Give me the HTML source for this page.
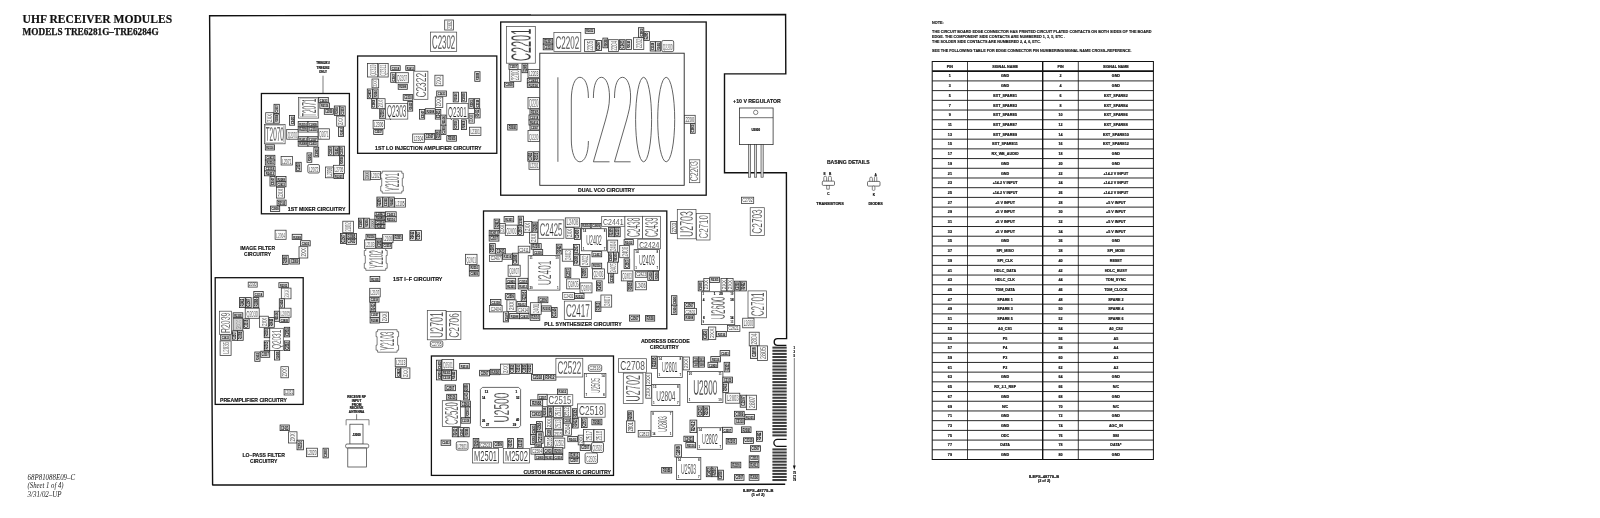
<!DOCTYPE html>
<html><head><meta charset="utf-8"><title>UHF Receiver Modules</title>
<style>
html,body{margin:0;padding:0;background:#fff;}
body{width:1600px;height:518px;overflow:hidden;font-family:"Liberation Sans",sans-serif;}
svg{display:block;filter:grayscale(1);font-family:"Liberation Sans",sans-serif;}
</style></head><body>
<svg width="1600" height="518" viewBox="0 0 1600 518">
<rect width="1600" height="518" fill="#fff"/>
<g opacity="0.999">
<text stroke="#111" stroke-width="0.2" x="22.6" y="23.2" font-size="12.4" text-anchor="start" font-weight="bold" font-family='"Liberation Serif", serif' font-style="normal" fill="#111" textLength="149.5" lengthAdjust="spacingAndGlyphs">UHF RECEIVER MODULES</text>
<text stroke="#111" stroke-width="0.25" x="22.6" y="35.4" font-size="9.6" text-anchor="start" font-weight="bold" font-family='"Liberation Serif", serif' font-style="normal" fill="#111" textLength="136.0" lengthAdjust="spacingAndGlyphs">MODELS TRE6281G&#8211;TRE6284G</text>
<text x="27.6" y="479.8" font-size="7.6" text-anchor="start" font-weight="normal" font-family='"Liberation Serif", serif' font-style="italic" fill="#222" textLength="47.5" lengthAdjust="spacingAndGlyphs">68P81088E09&#8211;C</text>
<text x="27.6" y="488.4" font-size="7.6" text-anchor="start" font-weight="normal" font-family='"Liberation Serif", serif' font-style="italic" fill="#222" textLength="36.0" lengthAdjust="spacingAndGlyphs">(Sheet 1 of 4)</text>
<text x="27.6" y="497.0" font-size="7.6" text-anchor="start" font-weight="normal" font-family='"Liberation Serif", serif' font-style="italic" fill="#222" textLength="34.0" lengthAdjust="spacingAndGlyphs">3/31/02&#8211;UP</text>
<path d="M212.6,485.0 L209.6,15.8 L785.6,14.5 L785.8,73.9 L724.5,73.9 L724.5,172.7 L786.4,172.7 L786.6,338.6 H777.6 a3.4,3.4 0 0 0 0,6.8 H786.4" fill="none" stroke="#111" stroke-width="1.4" stroke-linejoin="miter"/>
<path d="M212.2,485.1 L785.2,484.3" fill="none" stroke="#111" stroke-width="1.5"/>
<path d="M786.6,439.4 H777.4 a3.5,3.5 0 0 0 0,7 H786.6" fill="none" stroke="#111" stroke-width="1.3"/>
<rect x="772.4" y="346.60" width="14.3" height="2.05" fill="#3c3c3c"/>
<rect x="772.4" y="349.74" width="14.3" height="2.05" fill="#3c3c3c"/>
<rect x="772.4" y="352.87" width="14.3" height="2.05" fill="#3c3c3c"/>
<rect x="772.4" y="356.00" width="14.3" height="2.05" fill="#3c3c3c"/>
<rect x="772.4" y="359.14" width="14.3" height="2.05" fill="#3c3c3c"/>
<rect x="772.4" y="362.28" width="14.3" height="2.05" fill="#3c3c3c"/>
<rect x="772.4" y="365.41" width="14.3" height="2.05" fill="#3c3c3c"/>
<rect x="772.4" y="368.55" width="14.3" height="2.05" fill="#3c3c3c"/>
<rect x="772.4" y="371.68" width="14.3" height="2.05" fill="#3c3c3c"/>
<rect x="772.4" y="374.81" width="14.3" height="2.05" fill="#3c3c3c"/>
<rect x="772.4" y="377.95" width="14.3" height="2.05" fill="#3c3c3c"/>
<rect x="772.4" y="381.09" width="14.3" height="2.05" fill="#3c3c3c"/>
<rect x="772.4" y="384.22" width="14.3" height="2.05" fill="#3c3c3c"/>
<rect x="772.4" y="387.36" width="14.3" height="2.05" fill="#3c3c3c"/>
<rect x="772.4" y="390.49" width="14.3" height="2.05" fill="#3c3c3c"/>
<rect x="772.4" y="393.62" width="14.3" height="2.05" fill="#3c3c3c"/>
<rect x="772.4" y="396.76" width="14.3" height="2.05" fill="#3c3c3c"/>
<rect x="772.4" y="399.90" width="14.3" height="2.05" fill="#3c3c3c"/>
<rect x="772.4" y="403.03" width="14.3" height="2.05" fill="#3c3c3c"/>
<rect x="772.4" y="406.17" width="14.3" height="2.05" fill="#3c3c3c"/>
<rect x="772.4" y="409.30" width="14.3" height="2.05" fill="#3c3c3c"/>
<rect x="772.4" y="412.44" width="14.3" height="2.05" fill="#3c3c3c"/>
<rect x="772.4" y="415.57" width="14.3" height="2.05" fill="#3c3c3c"/>
<rect x="772.4" y="418.71" width="14.3" height="2.05" fill="#3c3c3c"/>
<rect x="772.4" y="421.84" width="14.3" height="2.05" fill="#3c3c3c"/>
<rect x="772.4" y="424.98" width="14.3" height="2.05" fill="#3c3c3c"/>
<rect x="772.4" y="428.11" width="14.3" height="2.05" fill="#3c3c3c"/>
<rect x="772.4" y="431.25" width="14.3" height="2.05" fill="#3c3c3c"/>
<rect x="772.4" y="434.38" width="14.3" height="2.05" fill="#3c3c3c"/>
<rect x="772.4" y="448.40" width="14.3" height="2.05" fill="#3c3c3c"/>
<rect x="772.4" y="451.46" width="14.3" height="2.05" fill="#3c3c3c"/>
<rect x="772.4" y="454.52" width="14.3" height="2.05" fill="#3c3c3c"/>
<rect x="772.4" y="457.58" width="14.3" height="2.05" fill="#3c3c3c"/>
<rect x="772.4" y="460.64" width="14.3" height="2.05" fill="#3c3c3c"/>
<rect x="772.4" y="463.70" width="14.3" height="2.05" fill="#3c3c3c"/>
<rect x="772.4" y="466.76" width="14.3" height="2.05" fill="#3c3c3c"/>
<rect x="772.4" y="469.82" width="14.3" height="2.05" fill="#3c3c3c"/>
<rect x="772.4" y="472.88" width="14.3" height="2.05" fill="#3c3c3c"/>
<rect x="772.4" y="475.94" width="14.3" height="2.05" fill="#3c3c3c"/>
<rect x="772.4" y="479.00" width="14.3" height="2.05" fill="#3c3c3c"/>
<line x1="794.3" y1="358" x2="794.3" y2="468" stroke="#222" stroke-width="0.6"/>
<path d="M792.9,465.5 L795.7,465.5 L794.3,470 Z" fill="#111"/>
<text x="794.3" y="349.2" font-size="2.8" text-anchor="middle" font-weight="bold" font-family='"Liberation Sans", sans-serif' font-style="normal" fill="#111" stroke="#111" stroke-width="0.18">1</text>
<text x="794.3" y="353.2" font-size="2.8" text-anchor="middle" font-weight="bold" font-family='"Liberation Sans", sans-serif' font-style="normal" fill="#111" stroke="#111" stroke-width="0.18">3</text>
<text x="794.3" y="357.0" font-size="2.8" text-anchor="middle" font-weight="bold" font-family='"Liberation Sans", sans-serif' font-style="normal" fill="#111" stroke="#111" stroke-width="0.18">5</text>
<text x="794.6" y="473.7" font-size="2.8" text-anchor="middle" font-weight="bold" font-family='"Liberation Sans", sans-serif' font-style="normal" fill="#111" stroke="#111" stroke-width="0.18">75</text>
<text x="794.6" y="477.5" font-size="2.8" text-anchor="middle" font-weight="bold" font-family='"Liberation Sans", sans-serif' font-style="normal" fill="#111" stroke="#111" stroke-width="0.18">77</text>
<text x="794.6" y="481.3" font-size="2.8" text-anchor="middle" font-weight="bold" font-family='"Liberation Sans", sans-serif' font-style="normal" fill="#111" stroke="#111" stroke-width="0.18">79</text>
<text x="758.2" y="491.9" font-size="3.6" text-anchor="middle" font-weight="bold" font-family='"Liberation Sans", sans-serif' font-style="normal" fill="#111" textLength="30.5" lengthAdjust="spacingAndGlyphs" stroke="#111" stroke-width="0.18">ILEPS&#8211;48779&#8211;B</text>
<text x="758.0" y="496.1" font-size="3.4" text-anchor="middle" font-weight="bold" font-family='"Liberation Sans", sans-serif' font-style="normal" fill="#111" textLength="13.0" lengthAdjust="spacingAndGlyphs" stroke="#111" stroke-width="0.18">(1 of 2)</text>
<rect x="261.4" y="93.5" width="88.0" height="120.3" fill="none" stroke="#111" stroke-width="1.3"/>
<rect x="357.6" y="56.0" width="139.2" height="97.3" fill="none" stroke="#111" stroke-width="1.3"/>
<rect x="500.7" y="22.0" width="205.5" height="173.2" fill="none" stroke="#111" stroke-width="1.3"/>
<rect x="215.2" y="277.7" width="88.0" height="126.7" fill="none" stroke="#111" stroke-width="1.3"/>
<rect x="483.5" y="211.0" width="183.3" height="117.8" fill="none" stroke="#111" stroke-width="1.3"/>
<rect x="431.4" y="356.0" width="182.1" height="119.4" fill="none" stroke="#111" stroke-width="1.3"/>
<text x="316.6" y="211.3" font-size="5.0" text-anchor="middle" font-weight="bold" font-family='"Liberation Sans", sans-serif' font-style="normal" fill="#111" textLength="57.6" lengthAdjust="spacingAndGlyphs" stroke="#111" stroke-width="0.14">1ST MIXER CIRCUITRY</text>
<text x="428.3" y="150.4" font-size="5.0" text-anchor="middle" font-weight="bold" font-family='"Liberation Sans", sans-serif' font-style="normal" fill="#111" textLength="106.4" lengthAdjust="spacingAndGlyphs" stroke="#111" stroke-width="0.14">1ST LO INJECTION AMPLIFIER CIRCUITRY</text>
<text x="606.3" y="192.3" font-size="5.0" text-anchor="middle" font-weight="bold" font-family='"Liberation Sans", sans-serif' font-style="normal" fill="#111" textLength="56.6" lengthAdjust="spacingAndGlyphs" stroke="#111" stroke-width="0.14">DUAL VCO CIRCUITRY</text>
<text x="253.5" y="401.7" font-size="5.0" text-anchor="middle" font-weight="bold" font-family='"Liberation Sans", sans-serif' font-style="normal" fill="#111" textLength="67.0" lengthAdjust="spacingAndGlyphs" stroke="#111" stroke-width="0.14">PREAMPLIFIER CIRCUITRY</text>
<text x="583.0" y="325.6" font-size="5.0" text-anchor="middle" font-weight="bold" font-family='"Liberation Sans", sans-serif' font-style="normal" fill="#111" textLength="77.3" lengthAdjust="spacingAndGlyphs" stroke="#111" stroke-width="0.14">PLL SYNTHESIZER CIRCUITRY</text>
<text x="567.2" y="473.6" font-size="5.0" text-anchor="middle" font-weight="bold" font-family='"Liberation Sans", sans-serif' font-style="normal" fill="#111" textLength="87.6" lengthAdjust="spacingAndGlyphs" stroke="#111" stroke-width="0.14">CUSTOM RECEIVER IC CIRCUITRY</text>
<text x="257.6" y="249.8" font-size="4.9" text-anchor="middle" font-weight="bold" font-family='"Liberation Sans", sans-serif' font-style="normal" fill="#111" textLength="34.8" lengthAdjust="spacingAndGlyphs" stroke="#111" stroke-width="0.14">IMAGE FILTER</text>
<text x="257.6" y="255.6" font-size="4.9" text-anchor="middle" font-weight="bold" font-family='"Liberation Sans", sans-serif' font-style="normal" fill="#111" textLength="27.0" lengthAdjust="spacingAndGlyphs" stroke="#111" stroke-width="0.14">CIRCUITRY</text>
<text x="417.7" y="281.0" font-size="5.0" text-anchor="middle" font-weight="bold" font-family='"Liberation Sans", sans-serif' font-style="normal" fill="#111" textLength="49.4" lengthAdjust="spacingAndGlyphs" stroke="#111" stroke-width="0.14">1ST I&#8211;F CIRCUITRY</text>
<text x="665.3" y="342.6" font-size="5.0" text-anchor="middle" font-weight="bold" font-family='"Liberation Sans", sans-serif' font-style="normal" fill="#111" textLength="48.8" lengthAdjust="spacingAndGlyphs" stroke="#111" stroke-width="0.14">ADDRESS DECODE</text>
<text x="664.3" y="348.8" font-size="5.0" text-anchor="middle" font-weight="bold" font-family='"Liberation Sans", sans-serif' font-style="normal" fill="#111" textLength="28.9" lengthAdjust="spacingAndGlyphs" stroke="#111" stroke-width="0.14">CIRCUITRY</text>
<text x="263.7" y="456.9" font-size="4.9" text-anchor="middle" font-weight="bold" font-family='"Liberation Sans", sans-serif' font-style="normal" fill="#111" textLength="42.5" lengthAdjust="spacingAndGlyphs" stroke="#111" stroke-width="0.14">LO&#8211;PASS FILTER</text>
<text x="263.7" y="462.7" font-size="4.9" text-anchor="middle" font-weight="bold" font-family='"Liberation Sans", sans-serif' font-style="normal" fill="#111" textLength="27.3" lengthAdjust="spacingAndGlyphs" stroke="#111" stroke-width="0.14">CIRCUITRY</text>
<text x="757.0" y="102.7" font-size="5.0" text-anchor="middle" font-weight="bold" font-family='"Liberation Sans", sans-serif' font-style="normal" fill="#111" textLength="47.8" lengthAdjust="spacingAndGlyphs" stroke="#111" stroke-width="0.14">+10 V REGULATOR</text>
<text x="323.0" y="64.4" font-size="3.3" text-anchor="middle" font-weight="bold" font-family='"Liberation Sans", sans-serif' font-style="normal" fill="#111" textLength="13.5" lengthAdjust="spacingAndGlyphs" stroke="#111" stroke-width="0.18">TRE6281/</text>
<text x="323.0" y="68.9" font-size="3.3" text-anchor="middle" font-weight="bold" font-family='"Liberation Sans", sans-serif' font-style="normal" fill="#111" textLength="13.0" lengthAdjust="spacingAndGlyphs" stroke="#111" stroke-width="0.18">TRE6282</text>
<text x="323.0" y="73.4" font-size="3.3" text-anchor="middle" font-weight="bold" font-family='"Liberation Sans", sans-serif' font-style="normal" fill="#111" textLength="8.0" lengthAdjust="spacingAndGlyphs" stroke="#111" stroke-width="0.18">ONLY</text>
<line x1="323" y1="75.7" x2="323" y2="93.5" stroke="#222" stroke-width="0.6"/>
<text x="356.6" y="398.3" font-size="3.2" text-anchor="middle" font-weight="bold" font-family='"Liberation Sans", sans-serif' font-style="normal" fill="#111" textLength="18.6" lengthAdjust="spacingAndGlyphs" stroke="#111" stroke-width="0.18">RECEIVE RF</text>
<text x="356.6" y="402.0" font-size="3.2" text-anchor="middle" font-weight="bold" font-family='"Liberation Sans", sans-serif' font-style="normal" fill="#111" textLength="9.5" lengthAdjust="spacingAndGlyphs" stroke="#111" stroke-width="0.18">INPUT</text>
<text x="356.6" y="405.7" font-size="3.2" text-anchor="middle" font-weight="bold" font-family='"Liberation Sans", sans-serif' font-style="normal" fill="#111" textLength="9.5" lengthAdjust="spacingAndGlyphs" stroke="#111" stroke-width="0.18">FROM</text>
<text x="356.6" y="409.3" font-size="3.2" text-anchor="middle" font-weight="bold" font-family='"Liberation Sans", sans-serif' font-style="normal" fill="#111" textLength="13.5" lengthAdjust="spacingAndGlyphs" stroke="#111" stroke-width="0.18">RECEIVE</text>
<text x="356.6" y="413.0" font-size="3.2" text-anchor="middle" font-weight="bold" font-family='"Liberation Sans", sans-serif' font-style="normal" fill="#111" textLength="15.5" lengthAdjust="spacingAndGlyphs" stroke="#111" stroke-width="0.18">ANTENNA</text>
<line x1="356.6" y1="414.2" x2="356.6" y2="419.7" stroke="#222" stroke-width="0.6"/>
<path d="M346.1,425.3 V419.7 H369 V425.3" fill="none" stroke="#333" stroke-width="0.6"/>
<rect x="349.9" y="424.2" width="13.1" height="20.0" fill="#fff" stroke="#333" stroke-width="0.7"/>
<text x="356.6" y="436.0" font-size="2.9" text-anchor="middle" font-weight="bold" font-family='"Liberation Sans", sans-serif' font-style="normal" fill="#111" stroke="#111" stroke-width="0.18">J2000</text>
<rect x="345.6" y="444.0" width="23.1" height="4.0" fill="#fff" stroke="#333" stroke-width="0.7" rx="1.5"/>
<rect x="347.8" y="448.0" width="18.8" height="19.0" fill="#fff" stroke="#333" stroke-width="0.7"/>
<line x1="348" y1="448.6" x2="366.4" y2="448.6" stroke="#888" stroke-width="0.5"/>
<rect x="739.4" y="108.0" width="33.7" height="36.6" fill="#fff" stroke="#333" stroke-width="0.8"/>
<line x1="739.4" y1="117.7" x2="773.1" y2="117.7" stroke="#333" stroke-width="0.7"/>
<circle cx="755.7" cy="112.4" r="2.2" fill="#fff" stroke="#333" stroke-width="0.6"/>
<text x="755.8" y="131.4" font-size="2.9" text-anchor="middle" font-weight="bold" font-family='"Liberation Sans", sans-serif' font-style="normal" fill="#111" stroke="#111" stroke-width="0.18">U2800</text>
<rect x="748.5" y="144.6" width="2.2" height="32.6" fill="#ddd" stroke="#333" stroke-width="0.6"/>
<rect x="754.5" y="144.6" width="2.2" height="32.6" fill="#ddd" stroke="#333" stroke-width="0.6"/>
<rect x="761.0" y="144.6" width="2.2" height="32.6" fill="#ddd" stroke="#333" stroke-width="0.6"/>
<text x="848.3" y="164.2" font-size="5.0" text-anchor="middle" font-weight="bold" font-family='"Liberation Sans", sans-serif' font-style="normal" fill="#111" textLength="42.8" lengthAdjust="spacingAndGlyphs" stroke="#111" stroke-width="0.14">BASING DETAILS</text>
<rect x="822.3" y="181.1" width="12.2" height="4.3" fill="#fff" stroke="#333" stroke-width="0.7" rx="1"/>
<path d="M823.8,181.1 V177.6 a1.4,1.4 0 0 1 2.8,0 V181.1 M828.4,181.1 V177.6 a1.5,1.5 0 0 1 3,0 V181.1" fill="none" stroke="#333" stroke-width="0.6"/>
<rect x="826.8" y="185.4" width="2.4" height="3.7" fill="#fff" stroke="#333" stroke-width="0.6"/>
<text x="824.5" y="174.6" font-size="3.2" text-anchor="middle" font-weight="bold" font-family='"Liberation Sans", sans-serif' font-style="normal" fill="#111" stroke="#111" stroke-width="0.18">E</text>
<text x="830.1" y="174.6" font-size="3.2" text-anchor="middle" font-weight="bold" font-family='"Liberation Sans", sans-serif' font-style="normal" fill="#111" stroke="#111" stroke-width="0.18">B</text>
<text x="828.4" y="194.6" font-size="3.2" text-anchor="middle" font-weight="bold" font-family='"Liberation Sans", sans-serif' font-style="normal" fill="#111" stroke="#111" stroke-width="0.18">C</text>
<text x="830.0" y="204.7" font-size="3.6" text-anchor="middle" font-weight="bold" font-family='"Liberation Sans", sans-serif' font-style="normal" fill="#111" textLength="27.4" lengthAdjust="spacingAndGlyphs" stroke="#111" stroke-width="0.18">TRANSISTORS</text>
<rect x="867.5" y="181.4" width="12.5" height="4.7" fill="#fff" stroke="#333" stroke-width="0.7" rx="1"/>
<path d="M869.8,181.4 V178.4 a1.3,1.3 0 0 1 2.6,0 V181.4 M874.4,181.4 V177.6 a1.2,1.2 0 0 1 2.4,0 V181.4" fill="none" stroke="#333" stroke-width="0.6"/>
<rect x="872.3" y="186.1" width="2.6" height="4.3" fill="#fff" stroke="#333" stroke-width="0.6" rx="1"/>
<text x="875.7" y="175.8" font-size="3.2" text-anchor="middle" font-weight="bold" font-family='"Liberation Sans", sans-serif' font-style="normal" fill="#111" stroke="#111" stroke-width="0.18">A</text>
<text x="874.0" y="195.6" font-size="3.2" text-anchor="middle" font-weight="bold" font-family='"Liberation Sans", sans-serif' font-style="normal" fill="#111" stroke="#111" stroke-width="0.18">K</text>
<text x="875.6" y="204.7" font-size="3.6" text-anchor="middle" font-weight="bold" font-family='"Liberation Sans", sans-serif' font-style="normal" fill="#111" textLength="14.4" lengthAdjust="spacingAndGlyphs" stroke="#111" stroke-width="0.18">DIODES</text>
<text x="932.1" y="24.1" font-size="4.15" text-anchor="start" font-weight="bold" font-family='"Liberation Sans", sans-serif' font-style="normal" fill="#111" textLength="11.7" lengthAdjust="spacingAndGlyphs" stroke="#111" stroke-width="0.14">NOTE:</text>
<text x="932.1" y="33.4" font-size="4.15" text-anchor="start" font-weight="bold" font-family='"Liberation Sans", sans-serif' font-style="normal" fill="#111" textLength="219.5" lengthAdjust="spacingAndGlyphs" stroke="#111" stroke-width="0.14">THE CIRCUIT BOARD EDGE CONNECTOR HAS PRINTED CIRCUIT PLATED CONTACTS ON BOTH SIDES OF THE BOARD</text>
<text x="932.1" y="38.1" font-size="4.15" text-anchor="start" font-weight="bold" font-family='"Liberation Sans", sans-serif' font-style="normal" fill="#111" textLength="133.0" lengthAdjust="spacingAndGlyphs" stroke="#111" stroke-width="0.14">EDGE. THE COMPONENT SIDE CONTACTS ARE NUMBERED 1, 3, 5, ETC .</text>
<text x="932.1" y="43.1" font-size="4.15" text-anchor="start" font-weight="bold" font-family='"Liberation Sans", sans-serif' font-style="normal" fill="#111" textLength="108.8" lengthAdjust="spacingAndGlyphs" stroke="#111" stroke-width="0.14">THE SOLDER SIDE CONTACTS ARE NUMBERED 2, 4, 6, ETC.</text>
<text x="932.1" y="52.4" font-size="4.15" text-anchor="start" font-weight="bold" font-family='"Liberation Sans", sans-serif' font-style="normal" fill="#111" textLength="199.5" lengthAdjust="spacingAndGlyphs" stroke="#111" stroke-width="0.14">SEE THE FOLLOWING TABLE FOR EDGE CONNECTOR PIN NUMBERING/SIGNAL NAME CROSS&#8211;REFERENCE.</text>
<rect x="932.2" y="61.5" width="221.2" height="398.0" fill="#fff" stroke="#111" stroke-width="1.0"/>
<line x1="932.2" y1="71.21" x2="1153.4" y2="71.21" stroke="#111" stroke-width="1.7"/>
<line x1="932.2" y1="80.91" x2="1153.4" y2="80.91" stroke="#111" stroke-width="0.9"/>
<line x1="932.2" y1="90.62" x2="1153.4" y2="90.62" stroke="#111" stroke-width="0.9"/>
<line x1="932.2" y1="100.33" x2="1153.4" y2="100.33" stroke="#111" stroke-width="0.9"/>
<line x1="932.2" y1="110.04" x2="1153.4" y2="110.04" stroke="#111" stroke-width="0.9"/>
<line x1="932.2" y1="119.74" x2="1153.4" y2="119.74" stroke="#111" stroke-width="0.9"/>
<line x1="932.2" y1="129.45" x2="1153.4" y2="129.45" stroke="#111" stroke-width="0.9"/>
<line x1="932.2" y1="139.16" x2="1153.4" y2="139.16" stroke="#111" stroke-width="0.9"/>
<line x1="932.2" y1="148.87" x2="1153.4" y2="148.87" stroke="#111" stroke-width="0.9"/>
<line x1="932.2" y1="158.57" x2="1153.4" y2="158.57" stroke="#111" stroke-width="0.9"/>
<line x1="932.2" y1="168.28" x2="1153.4" y2="168.28" stroke="#111" stroke-width="0.9"/>
<line x1="932.2" y1="177.99" x2="1153.4" y2="177.99" stroke="#111" stroke-width="0.9"/>
<line x1="932.2" y1="187.70" x2="1153.4" y2="187.70" stroke="#111" stroke-width="0.9"/>
<line x1="932.2" y1="197.40" x2="1153.4" y2="197.40" stroke="#111" stroke-width="0.9"/>
<line x1="932.2" y1="207.11" x2="1153.4" y2="207.11" stroke="#111" stroke-width="0.9"/>
<line x1="932.2" y1="216.82" x2="1153.4" y2="216.82" stroke="#111" stroke-width="0.9"/>
<line x1="932.2" y1="226.52" x2="1153.4" y2="226.52" stroke="#111" stroke-width="0.9"/>
<line x1="932.2" y1="236.23" x2="1153.4" y2="236.23" stroke="#111" stroke-width="0.9"/>
<line x1="932.2" y1="245.94" x2="1153.4" y2="245.94" stroke="#111" stroke-width="0.9"/>
<line x1="932.2" y1="255.65" x2="1153.4" y2="255.65" stroke="#111" stroke-width="0.9"/>
<line x1="932.2" y1="265.35" x2="1153.4" y2="265.35" stroke="#111" stroke-width="0.9"/>
<line x1="932.2" y1="275.06" x2="1153.4" y2="275.06" stroke="#111" stroke-width="0.9"/>
<line x1="932.2" y1="284.77" x2="1153.4" y2="284.77" stroke="#111" stroke-width="0.9"/>
<line x1="932.2" y1="294.48" x2="1153.4" y2="294.48" stroke="#111" stroke-width="0.9"/>
<line x1="932.2" y1="304.18" x2="1153.4" y2="304.18" stroke="#111" stroke-width="0.9"/>
<line x1="932.2" y1="313.89" x2="1153.4" y2="313.89" stroke="#111" stroke-width="0.9"/>
<line x1="932.2" y1="323.60" x2="1153.4" y2="323.60" stroke="#111" stroke-width="0.9"/>
<line x1="932.2" y1="333.30" x2="1153.4" y2="333.30" stroke="#111" stroke-width="0.9"/>
<line x1="932.2" y1="343.01" x2="1153.4" y2="343.01" stroke="#111" stroke-width="0.9"/>
<line x1="932.2" y1="352.72" x2="1153.4" y2="352.72" stroke="#111" stroke-width="0.9"/>
<line x1="932.2" y1="362.43" x2="1153.4" y2="362.43" stroke="#111" stroke-width="0.9"/>
<line x1="932.2" y1="372.13" x2="1153.4" y2="372.13" stroke="#111" stroke-width="0.9"/>
<line x1="932.2" y1="381.84" x2="1153.4" y2="381.84" stroke="#111" stroke-width="0.9"/>
<line x1="932.2" y1="391.55" x2="1153.4" y2="391.55" stroke="#111" stroke-width="0.9"/>
<line x1="932.2" y1="401.26" x2="1153.4" y2="401.26" stroke="#111" stroke-width="0.9"/>
<line x1="932.2" y1="410.96" x2="1153.4" y2="410.96" stroke="#111" stroke-width="0.9"/>
<line x1="932.2" y1="420.67" x2="1153.4" y2="420.67" stroke="#111" stroke-width="0.9"/>
<line x1="932.2" y1="430.38" x2="1153.4" y2="430.38" stroke="#111" stroke-width="0.9"/>
<line x1="932.2" y1="440.09" x2="1153.4" y2="440.09" stroke="#111" stroke-width="0.9"/>
<line x1="932.2" y1="449.79" x2="1153.4" y2="449.79" stroke="#111" stroke-width="0.9"/>
<line x1="967.5" y1="61.5" x2="967.5" y2="459.5" stroke="#111" stroke-width="0.8"/>
<line x1="1042.7" y1="61.5" x2="1042.7" y2="459.5" stroke="#111" stroke-width="1.4"/>
<line x1="1078.3" y1="61.5" x2="1078.3" y2="459.5" stroke="#111" stroke-width="0.8"/>
<text x="949.9" y="67.7" font-size="3.7" text-anchor="middle" font-weight="bold" font-family='"Liberation Sans", sans-serif' font-style="normal" fill="#111" stroke="#111" stroke-width="0.18">PIN</text>
<text x="1005.1" y="67.7" font-size="3.7" text-anchor="middle" font-weight="bold" font-family='"Liberation Sans", sans-serif' font-style="normal" fill="#111" stroke="#111" stroke-width="0.18">SIGNAL NAME</text>
<text x="1060.5" y="67.7" font-size="3.7" text-anchor="middle" font-weight="bold" font-family='"Liberation Sans", sans-serif' font-style="normal" fill="#111" stroke="#111" stroke-width="0.18">PIN</text>
<text x="1115.9" y="67.7" font-size="3.7" text-anchor="middle" font-weight="bold" font-family='"Liberation Sans", sans-serif' font-style="normal" fill="#111" stroke="#111" stroke-width="0.18">SIGNAL NAME</text>
<text x="949.9" y="77.4" font-size="3.7" text-anchor="middle" font-weight="bold" font-family='"Liberation Sans", sans-serif' font-style="normal" fill="#111" stroke="#111" stroke-width="0.18">1</text>
<text x="1005.1" y="77.4" font-size="3.7" text-anchor="middle" font-weight="bold" font-family='"Liberation Sans", sans-serif' font-style="normal" fill="#111" stroke="#111" stroke-width="0.18">GND</text>
<text x="1060.5" y="77.4" font-size="3.7" text-anchor="middle" font-weight="bold" font-family='"Liberation Sans", sans-serif' font-style="normal" fill="#111" stroke="#111" stroke-width="0.18">2</text>
<text x="1115.9" y="77.4" font-size="3.7" text-anchor="middle" font-weight="bold" font-family='"Liberation Sans", sans-serif' font-style="normal" fill="#111" stroke="#111" stroke-width="0.18">GND</text>
<text x="949.9" y="87.1" font-size="3.7" text-anchor="middle" font-weight="bold" font-family='"Liberation Sans", sans-serif' font-style="normal" fill="#111" stroke="#111" stroke-width="0.18">3</text>
<text x="1005.1" y="87.1" font-size="3.7" text-anchor="middle" font-weight="bold" font-family='"Liberation Sans", sans-serif' font-style="normal" fill="#111" stroke="#111" stroke-width="0.18">GND</text>
<text x="1060.5" y="87.1" font-size="3.7" text-anchor="middle" font-weight="bold" font-family='"Liberation Sans", sans-serif' font-style="normal" fill="#111" stroke="#111" stroke-width="0.18">4</text>
<text x="1115.9" y="87.1" font-size="3.7" text-anchor="middle" font-weight="bold" font-family='"Liberation Sans", sans-serif' font-style="normal" fill="#111" stroke="#111" stroke-width="0.18">GND</text>
<text x="949.9" y="96.8" font-size="3.7" text-anchor="middle" font-weight="bold" font-family='"Liberation Sans", sans-serif' font-style="normal" fill="#111" stroke="#111" stroke-width="0.18">5</text>
<text x="1005.1" y="96.8" font-size="3.7" text-anchor="middle" font-weight="bold" font-family='"Liberation Sans", sans-serif' font-style="normal" fill="#111" stroke="#111" stroke-width="0.18">EXT_SPARE1</text>
<text x="1060.5" y="96.8" font-size="3.7" text-anchor="middle" font-weight="bold" font-family='"Liberation Sans", sans-serif' font-style="normal" fill="#111" stroke="#111" stroke-width="0.18">6</text>
<text x="1115.9" y="96.8" font-size="3.7" text-anchor="middle" font-weight="bold" font-family='"Liberation Sans", sans-serif' font-style="normal" fill="#111" stroke="#111" stroke-width="0.18">EXT_SPARE2</text>
<text x="949.9" y="106.5" font-size="3.7" text-anchor="middle" font-weight="bold" font-family='"Liberation Sans", sans-serif' font-style="normal" fill="#111" stroke="#111" stroke-width="0.18">7</text>
<text x="1005.1" y="106.5" font-size="3.7" text-anchor="middle" font-weight="bold" font-family='"Liberation Sans", sans-serif' font-style="normal" fill="#111" stroke="#111" stroke-width="0.18">EXT_SPARE3</text>
<text x="1060.5" y="106.5" font-size="3.7" text-anchor="middle" font-weight="bold" font-family='"Liberation Sans", sans-serif' font-style="normal" fill="#111" stroke="#111" stroke-width="0.18">8</text>
<text x="1115.9" y="106.5" font-size="3.7" text-anchor="middle" font-weight="bold" font-family='"Liberation Sans", sans-serif' font-style="normal" fill="#111" stroke="#111" stroke-width="0.18">EXT_SPARE4</text>
<text x="949.9" y="116.2" font-size="3.7" text-anchor="middle" font-weight="bold" font-family='"Liberation Sans", sans-serif' font-style="normal" fill="#111" stroke="#111" stroke-width="0.18">9</text>
<text x="1005.1" y="116.2" font-size="3.7" text-anchor="middle" font-weight="bold" font-family='"Liberation Sans", sans-serif' font-style="normal" fill="#111" stroke="#111" stroke-width="0.18">EXT_SPARE5</text>
<text x="1060.5" y="116.2" font-size="3.7" text-anchor="middle" font-weight="bold" font-family='"Liberation Sans", sans-serif' font-style="normal" fill="#111" stroke="#111" stroke-width="0.18">10</text>
<text x="1115.9" y="116.2" font-size="3.7" text-anchor="middle" font-weight="bold" font-family='"Liberation Sans", sans-serif' font-style="normal" fill="#111" stroke="#111" stroke-width="0.18">EXT_SPARE6</text>
<text x="949.9" y="125.9" font-size="3.7" text-anchor="middle" font-weight="bold" font-family='"Liberation Sans", sans-serif' font-style="normal" fill="#111" stroke="#111" stroke-width="0.18">11</text>
<text x="1005.1" y="125.9" font-size="3.7" text-anchor="middle" font-weight="bold" font-family='"Liberation Sans", sans-serif' font-style="normal" fill="#111" stroke="#111" stroke-width="0.18">EXT_SPARE7</text>
<text x="1060.5" y="125.9" font-size="3.7" text-anchor="middle" font-weight="bold" font-family='"Liberation Sans", sans-serif' font-style="normal" fill="#111" stroke="#111" stroke-width="0.18">12</text>
<text x="1115.9" y="125.9" font-size="3.7" text-anchor="middle" font-weight="bold" font-family='"Liberation Sans", sans-serif' font-style="normal" fill="#111" stroke="#111" stroke-width="0.18">EXT_SPARE8</text>
<text x="949.9" y="135.7" font-size="3.7" text-anchor="middle" font-weight="bold" font-family='"Liberation Sans", sans-serif' font-style="normal" fill="#111" stroke="#111" stroke-width="0.18">13</text>
<text x="1005.1" y="135.7" font-size="3.7" text-anchor="middle" font-weight="bold" font-family='"Liberation Sans", sans-serif' font-style="normal" fill="#111" stroke="#111" stroke-width="0.18">EXT_SPARE9</text>
<text x="1060.5" y="135.7" font-size="3.7" text-anchor="middle" font-weight="bold" font-family='"Liberation Sans", sans-serif' font-style="normal" fill="#111" stroke="#111" stroke-width="0.18">14</text>
<text x="1115.9" y="135.7" font-size="3.7" text-anchor="middle" font-weight="bold" font-family='"Liberation Sans", sans-serif' font-style="normal" fill="#111" stroke="#111" stroke-width="0.18">EXT_SPARE10</text>
<text x="949.9" y="145.4" font-size="3.7" text-anchor="middle" font-weight="bold" font-family='"Liberation Sans", sans-serif' font-style="normal" fill="#111" stroke="#111" stroke-width="0.18">15</text>
<text x="1005.1" y="145.4" font-size="3.7" text-anchor="middle" font-weight="bold" font-family='"Liberation Sans", sans-serif' font-style="normal" fill="#111" stroke="#111" stroke-width="0.18">EXT_SPARE11</text>
<text x="1060.5" y="145.4" font-size="3.7" text-anchor="middle" font-weight="bold" font-family='"Liberation Sans", sans-serif' font-style="normal" fill="#111" stroke="#111" stroke-width="0.18">16</text>
<text x="1115.9" y="145.4" font-size="3.7" text-anchor="middle" font-weight="bold" font-family='"Liberation Sans", sans-serif' font-style="normal" fill="#111" stroke="#111" stroke-width="0.18">EXT_SPARE12</text>
<text x="949.9" y="155.1" font-size="3.7" text-anchor="middle" font-weight="bold" font-family='"Liberation Sans", sans-serif' font-style="normal" fill="#111" stroke="#111" stroke-width="0.18">17</text>
<text x="1005.1" y="155.1" font-size="3.7" text-anchor="middle" font-weight="bold" font-family='"Liberation Sans", sans-serif' font-style="normal" fill="#111" stroke="#111" stroke-width="0.18">RX_WB_AUDIO</text>
<text x="1060.5" y="155.1" font-size="3.7" text-anchor="middle" font-weight="bold" font-family='"Liberation Sans", sans-serif' font-style="normal" fill="#111" stroke="#111" stroke-width="0.18">18</text>
<text x="1115.9" y="155.1" font-size="3.7" text-anchor="middle" font-weight="bold" font-family='"Liberation Sans", sans-serif' font-style="normal" fill="#111" stroke="#111" stroke-width="0.18">GND</text>
<text x="949.9" y="164.8" font-size="3.7" text-anchor="middle" font-weight="bold" font-family='"Liberation Sans", sans-serif' font-style="normal" fill="#111" stroke="#111" stroke-width="0.18">19</text>
<text x="1005.1" y="164.8" font-size="3.7" text-anchor="middle" font-weight="bold" font-family='"Liberation Sans", sans-serif' font-style="normal" fill="#111" stroke="#111" stroke-width="0.18">GND</text>
<text x="1060.5" y="164.8" font-size="3.7" text-anchor="middle" font-weight="bold" font-family='"Liberation Sans", sans-serif' font-style="normal" fill="#111" stroke="#111" stroke-width="0.18">20</text>
<text x="1115.9" y="164.8" font-size="3.7" text-anchor="middle" font-weight="bold" font-family='"Liberation Sans", sans-serif' font-style="normal" fill="#111" stroke="#111" stroke-width="0.18">GND</text>
<text x="949.9" y="174.5" font-size="3.7" text-anchor="middle" font-weight="bold" font-family='"Liberation Sans", sans-serif' font-style="normal" fill="#111" stroke="#111" stroke-width="0.18">21</text>
<text x="1005.1" y="174.5" font-size="3.7" text-anchor="middle" font-weight="bold" font-family='"Liberation Sans", sans-serif' font-style="normal" fill="#111" stroke="#111" stroke-width="0.18">GND</text>
<text x="1060.5" y="174.5" font-size="3.7" text-anchor="middle" font-weight="bold" font-family='"Liberation Sans", sans-serif' font-style="normal" fill="#111" stroke="#111" stroke-width="0.18">22</text>
<text x="1115.9" y="174.5" font-size="3.7" text-anchor="middle" font-weight="bold" font-family='"Liberation Sans", sans-serif' font-style="normal" fill="#111" stroke="#111" stroke-width="0.18">+14.2 V INPUT</text>
<text x="949.9" y="184.2" font-size="3.7" text-anchor="middle" font-weight="bold" font-family='"Liberation Sans", sans-serif' font-style="normal" fill="#111" stroke="#111" stroke-width="0.18">23</text>
<text x="1005.1" y="184.2" font-size="3.7" text-anchor="middle" font-weight="bold" font-family='"Liberation Sans", sans-serif' font-style="normal" fill="#111" stroke="#111" stroke-width="0.18">+14.2 V INPUT</text>
<text x="1060.5" y="184.2" font-size="3.7" text-anchor="middle" font-weight="bold" font-family='"Liberation Sans", sans-serif' font-style="normal" fill="#111" stroke="#111" stroke-width="0.18">24</text>
<text x="1115.9" y="184.2" font-size="3.7" text-anchor="middle" font-weight="bold" font-family='"Liberation Sans", sans-serif' font-style="normal" fill="#111" stroke="#111" stroke-width="0.18">+14.2 V INPUT</text>
<text x="949.9" y="193.9" font-size="3.7" text-anchor="middle" font-weight="bold" font-family='"Liberation Sans", sans-serif' font-style="normal" fill="#111" stroke="#111" stroke-width="0.18">25</text>
<text x="1005.1" y="193.9" font-size="3.7" text-anchor="middle" font-weight="bold" font-family='"Liberation Sans", sans-serif' font-style="normal" fill="#111" stroke="#111" stroke-width="0.18">+14.2 V INPUT</text>
<text x="1060.5" y="193.9" font-size="3.7" text-anchor="middle" font-weight="bold" font-family='"Liberation Sans", sans-serif' font-style="normal" fill="#111" stroke="#111" stroke-width="0.18">26</text>
<text x="1115.9" y="193.9" font-size="3.7" text-anchor="middle" font-weight="bold" font-family='"Liberation Sans", sans-serif' font-style="normal" fill="#111" stroke="#111" stroke-width="0.18">+14.2 V INPUT</text>
<text x="949.9" y="203.6" font-size="3.7" text-anchor="middle" font-weight="bold" font-family='"Liberation Sans", sans-serif' font-style="normal" fill="#111" stroke="#111" stroke-width="0.18">27</text>
<text x="1005.1" y="203.6" font-size="3.7" text-anchor="middle" font-weight="bold" font-family='"Liberation Sans", sans-serif' font-style="normal" fill="#111" stroke="#111" stroke-width="0.18">+5 V INPUT</text>
<text x="1060.5" y="203.6" font-size="3.7" text-anchor="middle" font-weight="bold" font-family='"Liberation Sans", sans-serif' font-style="normal" fill="#111" stroke="#111" stroke-width="0.18">28</text>
<text x="1115.9" y="203.6" font-size="3.7" text-anchor="middle" font-weight="bold" font-family='"Liberation Sans", sans-serif' font-style="normal" fill="#111" stroke="#111" stroke-width="0.18">+5 V INPUT</text>
<text x="949.9" y="213.3" font-size="3.7" text-anchor="middle" font-weight="bold" font-family='"Liberation Sans", sans-serif' font-style="normal" fill="#111" stroke="#111" stroke-width="0.18">29</text>
<text x="1005.1" y="213.3" font-size="3.7" text-anchor="middle" font-weight="bold" font-family='"Liberation Sans", sans-serif' font-style="normal" fill="#111" stroke="#111" stroke-width="0.18">+5 V INPUT</text>
<text x="1060.5" y="213.3" font-size="3.7" text-anchor="middle" font-weight="bold" font-family='"Liberation Sans", sans-serif' font-style="normal" fill="#111" stroke="#111" stroke-width="0.18">30</text>
<text x="1115.9" y="213.3" font-size="3.7" text-anchor="middle" font-weight="bold" font-family='"Liberation Sans", sans-serif' font-style="normal" fill="#111" stroke="#111" stroke-width="0.18">+5 V INPUT</text>
<text x="949.9" y="223.0" font-size="3.7" text-anchor="middle" font-weight="bold" font-family='"Liberation Sans", sans-serif' font-style="normal" fill="#111" stroke="#111" stroke-width="0.18">31</text>
<text x="1005.1" y="223.0" font-size="3.7" text-anchor="middle" font-weight="bold" font-family='"Liberation Sans", sans-serif' font-style="normal" fill="#111" stroke="#111" stroke-width="0.18">+5 V INPUT</text>
<text x="1060.5" y="223.0" font-size="3.7" text-anchor="middle" font-weight="bold" font-family='"Liberation Sans", sans-serif' font-style="normal" fill="#111" stroke="#111" stroke-width="0.18">32</text>
<text x="1115.9" y="223.0" font-size="3.7" text-anchor="middle" font-weight="bold" font-family='"Liberation Sans", sans-serif' font-style="normal" fill="#111" stroke="#111" stroke-width="0.18">+5 V INPUT</text>
<text x="949.9" y="232.7" font-size="3.7" text-anchor="middle" font-weight="bold" font-family='"Liberation Sans", sans-serif' font-style="normal" fill="#111" stroke="#111" stroke-width="0.18">33</text>
<text x="1005.1" y="232.7" font-size="3.7" text-anchor="middle" font-weight="bold" font-family='"Liberation Sans", sans-serif' font-style="normal" fill="#111" stroke="#111" stroke-width="0.18">+5 V INPUT</text>
<text x="1060.5" y="232.7" font-size="3.7" text-anchor="middle" font-weight="bold" font-family='"Liberation Sans", sans-serif' font-style="normal" fill="#111" stroke="#111" stroke-width="0.18">34</text>
<text x="1115.9" y="232.7" font-size="3.7" text-anchor="middle" font-weight="bold" font-family='"Liberation Sans", sans-serif' font-style="normal" fill="#111" stroke="#111" stroke-width="0.18">+5 V INPUT</text>
<text x="949.9" y="242.4" font-size="3.7" text-anchor="middle" font-weight="bold" font-family='"Liberation Sans", sans-serif' font-style="normal" fill="#111" stroke="#111" stroke-width="0.18">35</text>
<text x="1005.1" y="242.4" font-size="3.7" text-anchor="middle" font-weight="bold" font-family='"Liberation Sans", sans-serif' font-style="normal" fill="#111" stroke="#111" stroke-width="0.18">GND</text>
<text x="1060.5" y="242.4" font-size="3.7" text-anchor="middle" font-weight="bold" font-family='"Liberation Sans", sans-serif' font-style="normal" fill="#111" stroke="#111" stroke-width="0.18">36</text>
<text x="1115.9" y="242.4" font-size="3.7" text-anchor="middle" font-weight="bold" font-family='"Liberation Sans", sans-serif' font-style="normal" fill="#111" stroke="#111" stroke-width="0.18">GND</text>
<text x="949.9" y="252.1" font-size="3.7" text-anchor="middle" font-weight="bold" font-family='"Liberation Sans", sans-serif' font-style="normal" fill="#111" stroke="#111" stroke-width="0.18">37</text>
<text x="1005.1" y="252.1" font-size="3.7" text-anchor="middle" font-weight="bold" font-family='"Liberation Sans", sans-serif' font-style="normal" fill="#111" stroke="#111" stroke-width="0.18">SPI_MISO</text>
<text x="1060.5" y="252.1" font-size="3.7" text-anchor="middle" font-weight="bold" font-family='"Liberation Sans", sans-serif' font-style="normal" fill="#111" stroke="#111" stroke-width="0.18">38</text>
<text x="1115.9" y="252.1" font-size="3.7" text-anchor="middle" font-weight="bold" font-family='"Liberation Sans", sans-serif' font-style="normal" fill="#111" stroke="#111" stroke-width="0.18">SPI_MOSI</text>
<text x="949.9" y="261.9" font-size="3.7" text-anchor="middle" font-weight="bold" font-family='"Liberation Sans", sans-serif' font-style="normal" fill="#111" stroke="#111" stroke-width="0.18">39</text>
<text x="1005.1" y="261.9" font-size="3.7" text-anchor="middle" font-weight="bold" font-family='"Liberation Sans", sans-serif' font-style="normal" fill="#111" stroke="#111" stroke-width="0.18">SPI_CLK</text>
<text x="1060.5" y="261.9" font-size="3.7" text-anchor="middle" font-weight="bold" font-family='"Liberation Sans", sans-serif' font-style="normal" fill="#111" stroke="#111" stroke-width="0.18">40</text>
<text x="1115.9" y="261.9" font-size="3.7" text-anchor="middle" font-weight="bold" font-family='"Liberation Sans", sans-serif' font-style="normal" fill="#111" stroke="#111" stroke-width="0.18">RESET</text>
<text x="949.9" y="271.6" font-size="3.7" text-anchor="middle" font-weight="bold" font-family='"Liberation Sans", sans-serif' font-style="normal" fill="#111" stroke="#111" stroke-width="0.18">41</text>
<text x="1005.1" y="271.6" font-size="3.7" text-anchor="middle" font-weight="bold" font-family='"Liberation Sans", sans-serif' font-style="normal" fill="#111" stroke="#111" stroke-width="0.18">HDLC_DATA</text>
<text x="1060.5" y="271.6" font-size="3.7" text-anchor="middle" font-weight="bold" font-family='"Liberation Sans", sans-serif' font-style="normal" fill="#111" stroke="#111" stroke-width="0.18">42</text>
<text x="1115.9" y="271.6" font-size="3.7" text-anchor="middle" font-weight="bold" font-family='"Liberation Sans", sans-serif' font-style="normal" fill="#111" stroke="#111" stroke-width="0.18">HDLC_BUSY</text>
<text x="949.9" y="281.3" font-size="3.7" text-anchor="middle" font-weight="bold" font-family='"Liberation Sans", sans-serif' font-style="normal" fill="#111" stroke="#111" stroke-width="0.18">43</text>
<text x="1005.1" y="281.3" font-size="3.7" text-anchor="middle" font-weight="bold" font-family='"Liberation Sans", sans-serif' font-style="normal" fill="#111" stroke="#111" stroke-width="0.18">HDLC_CLK</text>
<text x="1060.5" y="281.3" font-size="3.7" text-anchor="middle" font-weight="bold" font-family='"Liberation Sans", sans-serif' font-style="normal" fill="#111" stroke="#111" stroke-width="0.18">44</text>
<text x="1115.9" y="281.3" font-size="3.7" text-anchor="middle" font-weight="bold" font-family='"Liberation Sans", sans-serif' font-style="normal" fill="#111" stroke="#111" stroke-width="0.18">TDM_SYNC</text>
<text x="949.9" y="291.0" font-size="3.7" text-anchor="middle" font-weight="bold" font-family='"Liberation Sans", sans-serif' font-style="normal" fill="#111" stroke="#111" stroke-width="0.18">45</text>
<text x="1005.1" y="291.0" font-size="3.7" text-anchor="middle" font-weight="bold" font-family='"Liberation Sans", sans-serif' font-style="normal" fill="#111" stroke="#111" stroke-width="0.18">TDM_DATA</text>
<text x="1060.5" y="291.0" font-size="3.7" text-anchor="middle" font-weight="bold" font-family='"Liberation Sans", sans-serif' font-style="normal" fill="#111" stroke="#111" stroke-width="0.18">46</text>
<text x="1115.9" y="291.0" font-size="3.7" text-anchor="middle" font-weight="bold" font-family='"Liberation Sans", sans-serif' font-style="normal" fill="#111" stroke="#111" stroke-width="0.18">TDM_CLOCK</text>
<text x="949.9" y="300.7" font-size="3.7" text-anchor="middle" font-weight="bold" font-family='"Liberation Sans", sans-serif' font-style="normal" fill="#111" stroke="#111" stroke-width="0.18">47</text>
<text x="1005.1" y="300.7" font-size="3.7" text-anchor="middle" font-weight="bold" font-family='"Liberation Sans", sans-serif' font-style="normal" fill="#111" stroke="#111" stroke-width="0.18">SPARE 1</text>
<text x="1060.5" y="300.7" font-size="3.7" text-anchor="middle" font-weight="bold" font-family='"Liberation Sans", sans-serif' font-style="normal" fill="#111" stroke="#111" stroke-width="0.18">48</text>
<text x="1115.9" y="300.7" font-size="3.7" text-anchor="middle" font-weight="bold" font-family='"Liberation Sans", sans-serif' font-style="normal" fill="#111" stroke="#111" stroke-width="0.18">SPARE 2</text>
<text x="949.9" y="310.4" font-size="3.7" text-anchor="middle" font-weight="bold" font-family='"Liberation Sans", sans-serif' font-style="normal" fill="#111" stroke="#111" stroke-width="0.18">49</text>
<text x="1005.1" y="310.4" font-size="3.7" text-anchor="middle" font-weight="bold" font-family='"Liberation Sans", sans-serif' font-style="normal" fill="#111" stroke="#111" stroke-width="0.18">SPARE 3</text>
<text x="1060.5" y="310.4" font-size="3.7" text-anchor="middle" font-weight="bold" font-family='"Liberation Sans", sans-serif' font-style="normal" fill="#111" stroke="#111" stroke-width="0.18">50</text>
<text x="1115.9" y="310.4" font-size="3.7" text-anchor="middle" font-weight="bold" font-family='"Liberation Sans", sans-serif' font-style="normal" fill="#111" stroke="#111" stroke-width="0.18">SPARE 4</text>
<text x="949.9" y="320.1" font-size="3.7" text-anchor="middle" font-weight="bold" font-family='"Liberation Sans", sans-serif' font-style="normal" fill="#111" stroke="#111" stroke-width="0.18">51</text>
<text x="1005.1" y="320.1" font-size="3.7" text-anchor="middle" font-weight="bold" font-family='"Liberation Sans", sans-serif' font-style="normal" fill="#111" stroke="#111" stroke-width="0.18">SPARE 5</text>
<text x="1060.5" y="320.1" font-size="3.7" text-anchor="middle" font-weight="bold" font-family='"Liberation Sans", sans-serif' font-style="normal" fill="#111" stroke="#111" stroke-width="0.18">52</text>
<text x="1115.9" y="320.1" font-size="3.7" text-anchor="middle" font-weight="bold" font-family='"Liberation Sans", sans-serif' font-style="normal" fill="#111" stroke="#111" stroke-width="0.18">SPARE 6</text>
<text x="949.9" y="329.8" font-size="3.7" text-anchor="middle" font-weight="bold" font-family='"Liberation Sans", sans-serif' font-style="normal" fill="#111" stroke="#111" stroke-width="0.18">53</text>
<text x="1005.1" y="329.8" font-size="3.7" text-anchor="middle" font-weight="bold" font-family='"Liberation Sans", sans-serif' font-style="normal" fill="#111" stroke="#111" stroke-width="0.18">A0_CS1</text>
<text x="1060.5" y="329.8" font-size="3.7" text-anchor="middle" font-weight="bold" font-family='"Liberation Sans", sans-serif' font-style="normal" fill="#111" stroke="#111" stroke-width="0.18">54</text>
<text x="1115.9" y="329.8" font-size="3.7" text-anchor="middle" font-weight="bold" font-family='"Liberation Sans", sans-serif' font-style="normal" fill="#111" stroke="#111" stroke-width="0.18">A0_CS2</text>
<text x="949.9" y="339.5" font-size="3.7" text-anchor="middle" font-weight="bold" font-family='"Liberation Sans", sans-serif' font-style="normal" fill="#111" stroke="#111" stroke-width="0.18">55</text>
<text x="1005.1" y="339.5" font-size="3.7" text-anchor="middle" font-weight="bold" font-family='"Liberation Sans", sans-serif' font-style="normal" fill="#111" stroke="#111" stroke-width="0.18">P5</text>
<text x="1060.5" y="339.5" font-size="3.7" text-anchor="middle" font-weight="bold" font-family='"Liberation Sans", sans-serif' font-style="normal" fill="#111" stroke="#111" stroke-width="0.18">56</text>
<text x="1115.9" y="339.5" font-size="3.7" text-anchor="middle" font-weight="bold" font-family='"Liberation Sans", sans-serif' font-style="normal" fill="#111" stroke="#111" stroke-width="0.18">A5</text>
<text x="949.9" y="349.2" font-size="3.7" text-anchor="middle" font-weight="bold" font-family='"Liberation Sans", sans-serif' font-style="normal" fill="#111" stroke="#111" stroke-width="0.18">57</text>
<text x="1005.1" y="349.2" font-size="3.7" text-anchor="middle" font-weight="bold" font-family='"Liberation Sans", sans-serif' font-style="normal" fill="#111" stroke="#111" stroke-width="0.18">P4</text>
<text x="1060.5" y="349.2" font-size="3.7" text-anchor="middle" font-weight="bold" font-family='"Liberation Sans", sans-serif' font-style="normal" fill="#111" stroke="#111" stroke-width="0.18">58</text>
<text x="1115.9" y="349.2" font-size="3.7" text-anchor="middle" font-weight="bold" font-family='"Liberation Sans", sans-serif' font-style="normal" fill="#111" stroke="#111" stroke-width="0.18">A4</text>
<text x="949.9" y="358.9" font-size="3.7" text-anchor="middle" font-weight="bold" font-family='"Liberation Sans", sans-serif' font-style="normal" fill="#111" stroke="#111" stroke-width="0.18">59</text>
<text x="1005.1" y="358.9" font-size="3.7" text-anchor="middle" font-weight="bold" font-family='"Liberation Sans", sans-serif' font-style="normal" fill="#111" stroke="#111" stroke-width="0.18">P3</text>
<text x="1060.5" y="358.9" font-size="3.7" text-anchor="middle" font-weight="bold" font-family='"Liberation Sans", sans-serif' font-style="normal" fill="#111" stroke="#111" stroke-width="0.18">60</text>
<text x="1115.9" y="358.9" font-size="3.7" text-anchor="middle" font-weight="bold" font-family='"Liberation Sans", sans-serif' font-style="normal" fill="#111" stroke="#111" stroke-width="0.18">A3</text>
<text x="949.9" y="368.6" font-size="3.7" text-anchor="middle" font-weight="bold" font-family='"Liberation Sans", sans-serif' font-style="normal" fill="#111" stroke="#111" stroke-width="0.18">61</text>
<text x="1005.1" y="368.6" font-size="3.7" text-anchor="middle" font-weight="bold" font-family='"Liberation Sans", sans-serif' font-style="normal" fill="#111" stroke="#111" stroke-width="0.18">P2</text>
<text x="1060.5" y="368.6" font-size="3.7" text-anchor="middle" font-weight="bold" font-family='"Liberation Sans", sans-serif' font-style="normal" fill="#111" stroke="#111" stroke-width="0.18">62</text>
<text x="1115.9" y="368.6" font-size="3.7" text-anchor="middle" font-weight="bold" font-family='"Liberation Sans", sans-serif' font-style="normal" fill="#111" stroke="#111" stroke-width="0.18">A2</text>
<text x="949.9" y="378.3" font-size="3.7" text-anchor="middle" font-weight="bold" font-family='"Liberation Sans", sans-serif' font-style="normal" fill="#111" stroke="#111" stroke-width="0.18">63</text>
<text x="1005.1" y="378.3" font-size="3.7" text-anchor="middle" font-weight="bold" font-family='"Liberation Sans", sans-serif' font-style="normal" fill="#111" stroke="#111" stroke-width="0.18">GND</text>
<text x="1060.5" y="378.3" font-size="3.7" text-anchor="middle" font-weight="bold" font-family='"Liberation Sans", sans-serif' font-style="normal" fill="#111" stroke="#111" stroke-width="0.18">64</text>
<text x="1115.9" y="378.3" font-size="3.7" text-anchor="middle" font-weight="bold" font-family='"Liberation Sans", sans-serif' font-style="normal" fill="#111" stroke="#111" stroke-width="0.18">GND</text>
<text x="949.9" y="388.0" font-size="3.7" text-anchor="middle" font-weight="bold" font-family='"Liberation Sans", sans-serif' font-style="normal" fill="#111" stroke="#111" stroke-width="0.18">65</text>
<text x="1005.1" y="388.0" font-size="3.7" text-anchor="middle" font-weight="bold" font-family='"Liberation Sans", sans-serif' font-style="normal" fill="#111" stroke="#111" stroke-width="0.18">RX_2.1_REF</text>
<text x="1060.5" y="388.0" font-size="3.7" text-anchor="middle" font-weight="bold" font-family='"Liberation Sans", sans-serif' font-style="normal" fill="#111" stroke="#111" stroke-width="0.18">66</text>
<text x="1115.9" y="388.0" font-size="3.7" text-anchor="middle" font-weight="bold" font-family='"Liberation Sans", sans-serif' font-style="normal" fill="#111" stroke="#111" stroke-width="0.18">N/C</text>
<text x="949.9" y="397.8" font-size="3.7" text-anchor="middle" font-weight="bold" font-family='"Liberation Sans", sans-serif' font-style="normal" fill="#111" stroke="#111" stroke-width="0.18">67</text>
<text x="1005.1" y="397.8" font-size="3.7" text-anchor="middle" font-weight="bold" font-family='"Liberation Sans", sans-serif' font-style="normal" fill="#111" stroke="#111" stroke-width="0.18">GND</text>
<text x="1060.5" y="397.8" font-size="3.7" text-anchor="middle" font-weight="bold" font-family='"Liberation Sans", sans-serif' font-style="normal" fill="#111" stroke="#111" stroke-width="0.18">68</text>
<text x="1115.9" y="397.8" font-size="3.7" text-anchor="middle" font-weight="bold" font-family='"Liberation Sans", sans-serif' font-style="normal" fill="#111" stroke="#111" stroke-width="0.18">GND</text>
<text x="949.9" y="407.5" font-size="3.7" text-anchor="middle" font-weight="bold" font-family='"Liberation Sans", sans-serif' font-style="normal" fill="#111" stroke="#111" stroke-width="0.18">69</text>
<text x="1005.1" y="407.5" font-size="3.7" text-anchor="middle" font-weight="bold" font-family='"Liberation Sans", sans-serif' font-style="normal" fill="#111" stroke="#111" stroke-width="0.18">N/C</text>
<text x="1060.5" y="407.5" font-size="3.7" text-anchor="middle" font-weight="bold" font-family='"Liberation Sans", sans-serif' font-style="normal" fill="#111" stroke="#111" stroke-width="0.18">70</text>
<text x="1115.9" y="407.5" font-size="3.7" text-anchor="middle" font-weight="bold" font-family='"Liberation Sans", sans-serif' font-style="normal" fill="#111" stroke="#111" stroke-width="0.18">N/C</text>
<text x="949.9" y="417.2" font-size="3.7" text-anchor="middle" font-weight="bold" font-family='"Liberation Sans", sans-serif' font-style="normal" fill="#111" stroke="#111" stroke-width="0.18">71</text>
<text x="1005.1" y="417.2" font-size="3.7" text-anchor="middle" font-weight="bold" font-family='"Liberation Sans", sans-serif' font-style="normal" fill="#111" stroke="#111" stroke-width="0.18">GND</text>
<text x="1060.5" y="417.2" font-size="3.7" text-anchor="middle" font-weight="bold" font-family='"Liberation Sans", sans-serif' font-style="normal" fill="#111" stroke="#111" stroke-width="0.18">72</text>
<text x="1115.9" y="417.2" font-size="3.7" text-anchor="middle" font-weight="bold" font-family='"Liberation Sans", sans-serif' font-style="normal" fill="#111" stroke="#111" stroke-width="0.18">GND</text>
<text x="949.9" y="426.9" font-size="3.7" text-anchor="middle" font-weight="bold" font-family='"Liberation Sans", sans-serif' font-style="normal" fill="#111" stroke="#111" stroke-width="0.18">73</text>
<text x="1005.1" y="426.9" font-size="3.7" text-anchor="middle" font-weight="bold" font-family='"Liberation Sans", sans-serif' font-style="normal" fill="#111" stroke="#111" stroke-width="0.18">GND</text>
<text x="1060.5" y="426.9" font-size="3.7" text-anchor="middle" font-weight="bold" font-family='"Liberation Sans", sans-serif' font-style="normal" fill="#111" stroke="#111" stroke-width="0.18">74</text>
<text x="1115.9" y="426.9" font-size="3.7" text-anchor="middle" font-weight="bold" font-family='"Liberation Sans", sans-serif' font-style="normal" fill="#111" stroke="#111" stroke-width="0.18">AGC_IN</text>
<text x="949.9" y="436.6" font-size="3.7" text-anchor="middle" font-weight="bold" font-family='"Liberation Sans", sans-serif' font-style="normal" fill="#111" stroke="#111" stroke-width="0.18">75</text>
<text x="1005.1" y="436.6" font-size="3.7" text-anchor="middle" font-weight="bold" font-family='"Liberation Sans", sans-serif' font-style="normal" fill="#111" stroke="#111" stroke-width="0.18">ODC</text>
<text x="1060.5" y="436.6" font-size="3.7" text-anchor="middle" font-weight="bold" font-family='"Liberation Sans", sans-serif' font-style="normal" fill="#111" stroke="#111" stroke-width="0.18">76</text>
<text x="1115.9" y="436.6" font-size="3.7" text-anchor="middle" font-weight="bold" font-family='"Liberation Sans", sans-serif' font-style="normal" fill="#111" stroke="#111" stroke-width="0.18">SBI</text>
<text x="949.9" y="446.3" font-size="3.7" text-anchor="middle" font-weight="bold" font-family='"Liberation Sans", sans-serif' font-style="normal" fill="#111" stroke="#111" stroke-width="0.18">77</text>
<text x="1005.1" y="446.3" font-size="3.7" text-anchor="middle" font-weight="bold" font-family='"Liberation Sans", sans-serif' font-style="normal" fill="#111" stroke="#111" stroke-width="0.18">DATA</text>
<text x="1060.5" y="446.3" font-size="3.7" text-anchor="middle" font-weight="bold" font-family='"Liberation Sans", sans-serif' font-style="normal" fill="#111" stroke="#111" stroke-width="0.18">78</text>
<text x="1115.9" y="446.3" font-size="3.7" text-anchor="middle" font-weight="bold" font-family='"Liberation Sans", sans-serif' font-style="normal" fill="#111" stroke="#111" stroke-width="0.18">DATA*</text>
<text x="949.9" y="456.0" font-size="3.7" text-anchor="middle" font-weight="bold" font-family='"Liberation Sans", sans-serif' font-style="normal" fill="#111" stroke="#111" stroke-width="0.18">79</text>
<text x="1005.1" y="456.0" font-size="3.7" text-anchor="middle" font-weight="bold" font-family='"Liberation Sans", sans-serif' font-style="normal" fill="#111" stroke="#111" stroke-width="0.18">GND</text>
<text x="1060.5" y="456.0" font-size="3.7" text-anchor="middle" font-weight="bold" font-family='"Liberation Sans", sans-serif' font-style="normal" fill="#111" stroke="#111" stroke-width="0.18">80</text>
<text x="1115.9" y="456.0" font-size="3.7" text-anchor="middle" font-weight="bold" font-family='"Liberation Sans", sans-serif' font-style="normal" fill="#111" stroke="#111" stroke-width="0.18">GND</text>
<text x="1044.1" y="477.8" font-size="3.6" text-anchor="middle" font-weight="bold" font-family='"Liberation Sans", sans-serif' font-style="normal" fill="#111" textLength="30.4" lengthAdjust="spacingAndGlyphs" stroke="#111" stroke-width="0.18">ILEPS&#8211;48779&#8211;B</text>
<text x="1044.1" y="482.1" font-size="3.4" text-anchor="middle" font-weight="bold" font-family='"Liberation Sans", sans-serif' font-style="normal" fill="#111" textLength="12.4" lengthAdjust="spacingAndGlyphs" stroke="#111" stroke-width="0.18">(2 of 2)</text>
<rect x="430.4" y="32.1" width="26.3" height="19.3" fill="#fff" stroke="#444" stroke-width="0.7"/>
<text x="432.0" y="48.7" font-size="19.4" textLength="23.1" lengthAdjust="spacingAndGlyphs" fill="#222" font-weight="normal" stroke="#fff" stroke-width="0.30">C2302</text>
<rect x="444.7" y="20.0" width="8.8" height="10.0" fill="#fafafa" stroke="#333" stroke-width="0.75"/>
<text x="445.0" y="27.8" font-size="7.9" textLength="8.2" lengthAdjust="spacingAndGlyphs" fill="#444" font-weight="normal" transform="rotate(-90 449.1 25.0)">2302</text>
<rect x="367.6" y="63.5" width="10.1" height="13.5" fill="#fafafa" stroke="#333" stroke-width="0.75"/>
<text x="367.1" y="73.5" font-size="9.0" textLength="11.1" lengthAdjust="spacingAndGlyphs" fill="#444" font-weight="normal" stroke="#fff" stroke-width="0.14" transform="rotate(-90 372.6 70.2)">Q2310</text>
<rect x="378.7" y="63.5" width="9.5" height="13.5" fill="#fafafa" stroke="#333" stroke-width="0.75"/>
<text x="377.9" y="73.3" font-size="8.5" textLength="11.1" lengthAdjust="spacingAndGlyphs" fill="#444" font-weight="normal" stroke="#fff" stroke-width="0.14" transform="rotate(-90 383.4 70.2)">Q2311</text>
<rect x="390.7" y="65.7" width="9.5" height="4.7" fill="#ececec" stroke="#2a2a2a" stroke-width="0.8"/>
<text x="391.7" y="69.5" font-size="3.9" textLength="7.4" lengthAdjust="spacingAndGlyphs" fill="#1a1a1a" font-weight="bold" stroke="#1a1a1a" stroke-width="0.1">C2318</text>
<rect x="405.8" y="65.7" width="9.0" height="4.7" fill="#ececec" stroke="#2a2a2a" stroke-width="0.8"/>
<text x="406.8" y="69.5" font-size="3.9" textLength="7.0" lengthAdjust="spacingAndGlyphs" fill="#1a1a1a" font-weight="bold" stroke="#1a1a1a" stroke-width="0.1">R2412</text>
<rect x="390.7" y="72.7" width="5.0" height="9.6" fill="#ececec" stroke="#2a2a2a" stroke-width="0.8"/>
<text x="389.5" y="79.0" font-size="4.2" textLength="7.5" lengthAdjust="spacingAndGlyphs" fill="#1a1a1a" font-weight="bold" stroke="#1a1a1a" stroke-width="0.1" transform="rotate(-90 393.2 77.5)">C2507</text>
<rect x="396.0" y="72.7" width="12.3" height="10.1" fill="#fafafa" stroke="#333" stroke-width="0.75"/>
<text x="397.1" y="81.0" font-size="9.0" textLength="10.1" lengthAdjust="spacingAndGlyphs" fill="#444" font-weight="normal" stroke="#fff" stroke-width="0.14">Q2307</text>
<rect x="398.2" y="84.3" width="9.1" height="5.0" fill="#ececec" stroke="#2a2a2a" stroke-width="0.8"/>
<text x="399.2" y="88.3" font-size="4.2" textLength="7.1" lengthAdjust="spacingAndGlyphs" fill="#1a1a1a" font-weight="bold" stroke="#1a1a1a" stroke-width="0.1">R2088</text>
<rect x="413.8" y="71.2" width="14.1" height="28.1" fill="#fff" stroke="#444" stroke-width="0.7"/>
<text x="408.5" y="90.3" font-size="14.2" textLength="24.7" lengthAdjust="spacingAndGlyphs" fill="#3a3a3a" font-weight="normal" stroke="#fff" stroke-width="0.23" transform="rotate(-90 420.9 85.2)">C2322</text>
<rect x="372.0" y="79.0" width="6.7" height="8.8" fill="#fafafa" stroke="#333" stroke-width="0.75"/>
<text x="372.1" y="85.4" font-size="5.6" textLength="6.6" lengthAdjust="spacingAndGlyphs" fill="#555" font-weight="normal" transform="rotate(-90 375.4 83.4)">2XX</text>
<rect x="367.3" y="89.0" width="5.2" height="9.7" fill="#ececec" stroke="#2a2a2a" stroke-width="0.8"/>
<text x="366.1" y="95.4" font-size="4.4" textLength="7.6" lengthAdjust="spacingAndGlyphs" fill="#1a1a1a" font-weight="bold" stroke="#1a1a1a" stroke-width="0.1" transform="rotate(-90 369.9 93.8)">C2433</text>
<rect x="372.9" y="89.0" width="5.2" height="9.7" fill="#ececec" stroke="#2a2a2a" stroke-width="0.8"/>
<text x="371.7" y="95.4" font-size="4.4" textLength="7.6" lengthAdjust="spacingAndGlyphs" fill="#1a1a1a" font-weight="bold" stroke="#1a1a1a" stroke-width="0.1" transform="rotate(-90 375.5 93.8)">R2516</text>
<rect x="371.7" y="98.7" width="4.8" height="9.6" fill="#ececec" stroke="#2a2a2a" stroke-width="0.8"/>
<text x="370.4" y="104.9" font-size="4.0" textLength="7.5" lengthAdjust="spacingAndGlyphs" fill="#1a1a1a" font-weight="bold" stroke="#1a1a1a" stroke-width="0.1" transform="rotate(-90 374.1 103.5)">C2809</text>
<rect x="377.1" y="98.7" width="8.0" height="10.0" fill="#fafafa" stroke="#333" stroke-width="0.75"/>
<text x="377.4" y="106.1" font-size="6.7" textLength="7.5" lengthAdjust="spacingAndGlyphs" fill="#555" font-weight="normal" transform="rotate(-90 381.1 103.7)">2XX</text>
<rect x="379.7" y="109.1" width="5.6" height="9.6" fill="#ececec" stroke="#2a2a2a" stroke-width="0.8"/>
<text x="378.8" y="115.6" font-size="4.7" textLength="7.5" lengthAdjust="spacingAndGlyphs" fill="#1a1a1a" font-weight="bold" stroke="#1a1a1a" stroke-width="0.1" transform="rotate(-90 382.5 113.9)">R2305</text>
<rect x="385.7" y="103.5" width="22.1" height="15.6" fill="#fff" stroke="#444" stroke-width="0.7"/>
<text x="387.0" y="116.9" font-size="15.7" textLength="19.4" lengthAdjust="spacingAndGlyphs" fill="#222" font-weight="normal" stroke="#fff" stroke-width="0.25">Q2303</text>
<rect x="403.2" y="94.6" width="9.5" height="5.7" fill="#ececec" stroke="#2a2a2a" stroke-width="0.8"/>
<text x="404.2" y="99.2" font-size="4.8" textLength="7.4" lengthAdjust="spacingAndGlyphs" fill="#1a1a1a" font-weight="bold" stroke="#1a1a1a" stroke-width="0.1">C2318</text>
<rect x="407.8" y="101.5" width="4.9" height="9.6" fill="#ececec" stroke="#2a2a2a" stroke-width="0.8"/>
<text x="406.5" y="107.8" font-size="4.1" textLength="7.5" lengthAdjust="spacingAndGlyphs" fill="#1a1a1a" font-weight="bold" stroke="#1a1a1a" stroke-width="0.1" transform="rotate(-90 410.2 106.3)">R2412</text>
<rect x="373.1" y="120.3" width="11.4" height="8.5" fill="#fafafa" stroke="#333" stroke-width="0.75"/>
<text x="374.1" y="127.3" font-size="7.6" textLength="9.3" lengthAdjust="spacingAndGlyphs" fill="#444" font-weight="normal">L2306</text>
<rect x="373.7" y="129.6" width="9.2" height="4.8" fill="#ececec" stroke="#2a2a2a" stroke-width="0.8"/>
<text x="374.7" y="133.4" font-size="4.0" textLength="7.2" lengthAdjust="spacingAndGlyphs" fill="#1a1a1a" font-weight="bold" stroke="#1a1a1a" stroke-width="0.1">C2507</text>
<rect x="434.9" y="75.2" width="8.1" height="10.6" fill="#fafafa" stroke="#333" stroke-width="0.75"/>
<text x="435.0" y="82.9" font-size="6.8" textLength="7.9" lengthAdjust="spacingAndGlyphs" fill="#555" font-weight="normal" transform="rotate(-90 438.9 80.5)">2XX</text>
<rect x="474.8" y="71.7" width="5.2" height="9.6" fill="#ececec" stroke="#2a2a2a" stroke-width="0.8"/>
<text x="473.7" y="78.1" font-size="4.4" textLength="7.5" lengthAdjust="spacingAndGlyphs" fill="#1a1a1a" font-weight="bold" stroke="#1a1a1a" stroke-width="0.1" transform="rotate(-90 477.4 76.5)">R2088</text>
<rect x="436.7" y="91.0" width="9.7" height="5.2" fill="#ececec" stroke="#2a2a2a" stroke-width="0.8"/>
<text x="437.8" y="95.2" font-size="4.4" textLength="7.6" lengthAdjust="spacingAndGlyphs" fill="#1a1a1a" font-weight="bold" stroke="#1a1a1a" stroke-width="0.1">C2433</text>
<rect x="435.3" y="97.0" width="7.5" height="10.5" fill="#fafafa" stroke="#333" stroke-width="0.75"/>
<text x="435.1" y="104.5" font-size="6.3" textLength="7.9" lengthAdjust="spacingAndGlyphs" fill="#555" font-weight="normal" transform="rotate(-90 439.1 102.2)">2XX</text>
<rect x="453.2" y="92.2" width="5.2" height="9.7" fill="#ececec" stroke="#2a2a2a" stroke-width="0.8"/>
<text x="452.0" y="98.6" font-size="4.4" textLength="7.6" lengthAdjust="spacingAndGlyphs" fill="#1a1a1a" font-weight="bold" stroke="#1a1a1a" stroke-width="0.1" transform="rotate(-90 455.8 97.1)">R2516</text>
<rect x="461.4" y="92.2" width="5.1" height="9.7" fill="#ececec" stroke="#2a2a2a" stroke-width="0.8"/>
<text x="460.2" y="98.6" font-size="4.3" textLength="7.6" lengthAdjust="spacingAndGlyphs" fill="#1a1a1a" font-weight="bold" stroke="#1a1a1a" stroke-width="0.1" transform="rotate(-90 463.9 97.1)">C2809</text>
<rect x="446.8" y="103.5" width="21.3" height="15.2" fill="#fff" stroke="#444" stroke-width="0.7"/>
<text x="448.1" y="116.6" font-size="15.3" textLength="18.7" lengthAdjust="spacingAndGlyphs" fill="#222" font-weight="normal" stroke="#fff" stroke-width="0.24">Q2301</text>
<rect x="468.9" y="98.7" width="4.8" height="9.6" fill="#ececec" stroke="#2a2a2a" stroke-width="0.8"/>
<text x="467.6" y="104.9" font-size="4.0" textLength="7.5" lengthAdjust="spacingAndGlyphs" fill="#1a1a1a" font-weight="bold" stroke="#1a1a1a" stroke-width="0.1" transform="rotate(-90 471.3 103.5)">R2305</text>
<rect x="474.5" y="98.7" width="5.2" height="9.6" fill="#ececec" stroke="#2a2a2a" stroke-width="0.8"/>
<text x="473.4" y="105.1" font-size="4.4" textLength="7.5" lengthAdjust="spacingAndGlyphs" fill="#1a1a1a" font-weight="bold" stroke="#1a1a1a" stroke-width="0.1" transform="rotate(-90 477.1 103.5)">C2318</text>
<rect x="474.5" y="108.7" width="5.6" height="9.2" fill="#ececec" stroke="#2a2a2a" stroke-width="0.8"/>
<text x="473.7" y="115.0" font-size="4.7" textLength="7.2" lengthAdjust="spacingAndGlyphs" fill="#1a1a1a" font-weight="bold" stroke="#1a1a1a" stroke-width="0.1" transform="rotate(-90 477.3 113.3)">R2412</text>
<rect x="468.9" y="113.5" width="5.6" height="9.7" fill="#cfcfcf" stroke="#3a3a3a" stroke-width="0.7"/>
<text x="468.1" y="120.0" font-size="4.7" textLength="7.3" lengthAdjust="spacingAndGlyphs" fill="#444" font-weight="normal" transform="rotate(-90 471.7 118.3)">2XX</text>
<rect x="419.5" y="109.5" width="5.2" height="9.6" fill="#ececec" stroke="#2a2a2a" stroke-width="0.8"/>
<text x="418.4" y="115.9" font-size="4.4" textLength="7.5" lengthAdjust="spacingAndGlyphs" fill="#1a1a1a" font-weight="bold" stroke="#1a1a1a" stroke-width="0.1" transform="rotate(-90 422.1 114.3)">C2507</text>
<rect x="425.3" y="108.7" width="10.0" height="5.2" fill="#ececec" stroke="#2a2a2a" stroke-width="0.8"/>
<text x="426.4" y="112.9" font-size="4.4" textLength="7.8" lengthAdjust="spacingAndGlyphs" fill="#1a1a1a" font-weight="bold" stroke="#1a1a1a" stroke-width="0.1">R2088</text>
<rect x="435.3" y="109.5" width="5.5" height="9.6" fill="#ececec" stroke="#2a2a2a" stroke-width="0.8"/>
<text x="434.3" y="116.0" font-size="4.6" textLength="7.5" lengthAdjust="spacingAndGlyphs" fill="#1a1a1a" font-weight="bold" stroke="#1a1a1a" stroke-width="0.1" transform="rotate(-90 438.1 114.3)">C2433</text>
<rect x="440.8" y="115.1" width="5.2" height="10.1" fill="#ececec" stroke="#2a2a2a" stroke-width="0.8"/>
<text x="439.5" y="121.7" font-size="4.4" textLength="7.9" lengthAdjust="spacingAndGlyphs" fill="#1a1a1a" font-weight="bold" stroke="#1a1a1a" stroke-width="0.1" transform="rotate(-90 443.4 120.2)">R2516</text>
<rect x="440.8" y="125.2" width="5.2" height="9.2" fill="#ececec" stroke="#2a2a2a" stroke-width="0.8"/>
<text x="439.8" y="131.4" font-size="4.4" textLength="7.2" lengthAdjust="spacingAndGlyphs" fill="#1a1a1a" font-weight="bold" stroke="#1a1a1a" stroke-width="0.1" transform="rotate(-90 443.4 129.8)">C2809</text>
<rect x="435.3" y="130.2" width="5.5" height="9.4" fill="#ececec" stroke="#2a2a2a" stroke-width="0.8"/>
<text x="434.4" y="136.5" font-size="4.6" textLength="7.3" lengthAdjust="spacingAndGlyphs" fill="#1a1a1a" font-weight="bold" stroke="#1a1a1a" stroke-width="0.1" transform="rotate(-90 438.1 134.9)">R2305</text>
<rect x="453.2" y="119.9" width="5.2" height="9.7" fill="#ececec" stroke="#2a2a2a" stroke-width="0.8"/>
<text x="452.0" y="126.3" font-size="4.4" textLength="7.6" lengthAdjust="spacingAndGlyphs" fill="#1a1a1a" font-weight="bold" stroke="#1a1a1a" stroke-width="0.1" transform="rotate(-90 455.8 124.8)">C2318</text>
<rect x="461.4" y="119.9" width="5.1" height="9.7" fill="#ececec" stroke="#2a2a2a" stroke-width="0.8"/>
<text x="460.2" y="126.3" font-size="4.3" textLength="7.6" lengthAdjust="spacingAndGlyphs" fill="#1a1a1a" font-weight="bold" stroke="#1a1a1a" stroke-width="0.1" transform="rotate(-90 463.9 124.8)">R2412</text>
<rect x="469.5" y="127.2" width="11.4" height="8.4" fill="#fafafa" stroke="#333" stroke-width="0.75"/>
<text x="470.5" y="134.1" font-size="7.5" textLength="9.3" lengthAdjust="spacingAndGlyphs" fill="#444" font-weight="normal">L2301</text>
<rect x="412.7" y="134.0" width="11.6" height="8.4" fill="#fafafa" stroke="#333" stroke-width="0.75"/>
<text x="413.7" y="140.9" font-size="7.5" textLength="9.5" lengthAdjust="spacingAndGlyphs" fill="#444" font-weight="normal">L2304</text>
<rect x="424.7" y="133.6" width="10.0" height="5.6" fill="#ececec" stroke="#2a2a2a" stroke-width="0.8"/>
<text x="425.8" y="138.1" font-size="4.7" textLength="7.8" lengthAdjust="spacingAndGlyphs" fill="#1a1a1a" font-weight="bold" stroke="#1a1a1a" stroke-width="0.1">C2507</text>
<rect x="446.8" y="135.6" width="9.6" height="5.6" fill="#ececec" stroke="#2a2a2a" stroke-width="0.8"/>
<text x="447.9" y="140.1" font-size="4.7" textLength="7.5" lengthAdjust="spacingAndGlyphs" fill="#1a1a1a" font-weight="bold" stroke="#1a1a1a" stroke-width="0.1">R2088</text>
<rect x="298.6" y="97.4" width="20.1" height="20.7" fill="#fff" stroke="#444" stroke-width="0.7"/>
<rect x="299.9" y="98.7" width="17.5" height="18.1" fill="none" stroke="#777" stroke-width="0.4"/>
<text x="299.5" y="115.0" font-size="20.2" textLength="18.2" lengthAdjust="spacingAndGlyphs" fill="#3a3a3a" font-weight="normal" stroke="#fff" stroke-width="0.30" transform="rotate(-90 308.6 107.8)">T2071</text>
<rect x="318.7" y="97.4" width="9.6" height="5.3" fill="#ececec" stroke="#2a2a2a" stroke-width="0.8"/>
<text x="319.8" y="101.6" font-size="4.4" textLength="7.5" lengthAdjust="spacingAndGlyphs" fill="#1a1a1a" font-weight="bold" stroke="#1a1a1a" stroke-width="0.1">C2433</text>
<rect x="319.9" y="103.0" width="9.6" height="5.3" fill="#ececec" stroke="#2a2a2a" stroke-width="0.8"/>
<text x="321.0" y="107.2" font-size="4.4" textLength="7.5" lengthAdjust="spacingAndGlyphs" fill="#1a1a1a" font-weight="bold" stroke="#1a1a1a" stroke-width="0.1">R2516</text>
<rect x="324.3" y="108.7" width="9.0" height="5.6" fill="#ececec" stroke="#2a2a2a" stroke-width="0.8"/>
<text x="325.3" y="113.2" font-size="4.7" textLength="7.0" lengthAdjust="spacingAndGlyphs" fill="#1a1a1a" font-weight="bold" stroke="#1a1a1a" stroke-width="0.1">C2809</text>
<rect x="334.3" y="106.0" width="5.1" height="9.5" fill="#ececec" stroke="#2a2a2a" stroke-width="0.8"/>
<text x="333.1" y="112.3" font-size="4.3" textLength="7.4" lengthAdjust="spacingAndGlyphs" fill="#1a1a1a" font-weight="bold" stroke="#1a1a1a" stroke-width="0.1" transform="rotate(-90 336.9 110.8)">R2305</text>
<rect x="340.0" y="106.0" width="5.2" height="9.5" fill="#ececec" stroke="#2a2a2a" stroke-width="0.8"/>
<text x="338.9" y="112.3" font-size="4.4" textLength="7.4" lengthAdjust="spacingAndGlyphs" fill="#1a1a1a" font-weight="bold" stroke="#1a1a1a" stroke-width="0.1" transform="rotate(-90 342.6 110.8)">C2318</text>
<rect x="336.7" y="116.1" width="8.5" height="10.1" fill="#fafafa" stroke="#333" stroke-width="0.75"/>
<text x="337.2" y="123.7" font-size="7.1" textLength="7.6" lengthAdjust="spacingAndGlyphs" fill="#555" font-weight="normal" transform="rotate(-90 340.9 121.2)">2XX</text>
<rect x="338.4" y="127.2" width="5.2" height="9.2" fill="#ececec" stroke="#2a2a2a" stroke-width="0.8"/>
<text x="337.4" y="133.4" font-size="4.4" textLength="7.2" lengthAdjust="spacingAndGlyphs" fill="#1a1a1a" font-weight="bold" stroke="#1a1a1a" stroke-width="0.1" transform="rotate(-90 341.0 131.8)">R2412</text>
<rect x="274.0" y="104.3" width="5.3" height="9.2" fill="#ececec" stroke="#2a2a2a" stroke-width="0.8"/>
<text x="273.1" y="110.5" font-size="4.4" textLength="7.2" lengthAdjust="spacingAndGlyphs" fill="#1a1a1a" font-weight="bold" stroke="#1a1a1a" stroke-width="0.1" transform="rotate(-90 276.6 108.9)">C2507</text>
<rect x="265.7" y="112.7" width="8.0" height="10.5" fill="#fafafa" stroke="#333" stroke-width="0.75"/>
<text x="265.8" y="120.4" font-size="6.7" textLength="7.9" lengthAdjust="spacingAndGlyphs" fill="#555" font-weight="normal" transform="rotate(-90 269.7 118.0)">2XX</text>
<rect x="274.0" y="114.0" width="5.3" height="9.2" fill="#ececec" stroke="#2a2a2a" stroke-width="0.8"/>
<text x="273.1" y="120.2" font-size="4.4" textLength="7.2" lengthAdjust="spacingAndGlyphs" fill="#1a1a1a" font-weight="bold" stroke="#1a1a1a" stroke-width="0.1" transform="rotate(-90 276.6 118.6)">R2088</text>
<rect x="289.4" y="115.5" width="5.2" height="9.7" fill="#ececec" stroke="#2a2a2a" stroke-width="0.8"/>
<text x="288.2" y="121.9" font-size="4.4" textLength="7.6" lengthAdjust="spacingAndGlyphs" fill="#1a1a1a" font-weight="bold" stroke="#1a1a1a" stroke-width="0.1" transform="rotate(-90 292.0 120.3)">C2433</text>
<rect x="264.5" y="124.4" width="20.6" height="19.4" fill="#fff" stroke="#444" stroke-width="0.7"/>
<rect x="265.8" y="125.7" width="18.0" height="16.8" fill="none" stroke="#777" stroke-width="0.4"/>
<text x="265.7" y="141.1" font-size="19.5" textLength="18.1" lengthAdjust="spacingAndGlyphs" fill="#222" font-weight="normal" stroke="#fff" stroke-width="0.30">T2070</text>
<rect x="286.7" y="129.6" width="11.5" height="9.6" fill="#fafafa" stroke="#333" stroke-width="0.75"/>
<text x="287.7" y="137.5" font-size="8.6" textLength="9.4" lengthAdjust="spacingAndGlyphs" fill="#444" font-weight="normal" stroke="#fff" stroke-width="0.14">Q2070</text>
<rect x="298.2" y="121.5" width="9.8" height="5.3" fill="#ececec" stroke="#2a2a2a" stroke-width="0.8"/>
<text x="299.3" y="125.7" font-size="4.4" textLength="7.6" lengthAdjust="spacingAndGlyphs" fill="#1a1a1a" font-weight="bold" stroke="#1a1a1a" stroke-width="0.1">R2516</text>
<rect x="308.0" y="121.5" width="9.9" height="5.3" fill="#ececec" stroke="#2a2a2a" stroke-width="0.8"/>
<text x="309.1" y="125.7" font-size="4.4" textLength="7.7" lengthAdjust="spacingAndGlyphs" fill="#1a1a1a" font-weight="bold" stroke="#1a1a1a" stroke-width="0.1">C2809</text>
<rect x="298.2" y="126.8" width="9.8" height="5.4" fill="#ececec" stroke="#2a2a2a" stroke-width="0.8"/>
<text x="299.3" y="131.1" font-size="4.5" textLength="7.6" lengthAdjust="spacingAndGlyphs" fill="#1a1a1a" font-weight="bold" stroke="#1a1a1a" stroke-width="0.1">R2305</text>
<rect x="308.0" y="126.8" width="9.9" height="5.4" fill="#ececec" stroke="#2a2a2a" stroke-width="0.8"/>
<text x="309.1" y="131.1" font-size="4.5" textLength="7.7" lengthAdjust="spacingAndGlyphs" fill="#1a1a1a" font-weight="bold" stroke="#1a1a1a" stroke-width="0.1">C2318</text>
<rect x="298.2" y="132.2" width="19.7" height="4.6" fill="#fff" stroke="#555" stroke-width="0.5"/>
<rect x="298.2" y="136.8" width="9.8" height="4.7" fill="#ececec" stroke="#2a2a2a" stroke-width="0.8"/>
<text x="299.3" y="140.6" font-size="3.9" textLength="7.6" lengthAdjust="spacingAndGlyphs" fill="#1a1a1a" font-weight="bold" stroke="#1a1a1a" stroke-width="0.1">R2412</text>
<rect x="308.0" y="136.8" width="9.9" height="4.7" fill="#ececec" stroke="#2a2a2a" stroke-width="0.8"/>
<text x="309.1" y="140.6" font-size="3.9" textLength="7.7" lengthAdjust="spacingAndGlyphs" fill="#1a1a1a" font-weight="bold" stroke="#1a1a1a" stroke-width="0.1">C2507</text>
<rect x="298.2" y="141.5" width="9.8" height="4.7" fill="#ececec" stroke="#2a2a2a" stroke-width="0.8"/>
<text x="299.3" y="145.3" font-size="3.9" textLength="7.6" lengthAdjust="spacingAndGlyphs" fill="#1a1a1a" font-weight="bold" stroke="#1a1a1a" stroke-width="0.1">R2088</text>
<rect x="308.0" y="141.5" width="9.9" height="4.7" fill="#ececec" stroke="#2a2a2a" stroke-width="0.8"/>
<text x="309.1" y="145.3" font-size="3.9" textLength="7.7" lengthAdjust="spacingAndGlyphs" fill="#1a1a1a" font-weight="bold" stroke="#1a1a1a" stroke-width="0.1">C2433</text>
<rect x="318.3" y="128.8" width="11.2" height="10.4" fill="#fafafa" stroke="#333" stroke-width="0.75"/>
<text x="319.3" y="137.3" font-size="9.3" textLength="9.2" lengthAdjust="spacingAndGlyphs" fill="#444" font-weight="normal" stroke="#fff" stroke-width="0.15">Q2071</text>
<rect x="265.3" y="144.8" width="9.2" height="5.2" fill="#ececec" stroke="#2a2a2a" stroke-width="0.8"/>
<text x="266.3" y="149.0" font-size="4.4" textLength="7.2" lengthAdjust="spacingAndGlyphs" fill="#1a1a1a" font-weight="bold" stroke="#1a1a1a" stroke-width="0.1">R2516</text>
<rect x="313.9" y="147.2" width="4.8" height="9.7" fill="#ececec" stroke="#2a2a2a" stroke-width="0.8"/>
<text x="312.5" y="153.5" font-size="4.0" textLength="7.6" lengthAdjust="spacingAndGlyphs" fill="#1a1a1a" font-weight="bold" stroke="#1a1a1a" stroke-width="0.1" transform="rotate(-90 316.3 152.1)">C2809</text>
<rect x="307.0" y="152.9" width="4.8" height="9.4" fill="#ececec" stroke="#2a2a2a" stroke-width="0.8"/>
<text x="305.7" y="159.0" font-size="4.0" textLength="7.3" lengthAdjust="spacingAndGlyphs" fill="#1a1a1a" font-weight="bold" stroke="#1a1a1a" stroke-width="0.1" transform="rotate(-90 309.4 157.6)">R2305</text>
<rect x="328.3" y="146.2" width="5.0" height="9.5" fill="#ececec" stroke="#2a2a2a" stroke-width="0.8"/>
<text x="327.1" y="152.4" font-size="4.2" textLength="7.4" lengthAdjust="spacingAndGlyphs" fill="#1a1a1a" font-weight="bold" stroke="#1a1a1a" stroke-width="0.1" transform="rotate(-90 330.8 150.9)">C2318</text>
<rect x="333.9" y="146.2" width="4.9" height="9.5" fill="#ececec" stroke="#2a2a2a" stroke-width="0.8"/>
<text x="332.6" y="152.4" font-size="4.1" textLength="7.4" lengthAdjust="spacingAndGlyphs" fill="#1a1a1a" font-weight="bold" stroke="#1a1a1a" stroke-width="0.1" transform="rotate(-90 336.4 150.9)">R2412</text>
<rect x="339.6" y="146.2" width="4.8" height="9.5" fill="#ececec" stroke="#2a2a2a" stroke-width="0.8"/>
<text x="338.3" y="152.4" font-size="4.0" textLength="7.4" lengthAdjust="spacingAndGlyphs" fill="#1a1a1a" font-weight="bold" stroke="#1a1a1a" stroke-width="0.1" transform="rotate(-90 342.0 150.9)">C2507</text>
<rect x="339.6" y="156.0" width="4.8" height="9.3" fill="#ececec" stroke="#2a2a2a" stroke-width="0.8"/>
<text x="338.4" y="162.1" font-size="4.0" textLength="7.3" lengthAdjust="spacingAndGlyphs" fill="#1a1a1a" font-weight="bold" stroke="#1a1a1a" stroke-width="0.1" transform="rotate(-90 342.0 160.7)">R2088</text>
<rect x="265.3" y="155.3" width="9.6" height="4.8" fill="#ececec" stroke="#2a2a2a" stroke-width="0.8"/>
<text x="266.4" y="159.1" font-size="4.0" textLength="7.5" lengthAdjust="spacingAndGlyphs" fill="#1a1a1a" font-weight="bold" stroke="#1a1a1a" stroke-width="0.1">C2433</text>
<rect x="265.3" y="160.1" width="9.6" height="4.9" fill="#ececec" stroke="#2a2a2a" stroke-width="0.8"/>
<text x="266.4" y="164.0" font-size="4.1" textLength="7.5" lengthAdjust="spacingAndGlyphs" fill="#1a1a1a" font-weight="bold" stroke="#1a1a1a" stroke-width="0.1">R2516</text>
<rect x="281.1" y="156.5" width="11.5" height="8.5" fill="#fafafa" stroke="#333" stroke-width="0.75"/>
<text x="282.1" y="163.5" font-size="7.6" textLength="9.4" lengthAdjust="spacingAndGlyphs" fill="#444" font-weight="normal">L2071</text>
<rect x="295.8" y="162.3" width="5.4" height="9.4" fill="#ececec" stroke="#2a2a2a" stroke-width="0.8"/>
<text x="294.8" y="168.6" font-size="4.5" textLength="7.3" lengthAdjust="spacingAndGlyphs" fill="#1a1a1a" font-weight="bold" stroke="#1a1a1a" stroke-width="0.1" transform="rotate(-90 298.5 167.0)">C2809</text>
<rect x="307.8" y="164.5" width="11.7" height="8.5" fill="#fafafa" stroke="#333" stroke-width="0.75" rx="1.5"/>
<text x="308.9" y="171.5" font-size="7.6" textLength="9.6" lengthAdjust="spacingAndGlyphs" fill="#444" font-weight="normal">L2072</text>
<rect x="325.5" y="167.0" width="7.8" height="10.8" fill="#fafafa" stroke="#333" stroke-width="0.75"/>
<text x="325.0" y="174.9" font-size="7.0" textLength="8.9" lengthAdjust="spacingAndGlyphs" fill="#444" font-weight="normal" transform="rotate(-90 329.4 172.4)">L2700</text>
<rect x="333.5" y="165.3" width="10.9" height="8.1" fill="#fafafa" stroke="#333" stroke-width="0.75"/>
<text x="334.5" y="171.9" font-size="7.2" textLength="8.9" lengthAdjust="spacingAndGlyphs" fill="#444" font-weight="normal">L2705</text>
<rect x="334.0" y="173.8" width="9.6" height="4.8" fill="#ececec" stroke="#2a2a2a" stroke-width="0.8"/>
<text x="335.1" y="177.6" font-size="4.0" textLength="7.5" lengthAdjust="spacingAndGlyphs" fill="#1a1a1a" font-weight="bold" stroke="#1a1a1a" stroke-width="0.1">R2305</text>
<rect x="264.5" y="166.3" width="10.6" height="4.7" fill="#ececec" stroke="#2a2a2a" stroke-width="0.8"/>
<text x="265.7" y="170.1" font-size="3.9" textLength="8.3" lengthAdjust="spacingAndGlyphs" fill="#1a1a1a" font-weight="bold" stroke="#1a1a1a" stroke-width="0.1">C2318</text>
<rect x="264.5" y="171.0" width="10.6" height="4.8" fill="#ececec" stroke="#2a2a2a" stroke-width="0.8"/>
<text x="265.7" y="174.8" font-size="4.0" textLength="8.3" lengthAdjust="spacingAndGlyphs" fill="#1a1a1a" font-weight="bold" stroke="#1a1a1a" stroke-width="0.1">R2412</text>
<rect x="270.0" y="176.4" width="5.1" height="9.6" fill="#ececec" stroke="#2a2a2a" stroke-width="0.8"/>
<text x="268.8" y="182.7" font-size="4.3" textLength="7.5" lengthAdjust="spacingAndGlyphs" fill="#1a1a1a" font-weight="bold" stroke="#1a1a1a" stroke-width="0.1" transform="rotate(-90 272.6 181.2)">C2507</text>
<rect x="276.3" y="176.4" width="9.7" height="5.1" fill="#ececec" stroke="#2a2a2a" stroke-width="0.8"/>
<text x="277.4" y="180.5" font-size="4.3" textLength="7.6" lengthAdjust="spacingAndGlyphs" fill="#1a1a1a" font-weight="bold" stroke="#1a1a1a" stroke-width="0.1">R2088</text>
<rect x="276.3" y="181.9" width="9.7" height="4.9" fill="#ececec" stroke="#2a2a2a" stroke-width="0.8"/>
<text x="277.4" y="185.8" font-size="4.1" textLength="7.6" lengthAdjust="spacingAndGlyphs" fill="#1a1a1a" font-weight="bold" stroke="#1a1a1a" stroke-width="0.1">C2433</text>
<rect x="276.5" y="187.3" width="8.0" height="10.8" fill="#fafafa" stroke="#333" stroke-width="0.75"/>
<text x="276.4" y="195.1" font-size="6.7" textLength="8.1" lengthAdjust="spacingAndGlyphs" fill="#555" font-weight="normal" transform="rotate(-90 280.5 192.7)">2XX</text>
<rect x="277.1" y="200.1" width="9.0" height="5.6" fill="#ececec" stroke="#2a2a2a" stroke-width="0.8"/>
<text x="278.1" y="204.6" font-size="4.7" textLength="7.0" lengthAdjust="spacingAndGlyphs" fill="#1a1a1a" font-weight="bold" stroke="#1a1a1a" stroke-width="0.1">R2516</text>
<rect x="270.5" y="206.1" width="9.2" height="5.3" fill="#ececec" stroke="#2a2a2a" stroke-width="0.8"/>
<text x="271.5" y="210.3" font-size="4.4" textLength="7.2" lengthAdjust="spacingAndGlyphs" fill="#1a1a1a" font-weight="bold" stroke="#1a1a1a" stroke-width="0.1">C2809</text>
<rect x="506.5" y="26.5" width="28.8" height="36.7" fill="#fff" stroke="#444" stroke-width="0.7"/>
<text x="504.8" y="55.2" font-size="29.0" textLength="32.3" lengthAdjust="spacingAndGlyphs" fill="#3a3a3a" font-weight="normal" stroke="#fff" stroke-width="0.30" transform="rotate(-90 520.9 44.9)">C2201</text>
<rect x="553.9" y="32.5" width="26.9" height="19.0" fill="#fff" stroke="#444" stroke-width="0.7"/>
<text x="555.5" y="48.8" font-size="19.1" textLength="23.7" lengthAdjust="spacingAndGlyphs" fill="#222" font-weight="normal" stroke="#fff" stroke-width="0.30">C2202</text>
<rect x="543.2" y="38.5" width="9.5" height="5.5" fill="#ececec" stroke="#2a2a2a" stroke-width="0.8"/>
<text x="544.2" y="42.9" font-size="4.6" textLength="7.4" lengthAdjust="spacingAndGlyphs" fill="#1a1a1a" font-weight="bold" stroke="#1a1a1a" stroke-width="0.1">R2305</text>
<rect x="543.2" y="44.2" width="9.5" height="5.6" fill="#ececec" stroke="#2a2a2a" stroke-width="0.8"/>
<text x="544.2" y="48.7" font-size="4.7" textLength="7.4" lengthAdjust="spacingAndGlyphs" fill="#1a1a1a" font-weight="bold" stroke="#1a1a1a" stroke-width="0.1">C2318</text>
<rect x="585.2" y="28.5" width="9.2" height="4.8" fill="#ececec" stroke="#2a2a2a" stroke-width="0.8"/>
<text x="586.2" y="32.3" font-size="4.0" textLength="7.2" lengthAdjust="spacingAndGlyphs" fill="#1a1a1a" font-weight="bold" stroke="#1a1a1a" stroke-width="0.1">R2412</text>
<rect x="584.4" y="39.7" width="10.8" height="11.9" fill="#fafafa" stroke="#333" stroke-width="0.75"/>
<text x="584.9" y="49.1" font-size="9.7" textLength="9.8" lengthAdjust="spacingAndGlyphs" fill="#444" font-weight="normal" stroke="#fff" stroke-width="0.15" transform="rotate(-90 589.8 45.7)">2205</text>
<rect x="596.0" y="40.5" width="5.6" height="10.1" fill="#ececec" stroke="#2a2a2a" stroke-width="0.8"/>
<text x="594.9" y="47.2" font-size="4.7" textLength="7.9" lengthAdjust="spacingAndGlyphs" fill="#1a1a1a" font-weight="bold" stroke="#1a1a1a" stroke-width="0.1" transform="rotate(-90 598.8 45.5)">C2507</text>
<rect x="602.9" y="38.1" width="4.8" height="9.7" fill="#ececec" stroke="#2a2a2a" stroke-width="0.8"/>
<text x="601.5" y="44.4" font-size="4.0" textLength="7.6" lengthAdjust="spacingAndGlyphs" fill="#1a1a1a" font-weight="bold" stroke="#1a1a1a" stroke-width="0.1" transform="rotate(-90 605.3 43.0)">R2088</text>
<rect x="608.5" y="39.7" width="10.0" height="11.9" fill="#fafafa" stroke="#333" stroke-width="0.75"/>
<text x="608.6" y="48.9" font-size="8.9" textLength="9.8" lengthAdjust="spacingAndGlyphs" fill="#444" font-weight="normal" stroke="#fff" stroke-width="0.14" transform="rotate(-90 613.5 45.7)">2204</text>
<rect x="619.5" y="39.7" width="5.5" height="9.7" fill="#ececec" stroke="#2a2a2a" stroke-width="0.8"/>
<text x="618.5" y="46.2" font-size="4.6" textLength="7.6" lengthAdjust="spacingAndGlyphs" fill="#1a1a1a" font-weight="bold" stroke="#1a1a1a" stroke-width="0.1" transform="rotate(-90 622.2 44.5)">C2433</text>
<rect x="626.1" y="39.7" width="5.3" height="9.7" fill="#ececec" stroke="#2a2a2a" stroke-width="0.8"/>
<text x="625.0" y="46.1" font-size="4.4" textLength="7.6" lengthAdjust="spacingAndGlyphs" fill="#1a1a1a" font-weight="bold" stroke="#1a1a1a" stroke-width="0.1" transform="rotate(-90 628.8 44.5)">R2516</text>
<rect x="633.4" y="37.7" width="10.4" height="11.7" fill="#fafafa" stroke="#333" stroke-width="0.75"/>
<text x="633.8" y="46.9" font-size="9.3" textLength="9.6" lengthAdjust="spacingAndGlyphs" fill="#444" font-weight="normal" stroke="#fff" stroke-width="0.15" transform="rotate(-90 638.6 43.5)">2202</text>
<rect x="638.6" y="27.7" width="5.2" height="9.6" fill="#ececec" stroke="#2a2a2a" stroke-width="0.8"/>
<text x="637.5" y="34.1" font-size="4.4" textLength="7.5" lengthAdjust="spacingAndGlyphs" fill="#1a1a1a" font-weight="bold" stroke="#1a1a1a" stroke-width="0.1" transform="rotate(-90 641.2 32.5)">C2809</text>
<rect x="643.8" y="31.7" width="5.6" height="8.8" fill="#ececec" stroke="#2a2a2a" stroke-width="0.8"/>
<text x="643.2" y="37.8" font-size="4.7" textLength="6.9" lengthAdjust="spacingAndGlyphs" fill="#1a1a1a" font-weight="bold" stroke="#1a1a1a" stroke-width="0.1" transform="rotate(-90 646.6 36.1)">R2305</text>
<rect x="650.2" y="41.7" width="5.1" height="9.3" fill="#ececec" stroke="#2a2a2a" stroke-width="0.8"/>
<text x="649.1" y="47.9" font-size="4.3" textLength="7.3" lengthAdjust="spacingAndGlyphs" fill="#1a1a1a" font-weight="bold" stroke="#1a1a1a" stroke-width="0.1" transform="rotate(-90 652.8 46.4)">C2318</text>
<rect x="655.5" y="41.7" width="5.2" height="9.3" fill="#ececec" stroke="#2a2a2a" stroke-width="0.8"/>
<text x="654.5" y="47.9" font-size="4.4" textLength="7.3" lengthAdjust="spacingAndGlyphs" fill="#1a1a1a" font-weight="bold" stroke="#1a1a1a" stroke-width="0.1" transform="rotate(-90 658.1 46.4)">R2412</text>
<rect x="661.7" y="40.5" width="12.0" height="11.1" fill="#fafafa" stroke="#333" stroke-width="0.75" rx="1.5"/>
<text x="662.8" y="49.6" font-size="9.9" textLength="9.8" lengthAdjust="spacingAndGlyphs" fill="#444" font-weight="normal" stroke="#fff" stroke-width="0.16">Q2200</text>
<rect x="509.0" y="64.2" width="9.0" height="5.2" fill="#ececec" stroke="#2a2a2a" stroke-width="0.8"/>
<text x="510.0" y="68.4" font-size="4.4" textLength="7.0" lengthAdjust="spacingAndGlyphs" fill="#1a1a1a" font-weight="bold" stroke="#1a1a1a" stroke-width="0.1">C2507</text>
<rect x="509.7" y="69.4" width="11.3" height="11.9" fill="#fafafa" stroke="#333" stroke-width="0.75"/>
<text x="510.5" y="79.0" font-size="10.1" textLength="9.8" lengthAdjust="spacingAndGlyphs" fill="#444" font-weight="normal" stroke="#fff" stroke-width="0.16" transform="rotate(-90 515.4 75.3)">2200</text>
<rect x="522.0" y="63.8" width="5.8" height="8.9" fill="#ececec" stroke="#2a2a2a" stroke-width="0.8"/>
<text x="521.4" y="70.0" font-size="4.9" textLength="6.9" lengthAdjust="spacingAndGlyphs" fill="#1a1a1a" font-weight="bold" stroke="#1a1a1a" stroke-width="0.1" transform="rotate(-90 524.9 68.2)">R2088</text>
<rect x="528.0" y="69.6" width="11.4" height="7.7" fill="#fafafa" stroke="#333" stroke-width="0.75"/>
<text x="529.0" y="75.9" font-size="6.9" textLength="9.3" lengthAdjust="spacingAndGlyphs" fill="#444" font-weight="normal">L2203</text>
<rect x="527.3" y="78.3" width="12.1" height="4.6" fill="#ececec" stroke="#2a2a2a" stroke-width="0.8"/>
<text x="528.6" y="82.0" font-size="3.9" textLength="9.4" lengthAdjust="spacingAndGlyphs" fill="#1a1a1a" font-weight="bold" stroke="#1a1a1a" stroke-width="0.1">C2433</text>
<rect x="527.3" y="82.9" width="12.1" height="4.6" fill="#ececec" stroke="#2a2a2a" stroke-width="0.8"/>
<text x="528.6" y="86.6" font-size="3.9" textLength="9.4" lengthAdjust="spacingAndGlyphs" fill="#1a1a1a" font-weight="bold" stroke="#1a1a1a" stroke-width="0.1">R2516</text>
<rect x="504.5" y="82.3" width="9.2" height="4.8" fill="#ececec" stroke="#2a2a2a" stroke-width="0.8"/>
<text x="505.5" y="86.1" font-size="4.0" textLength="7.2" lengthAdjust="spacingAndGlyphs" fill="#1a1a1a" font-weight="bold" stroke="#1a1a1a" stroke-width="0.1">C2809</text>
<rect x="528.0" y="97.5" width="11.4" height="11.3" fill="#fafafa" stroke="#333" stroke-width="0.75"/>
<text x="529.0" y="106.8" font-size="10.1" textLength="9.3" lengthAdjust="spacingAndGlyphs" fill="#444" font-weight="normal" stroke="#fff" stroke-width="0.16">Q220</text>
<rect x="530.0" y="109.0" width="9.4" height="6.0" fill="#ececec" stroke="#2a2a2a" stroke-width="0.8"/>
<text x="531.0" y="113.8" font-size="5.0" textLength="7.3" lengthAdjust="spacingAndGlyphs" fill="#1a1a1a" font-weight="bold" stroke="#1a1a1a" stroke-width="0.1">R2305</text>
<rect x="529.0" y="115.0" width="10.4" height="5.0" fill="#ececec" stroke="#2a2a2a" stroke-width="0.8"/>
<text x="530.1" y="119.0" font-size="4.2" textLength="8.1" lengthAdjust="spacingAndGlyphs" fill="#1a1a1a" font-weight="bold" stroke="#1a1a1a" stroke-width="0.1">C2318</text>
<rect x="529.0" y="120.0" width="10.4" height="5.0" fill="#ececec" stroke="#2a2a2a" stroke-width="0.8"/>
<text x="530.1" y="124.0" font-size="4.2" textLength="8.1" lengthAdjust="spacingAndGlyphs" fill="#1a1a1a" font-weight="bold" stroke="#1a1a1a" stroke-width="0.1">R2412</text>
<rect x="530.0" y="125.0" width="9.4" height="5.0" fill="#ececec" stroke="#2a2a2a" stroke-width="0.8"/>
<text x="531.0" y="129.0" font-size="4.2" textLength="7.3" lengthAdjust="spacingAndGlyphs" fill="#1a1a1a" font-weight="bold" stroke="#1a1a1a" stroke-width="0.1">C2507</text>
<rect x="528.0" y="130.5" width="11.4" height="11.1" fill="#fafafa" stroke="#333" stroke-width="0.75"/>
<text x="529.0" y="139.6" font-size="9.9" textLength="9.3" lengthAdjust="spacingAndGlyphs" fill="#444" font-weight="normal" stroke="#fff" stroke-width="0.16">Q220</text>
<rect x="507.7" y="124.5" width="9.3" height="5.5" fill="#ececec" stroke="#2a2a2a" stroke-width="0.8"/>
<text x="508.7" y="128.9" font-size="4.6" textLength="7.3" lengthAdjust="spacingAndGlyphs" fill="#1a1a1a" font-weight="bold" stroke="#1a1a1a" stroke-width="0.1">R2088</text>
<rect x="527.8" y="151.8" width="5.4" height="9.4" fill="#ececec" stroke="#2a2a2a" stroke-width="0.8"/>
<text x="526.8" y="158.1" font-size="4.5" textLength="7.3" lengthAdjust="spacingAndGlyphs" fill="#1a1a1a" font-weight="bold" stroke="#1a1a1a" stroke-width="0.1" transform="rotate(-90 530.5 156.5)">C2433</text>
<rect x="533.8" y="151.8" width="5.4" height="9.4" fill="#ececec" stroke="#2a2a2a" stroke-width="0.8"/>
<text x="532.8" y="158.1" font-size="4.5" textLength="7.3" lengthAdjust="spacingAndGlyphs" fill="#1a1a1a" font-weight="bold" stroke="#1a1a1a" stroke-width="0.1" transform="rotate(-90 536.5 156.5)">R2516</text>
<rect x="529.0" y="161.8" width="10.4" height="7.5" fill="#fafafa" stroke="#333" stroke-width="0.75"/>
<text x="529.9" y="168.0" font-size="6.7" textLength="8.5" lengthAdjust="spacingAndGlyphs" fill="#444" font-weight="normal">L2201</text>
<rect x="539.8" y="53.2" width="144.4" height="132.1" fill="#fff" stroke="#222" stroke-width="0.9"/>
<path d="M557.9,77.3 V161.8" stroke="#484848" stroke-width="0.85" fill="none"/>
<path d="M588.4,98 C588.4,84 584.5,77.3 579.9,77.3 C575,77.3 571.3,86 571.3,100 V139 C571.3,153 575,161.8 579.9,161.8 C584.5,161.8 588.4,154 588.4,141" stroke="#484848" stroke-width="0.85" fill="none"/>
<path d="M593.4,98 C593.4,84 596.9,77.3 601.45,77.3 C606.0,77.3 609.5,85 609.5,97 C609.5,106 607.5,112 605.5,120 L593.4,161.8 H609.5" stroke="#484848" stroke-width="0.85" fill="none"/>
<path d="M614.5,98 C614.5,84 618.0,77.3 622.55,77.3 C627.1,77.3 630.6,85 630.6,97 C630.6,106 628.6,112 626.6,120 L614.5,161.8 H630.6" stroke="#484848" stroke-width="0.85" fill="none"/>
<ellipse cx="643.6" cy="119.55000000000001" rx="8" ry="42.25000000000001" stroke="#484848" stroke-width="0.85" fill="none"/>
<ellipse cx="666.2" cy="119.55000000000001" rx="8.5" ry="42.25000000000001" stroke="#484848" stroke-width="0.85" fill="none"/>
<rect x="684.4" y="115.3" width="10.8" height="8.0" fill="#fafafa" stroke="#333" stroke-width="0.75"/>
<text x="685.4" y="121.9" font-size="7.2" textLength="8.9" lengthAdjust="spacingAndGlyphs" fill="#444" font-weight="normal">2200</text>
<rect x="690.4" y="123.7" width="4.8" height="9.6" fill="#ececec" stroke="#2a2a2a" stroke-width="0.8"/>
<text x="689.1" y="129.9" font-size="4.0" textLength="7.5" lengthAdjust="spacingAndGlyphs" fill="#1a1a1a" font-weight="bold" stroke="#1a1a1a" stroke-width="0.1" transform="rotate(-90 692.8 128.5)">C2809</text>
<rect x="689.4" y="159.8" width="10.4" height="22.9" fill="#fff" stroke="#444" stroke-width="0.7"/>
<text x="684.5" y="175.0" font-size="10.5" textLength="20.2" lengthAdjust="spacingAndGlyphs" fill="#3a3a3a" font-weight="normal" stroke="#fff" stroke-width="0.17" transform="rotate(-90 694.6 171.2)">C2203</text>
<rect x="741.4" y="197.2" width="12.3" height="6.3" fill="#fafafa" stroke="#333" stroke-width="0.75"/>
<text x="742.5" y="202.4" font-size="5.6" textLength="10.1" lengthAdjust="spacingAndGlyphs" fill="#444" font-weight="normal">C2702</text>
<rect x="750.2" y="207.7" width="14.1" height="27.7" fill="#fff" stroke="#444" stroke-width="0.7"/>
<text x="745.1" y="226.6" font-size="14.2" textLength="24.4" lengthAdjust="spacingAndGlyphs" fill="#3a3a3a" font-weight="normal" stroke="#fff" stroke-width="0.23" transform="rotate(-90 757.2 221.6)">C2703</text>
<rect x="670.7" y="221.5" width="6.0" height="12.1" fill="#fafafa" stroke="#333" stroke-width="0.75"/>
<text x="668.7" y="229.5" font-size="5.4" textLength="9.9" lengthAdjust="spacingAndGlyphs" fill="#444" font-weight="normal" transform="rotate(-90 673.7 227.6)">2703</text>
<rect x="677.3" y="209.5" width="18.7" height="29.3" fill="#fff" stroke="#444" stroke-width="0.7"/>
<text x="673.8" y="230.9" font-size="18.8" textLength="25.8" lengthAdjust="spacingAndGlyphs" fill="#3a3a3a" font-weight="normal" stroke="#fff" stroke-width="0.30" transform="rotate(-90 686.6 224.2)">U2703</text>
<rect x="696.4" y="213.5" width="13.6" height="26.5" fill="#fff" stroke="#444" stroke-width="0.7"/>
<text x="691.5" y="231.6" font-size="13.7" textLength="23.3" lengthAdjust="spacingAndGlyphs" fill="#3a3a3a" font-weight="normal" stroke="#fff" stroke-width="0.22" transform="rotate(-90 703.2 226.8)">C2710</text>
<path d="M382.2,171.2 H401.8 V173.2 H403.3 V178.2 H402.3 V186.1 H403.3 V191.1 H401.8 V193.1 H382.2 V191.1 H380.7 V186.1 H381.7 V178.2 H380.7 V173.2 H382.2 Z" fill="#fff" stroke="#444" stroke-width="0.7" stroke-linejoin="round"/>
<text x="382.8" y="189.2" font-size="19.6" textLength="18.4" lengthAdjust="spacingAndGlyphs" fill="#3c3c3c" font-weight="normal" stroke="#fff" stroke-width="0.30" transform="rotate(-90 392.0 182.1)">Y2101</text>
<rect x="363.5" y="171.0" width="7.0" height="9.0" fill="#cfcfcf" stroke="#3a3a3a" stroke-width="0.7"/>
<text x="363.6" y="177.6" font-size="5.9" textLength="6.8" lengthAdjust="spacingAndGlyphs" fill="#444" font-weight="normal" transform="rotate(-90 367.0 175.5)">2XX</text>
<rect x="370.5" y="171.6" width="10.0" height="8.0" fill="#fafafa" stroke="#333" stroke-width="0.75"/>
<text x="371.4" y="178.2" font-size="7.2" textLength="8.2" lengthAdjust="spacingAndGlyphs" fill="#444" font-weight="normal">L2102</text>
<rect x="376.9" y="197.1" width="5.6" height="10.0" fill="#ececec" stroke="#2a2a2a" stroke-width="0.8"/>
<text x="375.8" y="203.8" font-size="4.7" textLength="7.8" lengthAdjust="spacingAndGlyphs" fill="#1a1a1a" font-weight="bold" stroke="#1a1a1a" stroke-width="0.1" transform="rotate(-90 379.7 202.1)">R2305</text>
<rect x="382.9" y="197.1" width="5.3" height="10.0" fill="#ececec" stroke="#2a2a2a" stroke-width="0.8"/>
<text x="381.6" y="203.7" font-size="4.4" textLength="7.8" lengthAdjust="spacingAndGlyphs" fill="#1a1a1a" font-weight="bold" stroke="#1a1a1a" stroke-width="0.1" transform="rotate(-90 385.5 202.1)">C2318</text>
<rect x="389.0" y="197.1" width="5.2" height="10.0" fill="#ececec" stroke="#2a2a2a" stroke-width="0.8"/>
<text x="387.7" y="203.7" font-size="4.4" textLength="7.8" lengthAdjust="spacingAndGlyphs" fill="#1a1a1a" font-weight="bold" stroke="#1a1a1a" stroke-width="0.1" transform="rotate(-90 391.6 202.1)">R2412</text>
<rect x="394.6" y="198.5" width="11.0" height="8.6" fill="#fafafa" stroke="#333" stroke-width="0.75"/>
<text x="395.6" y="205.6" font-size="7.7" textLength="9.0" lengthAdjust="spacingAndGlyphs" fill="#444" font-weight="normal">L2105</text>
<rect x="374.9" y="212.2" width="10.0" height="3.8" fill="#ececec" stroke="#2a2a2a" stroke-width="0.8"/>
<text x="376.0" y="215.2" font-size="3.2" textLength="7.8" lengthAdjust="spacingAndGlyphs" fill="#1a1a1a" font-weight="bold" stroke="#1a1a1a" stroke-width="0.1">C2507</text>
<rect x="374.9" y="216.0" width="10.0" height="3.8" fill="#ececec" stroke="#2a2a2a" stroke-width="0.8"/>
<text x="376.0" y="219.0" font-size="3.2" textLength="7.8" lengthAdjust="spacingAndGlyphs" fill="#1a1a1a" font-weight="bold" stroke="#1a1a1a" stroke-width="0.1">R2088</text>
<rect x="385.5" y="211.8" width="10.7" height="5.0" fill="#ececec" stroke="#2a2a2a" stroke-width="0.8"/>
<text x="386.7" y="215.8" font-size="4.2" textLength="8.3" lengthAdjust="spacingAndGlyphs" fill="#1a1a1a" font-weight="bold" stroke="#1a1a1a" stroke-width="0.1">C2433</text>
<rect x="385.5" y="216.8" width="10.7" height="5.0" fill="#ececec" stroke="#2a2a2a" stroke-width="0.8"/>
<text x="386.7" y="220.8" font-size="4.2" textLength="8.3" lengthAdjust="spacingAndGlyphs" fill="#1a1a1a" font-weight="bold" stroke="#1a1a1a" stroke-width="0.1">R2516</text>
<rect x="358.4" y="218.2" width="5.1" height="10.0" fill="#ececec" stroke="#2a2a2a" stroke-width="0.8"/>
<text x="357.1" y="224.7" font-size="4.3" textLength="7.8" lengthAdjust="spacingAndGlyphs" fill="#1a1a1a" font-weight="bold" stroke="#1a1a1a" stroke-width="0.1" transform="rotate(-90 360.9 223.2)">C2809</text>
<rect x="364.0" y="218.2" width="5.3" height="10.0" fill="#ececec" stroke="#2a2a2a" stroke-width="0.8"/>
<text x="362.8" y="224.8" font-size="4.4" textLength="7.8" lengthAdjust="spacingAndGlyphs" fill="#1a1a1a" font-weight="bold" stroke="#1a1a1a" stroke-width="0.1" transform="rotate(-90 366.6 223.2)">R2305</text>
<rect x="369.7" y="219.2" width="5.2" height="9.0" fill="#cfcfcf" stroke="#3a3a3a" stroke-width="0.7"/>
<text x="368.9" y="225.3" font-size="4.4" textLength="6.8" lengthAdjust="spacingAndGlyphs" fill="#444" font-weight="normal" transform="rotate(-90 372.3 223.7)">2XX</text>
<rect x="375.3" y="220.6" width="9.6" height="4.0" fill="#ececec" stroke="#2a2a2a" stroke-width="0.8"/>
<text x="376.4" y="223.8" font-size="3.4" textLength="7.5" lengthAdjust="spacingAndGlyphs" fill="#1a1a1a" font-weight="bold" stroke="#1a1a1a" stroke-width="0.1">C2318</text>
<rect x="375.3" y="224.6" width="9.6" height="4.0" fill="#ececec" stroke="#2a2a2a" stroke-width="0.8"/>
<text x="376.4" y="227.8" font-size="3.4" textLength="7.5" lengthAdjust="spacingAndGlyphs" fill="#1a1a1a" font-weight="bold" stroke="#1a1a1a" stroke-width="0.1">R2412</text>
<rect x="342.8" y="221.2" width="10.6" height="11.5" fill="#fafafa" stroke="#333" stroke-width="0.75"/>
<text x="343.4" y="230.3" font-size="9.5" textLength="9.4" lengthAdjust="spacingAndGlyphs" fill="#444" font-weight="normal" stroke="#fff" stroke-width="0.15" transform="rotate(-90 348.1 226.9)">2102</text>
<rect x="340.4" y="233.5" width="5.6" height="10.0" fill="#ececec" stroke="#2a2a2a" stroke-width="0.8"/>
<text x="339.3" y="240.2" font-size="4.7" textLength="7.8" lengthAdjust="spacingAndGlyphs" fill="#1a1a1a" font-weight="bold" stroke="#1a1a1a" stroke-width="0.1" transform="rotate(-90 343.2 238.5)">C2507</text>
<rect x="346.4" y="233.5" width="10.0" height="5.4" fill="#ececec" stroke="#2a2a2a" stroke-width="0.8"/>
<text x="347.5" y="237.8" font-size="4.5" textLength="7.8" lengthAdjust="spacingAndGlyphs" fill="#1a1a1a" font-weight="bold" stroke="#1a1a1a" stroke-width="0.1">R2088</text>
<rect x="346.4" y="238.9" width="10.0" height="5.4" fill="#ececec" stroke="#2a2a2a" stroke-width="0.8"/>
<text x="347.5" y="243.2" font-size="4.5" textLength="7.8" lengthAdjust="spacingAndGlyphs" fill="#1a1a1a" font-weight="bold" stroke="#1a1a1a" stroke-width="0.1">C2433</text>
<rect x="366.0" y="234.3" width="9.7" height="5.0" fill="#ececec" stroke="#2a2a2a" stroke-width="0.8"/>
<text x="367.1" y="238.3" font-size="4.2" textLength="7.6" lengthAdjust="spacingAndGlyphs" fill="#1a1a1a" font-weight="bold" stroke="#1a1a1a" stroke-width="0.1">R2516</text>
<rect x="364.5" y="239.9" width="11.0" height="8.4" fill="#fafafa" stroke="#333" stroke-width="0.75"/>
<text x="365.5" y="246.8" font-size="7.5" textLength="9.0" lengthAdjust="spacingAndGlyphs" fill="#444" font-weight="normal">L2103</text>
<rect x="376.1" y="238.3" width="5.6" height="9.6" fill="#ececec" stroke="#2a2a2a" stroke-width="0.8"/>
<text x="375.2" y="244.8" font-size="4.7" textLength="7.5" lengthAdjust="spacingAndGlyphs" fill="#1a1a1a" font-weight="bold" stroke="#1a1a1a" stroke-width="0.1" transform="rotate(-90 378.9 243.1)">C2809</text>
<rect x="382.5" y="234.7" width="10.5" height="8.0" fill="#fafafa" stroke="#333" stroke-width="0.75"/>
<text x="383.4" y="241.3" font-size="7.2" textLength="8.6" lengthAdjust="spacingAndGlyphs" fill="#444" font-weight="normal">L2106</text>
<rect x="393.4" y="234.7" width="9.2" height="5.6" fill="#ececec" stroke="#2a2a2a" stroke-width="0.8"/>
<text x="394.4" y="239.2" font-size="4.7" textLength="7.2" lengthAdjust="spacingAndGlyphs" fill="#1a1a1a" font-weight="bold" stroke="#1a1a1a" stroke-width="0.1">R2305</text>
<rect x="382.5" y="243.5" width="9.3" height="4.8" fill="#ececec" stroke="#2a2a2a" stroke-width="0.8"/>
<text x="383.5" y="247.3" font-size="4.0" textLength="7.3" lengthAdjust="spacingAndGlyphs" fill="#1a1a1a" font-weight="bold" stroke="#1a1a1a" stroke-width="0.1">C2318</text>
<path d="M365.8,248.5 H385.7 V250.5 H387.2 V255.5 H386.2 V263.3 H387.2 V268.3 H385.7 V270.3 H365.8 V268.3 H364.3 V263.3 H365.3 V255.5 H364.3 V250.5 H365.8 Z" fill="#fff" stroke="#444" stroke-width="0.7" stroke-linejoin="round"/>
<text x="366.6" y="266.5" font-size="19.8" textLength="18.3" lengthAdjust="spacingAndGlyphs" fill="#3c3c3c" font-weight="normal" stroke="#fff" stroke-width="0.30" transform="rotate(-90 375.8 259.4)">Y2102</text>
<rect x="409.9" y="230.6" width="5.6" height="9.7" fill="#ececec" stroke="#2a2a2a" stroke-width="0.8"/>
<text x="408.9" y="237.1" font-size="4.7" textLength="7.6" lengthAdjust="spacingAndGlyphs" fill="#1a1a1a" font-weight="bold" stroke="#1a1a1a" stroke-width="0.1" transform="rotate(-90 412.7 235.4)">R2412</text>
<rect x="415.9" y="230.6" width="5.6" height="9.7" fill="#ececec" stroke="#2a2a2a" stroke-width="0.8"/>
<text x="414.9" y="237.1" font-size="4.7" textLength="7.6" lengthAdjust="spacingAndGlyphs" fill="#1a1a1a" font-weight="bold" stroke="#1a1a1a" stroke-width="0.1" transform="rotate(-90 418.7 235.4)">C2507</text>
<rect x="275.1" y="230.2" width="11.0" height="9.1" fill="#fafafa" stroke="#333" stroke-width="0.75"/>
<text x="276.1" y="237.7" font-size="8.1" textLength="9.0" lengthAdjust="spacingAndGlyphs" fill="#444" font-weight="normal" stroke="#fff" stroke-width="0.13">L2064</text>
<rect x="292.2" y="234.3" width="9.6" height="5.2" fill="#ececec" stroke="#2a2a2a" stroke-width="0.8"/>
<text x="293.3" y="238.5" font-size="4.4" textLength="7.5" lengthAdjust="spacingAndGlyphs" fill="#1a1a1a" font-weight="bold" stroke="#1a1a1a" stroke-width="0.1">R2088</text>
<rect x="300.6" y="240.7" width="9.6" height="5.2" fill="#ececec" stroke="#2a2a2a" stroke-width="0.8"/>
<text x="301.7" y="244.9" font-size="4.4" textLength="7.5" lengthAdjust="spacingAndGlyphs" fill="#1a1a1a" font-weight="bold" stroke="#1a1a1a" stroke-width="0.1">C2433</text>
<rect x="299.0" y="246.7" width="8.8" height="11.3" fill="#fafafa" stroke="#333" stroke-width="0.75"/>
<text x="299.2" y="255.0" font-size="7.4" textLength="8.5" lengthAdjust="spacingAndGlyphs" fill="#555" font-weight="normal" transform="rotate(-90 303.4 252.3)">2XX</text>
<rect x="282.5" y="255.3" width="5.7" height="9.1" fill="#ececec" stroke="#2a2a2a" stroke-width="0.8"/>
<text x="281.8" y="261.6" font-size="4.8" textLength="7.1" lengthAdjust="spacingAndGlyphs" fill="#1a1a1a" font-weight="bold" stroke="#1a1a1a" stroke-width="0.1" transform="rotate(-90 285.4 259.9)">R2516</text>
<rect x="289.8" y="258.4" width="9.6" height="5.6" fill="#ececec" stroke="#2a2a2a" stroke-width="0.8"/>
<text x="290.9" y="262.9" font-size="4.7" textLength="7.5" lengthAdjust="spacingAndGlyphs" fill="#1a1a1a" font-weight="bold" stroke="#1a1a1a" stroke-width="0.1">C2809</text>
<rect x="370.1" y="276.4" width="9.7" height="5.2" fill="#ececec" stroke="#2a2a2a" stroke-width="0.8"/>
<text x="371.2" y="280.6" font-size="4.4" textLength="7.6" lengthAdjust="spacingAndGlyphs" fill="#1a1a1a" font-weight="bold" stroke="#1a1a1a" stroke-width="0.1">R2305</text>
<rect x="369.7" y="288.3" width="10.5" height="8.6" fill="#fafafa" stroke="#333" stroke-width="0.75"/>
<text x="370.6" y="295.4" font-size="7.7" textLength="8.6" lengthAdjust="spacingAndGlyphs" fill="#444" font-weight="normal">L2107</text>
<rect x="369.7" y="297.3" width="9.3" height="4.8" fill="#ececec" stroke="#2a2a2a" stroke-width="0.8"/>
<text x="370.7" y="301.1" font-size="4.0" textLength="7.3" lengthAdjust="spacingAndGlyphs" fill="#1a1a1a" font-weight="bold" stroke="#1a1a1a" stroke-width="0.1">C2318</text>
<rect x="370.1" y="302.5" width="5.6" height="9.2" fill="#ececec" stroke="#2a2a2a" stroke-width="0.8"/>
<text x="369.3" y="308.8" font-size="4.7" textLength="7.2" lengthAdjust="spacingAndGlyphs" fill="#1a1a1a" font-weight="bold" stroke="#1a1a1a" stroke-width="0.1" transform="rotate(-90 372.9 307.1)">R2412</text>
<rect x="370.1" y="312.1" width="9.3" height="5.3" fill="#ececec" stroke="#2a2a2a" stroke-width="0.8"/>
<text x="371.1" y="316.3" font-size="4.4" textLength="7.3" lengthAdjust="spacingAndGlyphs" fill="#1a1a1a" font-weight="bold" stroke="#1a1a1a" stroke-width="0.1">C2507</text>
<rect x="370.1" y="317.8" width="9.3" height="5.2" fill="#ececec" stroke="#2a2a2a" stroke-width="0.8"/>
<text x="371.1" y="322.0" font-size="4.4" textLength="7.3" lengthAdjust="spacingAndGlyphs" fill="#1a1a1a" font-weight="bold" stroke="#1a1a1a" stroke-width="0.1">R2088</text>
<rect x="379.8" y="312.1" width="8.8" height="10.5" fill="#fafafa" stroke="#333" stroke-width="0.75"/>
<text x="380.3" y="320.0" font-size="7.4" textLength="7.9" lengthAdjust="spacingAndGlyphs" fill="#555" font-weight="normal" transform="rotate(-90 384.2 317.4)">2XX</text>
<path d="M377.6,329.7 H397.1 V331.7 H398.6 V336.7 H397.6 V345.2 H398.6 V350.2 H397.1 V352.2 H377.6 V350.2 H376.1 V345.2 H377.1 V336.7 H376.1 V331.7 H377.6 Z" fill="#fff" stroke="#444" stroke-width="0.7" stroke-linejoin="round"/>
<text x="377.9" y="347.9" font-size="19.5" textLength="18.9" lengthAdjust="spacingAndGlyphs" fill="#3c3c3c" font-weight="normal" stroke="#fff" stroke-width="0.30" transform="rotate(-90 387.4 340.9)">Y2103</text>
<rect x="395.2" y="358.2" width="11.1" height="8.5" fill="#fafafa" stroke="#333" stroke-width="0.75"/>
<text x="396.2" y="365.2" font-size="7.6" textLength="9.1" lengthAdjust="spacingAndGlyphs" fill="#444" font-weight="normal">L2113</text>
<rect x="395.4" y="367.9" width="5.2" height="9.6" fill="#ececec" stroke="#2a2a2a" stroke-width="0.8"/>
<text x="394.3" y="374.3" font-size="4.4" textLength="7.5" lengthAdjust="spacingAndGlyphs" fill="#1a1a1a" font-weight="bold" stroke="#1a1a1a" stroke-width="0.1" transform="rotate(-90 398.0 372.7)">C2433</text>
<rect x="401.0" y="367.9" width="8.9" height="10.4" fill="#fafafa" stroke="#333" stroke-width="0.75"/>
<text x="401.5" y="375.8" font-size="7.5" textLength="7.8" lengthAdjust="spacingAndGlyphs" fill="#555" font-weight="normal" transform="rotate(-90 405.4 373.1)">2XX</text>
<rect x="465.5" y="254.3" width="11.5" height="10.1" fill="#fafafa" stroke="#333" stroke-width="0.75"/>
<text x="466.5" y="262.6" font-size="9.0" textLength="9.4" lengthAdjust="spacingAndGlyphs" fill="#444" font-weight="normal" stroke="#fff" stroke-width="0.14">Q2401</text>
<rect x="469.3" y="265.2" width="9.7" height="5.2" fill="#ececec" stroke="#2a2a2a" stroke-width="0.8"/>
<text x="470.4" y="269.4" font-size="4.4" textLength="7.6" lengthAdjust="spacingAndGlyphs" fill="#1a1a1a" font-weight="bold" stroke="#1a1a1a" stroke-width="0.1">R2516</text>
<rect x="469.3" y="271.2" width="9.7" height="4.8" fill="#ececec" stroke="#2a2a2a" stroke-width="0.8"/>
<text x="470.4" y="275.0" font-size="4.0" textLength="7.6" lengthAdjust="spacingAndGlyphs" fill="#1a1a1a" font-weight="bold" stroke="#1a1a1a" stroke-width="0.1">C2809</text>
<rect x="427.3" y="310.4" width="18.7" height="29.4" fill="#fff" stroke="#444" stroke-width="0.7"/>
<text x="423.7" y="331.8" font-size="18.8" textLength="25.9" lengthAdjust="spacingAndGlyphs" fill="#3a3a3a" font-weight="normal" stroke="#fff" stroke-width="0.30" transform="rotate(-90 436.6 325.1)">U2701</text>
<rect x="446.4" y="311.6" width="14.5" height="27.8" fill="#fff" stroke="#444" stroke-width="0.7"/>
<text x="441.4" y="330.7" font-size="14.6" textLength="24.5" lengthAdjust="spacingAndGlyphs" fill="#3a3a3a" font-weight="normal" stroke="#fff" stroke-width="0.23" transform="rotate(-90 453.6 325.5)">C2706</text>
<rect x="430.4" y="341.0" width="12.4" height="6.2" fill="#fafafa" stroke="#333" stroke-width="0.75" rx="1.5"/>
<text x="431.5" y="346.1" font-size="5.5" textLength="10.2" lengthAdjust="spacingAndGlyphs" fill="#444" font-weight="normal">C2705</text>
<rect x="248.2" y="282.1" width="9.0" height="5.0" fill="#fafafa" stroke="#333" stroke-width="0.75"/>
<text x="249.0" y="286.2" font-size="4.5" textLength="7.4" lengthAdjust="spacingAndGlyphs" fill="#444" font-weight="normal">2030</text>
<rect x="278.9" y="282.7" width="9.4" height="5.0" fill="#ececec" stroke="#2a2a2a" stroke-width="0.8"/>
<text x="279.9" y="286.7" font-size="4.2" textLength="7.3" lengthAdjust="spacingAndGlyphs" fill="#1a1a1a" font-weight="bold" stroke="#1a1a1a" stroke-width="0.1">R2305</text>
<rect x="281.3" y="288.1" width="9.7" height="10.7" fill="#fafafa" stroke="#333" stroke-width="0.75"/>
<text x="282.1" y="296.4" font-size="8.1" textLength="8.0" lengthAdjust="spacingAndGlyphs" fill="#555" font-weight="normal" stroke="#fff" stroke-width="0.13" transform="rotate(-90 286.1 293.5)">2XX</text>
<rect x="253.8" y="291.5" width="9.4" height="5.3" fill="#ececec" stroke="#2a2a2a" stroke-width="0.8"/>
<text x="254.8" y="295.7" font-size="4.4" textLength="7.3" lengthAdjust="spacingAndGlyphs" fill="#1a1a1a" font-weight="bold" stroke="#1a1a1a" stroke-width="0.1">C2318</text>
<rect x="239.5" y="297.6" width="5.7" height="10.0" fill="#ececec" stroke="#2a2a2a" stroke-width="0.8"/>
<text x="238.4" y="304.3" font-size="4.8" textLength="7.8" lengthAdjust="spacingAndGlyphs" fill="#1a1a1a" font-weight="bold" stroke="#1a1a1a" stroke-width="0.1" transform="rotate(-90 242.3 302.6)">R2412</text>
<rect x="245.6" y="297.6" width="5.6" height="10.0" fill="#ececec" stroke="#2a2a2a" stroke-width="0.8"/>
<text x="244.5" y="304.3" font-size="4.7" textLength="7.8" lengthAdjust="spacingAndGlyphs" fill="#1a1a1a" font-weight="bold" stroke="#1a1a1a" stroke-width="0.1" transform="rotate(-90 248.4 302.6)">C2507</text>
<rect x="253.2" y="297.6" width="5.6" height="10.0" fill="#ececec" stroke="#2a2a2a" stroke-width="0.8"/>
<text x="252.1" y="304.3" font-size="4.7" textLength="7.8" lengthAdjust="spacingAndGlyphs" fill="#1a1a1a" font-weight="bold" stroke="#1a1a1a" stroke-width="0.1" transform="rotate(-90 256.0 302.6)">R2088</text>
<rect x="279.3" y="298.8" width="5.2" height="9.4" fill="#ececec" stroke="#2a2a2a" stroke-width="0.8"/>
<text x="278.2" y="305.1" font-size="4.4" textLength="7.3" lengthAdjust="spacingAndGlyphs" fill="#1a1a1a" font-weight="bold" stroke="#1a1a1a" stroke-width="0.1" transform="rotate(-90 281.9 303.5)">C2433</text>
<rect x="245.2" y="308.2" width="14.0" height="10.1" fill="#fafafa" stroke="#333" stroke-width="0.75"/>
<text x="246.5" y="316.5" font-size="9.0" textLength="11.5" lengthAdjust="spacingAndGlyphs" fill="#444" font-weight="normal" stroke="#fff" stroke-width="0.14">Q2030</text>
<rect x="279.3" y="308.2" width="11.7" height="9.0" fill="#fafafa" stroke="#333" stroke-width="0.75"/>
<text x="280.4" y="315.6" font-size="8.0" textLength="9.6" lengthAdjust="spacingAndGlyphs" fill="#444" font-weight="normal" stroke="#fff" stroke-width="0.13">L2005</text>
<rect x="274.3" y="311.2" width="5.0" height="10.1" fill="#ececec" stroke="#2a2a2a" stroke-width="0.8"/>
<text x="272.9" y="317.8" font-size="4.2" textLength="7.9" lengthAdjust="spacingAndGlyphs" fill="#1a1a1a" font-weight="bold" stroke="#1a1a1a" stroke-width="0.1" transform="rotate(-90 276.8 316.2)">R2516</text>
<rect x="279.7" y="317.6" width="9.3" height="4.9" fill="#ececec" stroke="#2a2a2a" stroke-width="0.8"/>
<text x="280.7" y="321.5" font-size="4.1" textLength="7.3" lengthAdjust="spacingAndGlyphs" fill="#1a1a1a" font-weight="bold" stroke="#1a1a1a" stroke-width="0.1">C2809</text>
<rect x="219.5" y="311.2" width="12.0" height="23.1" fill="#fff" stroke="#444" stroke-width="0.7"/>
<text x="215.3" y="327.1" font-size="12.1" textLength="20.3" lengthAdjust="spacingAndGlyphs" fill="#3a3a3a" font-weight="normal" stroke="#fff" stroke-width="0.19" transform="rotate(-90 225.5 322.8)">R2039</text>
<rect x="233.1" y="312.8" width="9.7" height="4.8" fill="#ececec" stroke="#2a2a2a" stroke-width="0.8"/>
<text x="234.2" y="316.6" font-size="4.0" textLength="7.6" lengthAdjust="spacingAndGlyphs" fill="#1a1a1a" font-weight="bold" stroke="#1a1a1a" stroke-width="0.1">R2305</text>
<rect x="233.1" y="318.3" width="9.7" height="12.0" fill="#cfcfcf" stroke="#3a3a3a" stroke-width="0.7"/>
<text x="233.4" y="327.2" font-size="8.1" textLength="9.0" lengthAdjust="spacingAndGlyphs" fill="#444" font-weight="normal" stroke="#fff" stroke-width="0.13" transform="rotate(-90 237.9 324.3)">2XX</text>
<rect x="243.6" y="318.9" width="5.6" height="9.6" fill="#ececec" stroke="#2a2a2a" stroke-width="0.8"/>
<text x="242.7" y="325.4" font-size="4.7" textLength="7.5" lengthAdjust="spacingAndGlyphs" fill="#1a1a1a" font-weight="bold" stroke="#1a1a1a" stroke-width="0.1" transform="rotate(-90 246.4 323.7)">C2318</text>
<rect x="259.6" y="316.2" width="8.7" height="11.1" fill="#fafafa" stroke="#333" stroke-width="0.75"/>
<text x="259.8" y="324.4" font-size="7.3" textLength="8.3" lengthAdjust="spacingAndGlyphs" fill="#555" font-weight="normal" transform="rotate(-90 264.0 321.8)">2XX</text>
<rect x="268.9" y="317.6" width="5.4" height="9.7" fill="#ececec" stroke="#2a2a2a" stroke-width="0.8"/>
<text x="267.8" y="324.1" font-size="4.5" textLength="7.6" lengthAdjust="spacingAndGlyphs" fill="#1a1a1a" font-weight="bold" stroke="#1a1a1a" stroke-width="0.1" transform="rotate(-90 271.6 322.5)">R2412</text>
<rect x="232.1" y="330.9" width="5.4" height="9.4" fill="#ececec" stroke="#2a2a2a" stroke-width="0.8"/>
<text x="231.1" y="337.2" font-size="4.5" textLength="7.3" lengthAdjust="spacingAndGlyphs" fill="#1a1a1a" font-weight="bold" stroke="#1a1a1a" stroke-width="0.1" transform="rotate(-90 234.8 335.6)">C2507</text>
<rect x="237.5" y="330.9" width="5.7" height="9.4" fill="#ececec" stroke="#2a2a2a" stroke-width="0.8"/>
<text x="236.7" y="337.3" font-size="4.8" textLength="7.3" lengthAdjust="spacingAndGlyphs" fill="#1a1a1a" font-weight="bold" stroke="#1a1a1a" stroke-width="0.1" transform="rotate(-90 240.3 335.6)">R2088</text>
<rect x="220.7" y="334.9" width="9.4" height="5.2" fill="#ececec" stroke="#2a2a2a" stroke-width="0.8"/>
<text x="221.7" y="339.1" font-size="4.4" textLength="7.3" lengthAdjust="spacingAndGlyphs" fill="#1a1a1a" font-weight="bold" stroke="#1a1a1a" stroke-width="0.1">C2433</text>
<rect x="220.1" y="340.9" width="11.0" height="14.5" fill="#fafafa" stroke="#333" stroke-width="0.75"/>
<text x="219.7" y="351.7" font-size="9.8" textLength="11.9" lengthAdjust="spacingAndGlyphs" fill="#444" font-weight="normal" stroke="#fff" stroke-width="0.16" transform="rotate(-90 225.6 348.1)">L2035</text>
<rect x="269.7" y="328.3" width="13.6" height="22.1" fill="#fff" stroke="#444" stroke-width="0.7"/>
<text x="266.8" y="344.2" font-size="13.7" textLength="19.4" lengthAdjust="spacingAndGlyphs" fill="#3a3a3a" font-weight="normal" stroke="#fff" stroke-width="0.22" transform="rotate(-90 276.5 339.4)">Q2031</text>
<rect x="264.2" y="328.3" width="5.5" height="9.4" fill="#ececec" stroke="#2a2a2a" stroke-width="0.8"/>
<text x="263.3" y="334.6" font-size="4.6" textLength="7.3" lengthAdjust="spacingAndGlyphs" fill="#1a1a1a" font-weight="bold" stroke="#1a1a1a" stroke-width="0.1" transform="rotate(-90 266.9 333.0)">R2516</text>
<rect x="284.3" y="327.3" width="5.4" height="9.6" fill="#ececec" stroke="#2a2a2a" stroke-width="0.8"/>
<text x="283.3" y="333.7" font-size="4.5" textLength="7.5" lengthAdjust="spacingAndGlyphs" fill="#1a1a1a" font-weight="bold" stroke="#1a1a1a" stroke-width="0.1" transform="rotate(-90 287.0 332.1)">C2809</text>
<rect x="264.2" y="340.9" width="5.5" height="9.7" fill="#ececec" stroke="#2a2a2a" stroke-width="0.8"/>
<text x="263.2" y="347.4" font-size="4.6" textLength="7.6" lengthAdjust="spacingAndGlyphs" fill="#1a1a1a" font-weight="bold" stroke="#1a1a1a" stroke-width="0.1" transform="rotate(-90 266.9 345.8)">R2305</text>
<rect x="284.3" y="340.9" width="5.4" height="9.7" fill="#ececec" stroke="#2a2a2a" stroke-width="0.8"/>
<text x="283.2" y="347.4" font-size="4.5" textLength="7.6" lengthAdjust="spacingAndGlyphs" fill="#1a1a1a" font-weight="bold" stroke="#1a1a1a" stroke-width="0.1" transform="rotate(-90 287.0 345.8)">C2318</text>
<rect x="254.8" y="352.0" width="5.2" height="9.3" fill="#ececec" stroke="#2a2a2a" stroke-width="0.8"/>
<text x="253.8" y="358.2" font-size="4.4" textLength="7.3" lengthAdjust="spacingAndGlyphs" fill="#1a1a1a" font-weight="bold" stroke="#1a1a1a" stroke-width="0.1" transform="rotate(-90 257.4 356.6)">R2412</text>
<rect x="260.8" y="351.2" width="8.9" height="6.1" fill="#ececec" stroke="#2a2a2a" stroke-width="0.8"/>
<text x="261.8" y="356.1" font-size="5.1" textLength="6.9" lengthAdjust="spacingAndGlyphs" fill="#1a1a1a" font-weight="bold" stroke="#1a1a1a" stroke-width="0.1">C2507</text>
<rect x="274.5" y="350.6" width="5.2" height="9.4" fill="#ececec" stroke="#2a2a2a" stroke-width="0.8"/>
<text x="273.4" y="356.9" font-size="4.4" textLength="7.3" lengthAdjust="spacingAndGlyphs" fill="#1a1a1a" font-weight="bold" stroke="#1a1a1a" stroke-width="0.1" transform="rotate(-90 277.1 355.3)">R2088</text>
<rect x="280.9" y="366.7" width="7.6" height="11.1" fill="#fafafa" stroke="#333" stroke-width="0.75"/>
<text x="280.5" y="374.5" font-size="6.4" textLength="8.3" lengthAdjust="spacingAndGlyphs" fill="#555" font-weight="normal" transform="rotate(-90 284.7 372.2)">2XX</text>
<rect x="284.1" y="389.4" width="9.7" height="5.6" fill="#fafafa" stroke="#333" stroke-width="0.75"/>
<text x="285.0" y="394.0" font-size="5.0" textLength="8.0" lengthAdjust="spacingAndGlyphs" fill="#444" font-weight="normal">L2031</text>
<rect x="280.1" y="425.0" width="9.2" height="5.6" fill="#ececec" stroke="#2a2a2a" stroke-width="0.8"/>
<text x="281.1" y="429.5" font-size="4.7" textLength="7.2" lengthAdjust="spacingAndGlyphs" fill="#1a1a1a" font-weight="bold" stroke="#1a1a1a" stroke-width="0.1">C2433</text>
<rect x="288.5" y="431.8" width="8.5" height="11.2" fill="#fafafa" stroke="#333" stroke-width="0.75"/>
<text x="288.6" y="439.9" font-size="7.1" textLength="8.4" lengthAdjust="spacingAndGlyphs" fill="#555" font-weight="normal" transform="rotate(-90 292.8 437.4)">2XX</text>
<rect x="297.0" y="440.2" width="6.4" height="9.6" fill="#ececec" stroke="#2a2a2a" stroke-width="0.8"/>
<text x="296.5" y="446.9" font-size="5.4" textLength="7.5" lengthAdjust="spacingAndGlyphs" fill="#1a1a1a" font-weight="bold" stroke="#1a1a1a" stroke-width="0.1" transform="rotate(-90 300.2 445.0)">R2516</text>
<rect x="306.4" y="448.2" width="11.1" height="8.5" fill="#fafafa" stroke="#333" stroke-width="0.75"/>
<text x="307.4" y="455.2" font-size="7.6" textLength="9.1" lengthAdjust="spacingAndGlyphs" fill="#444" font-weight="normal">L2020</text>
<rect x="323.0" y="448.2" width="5.3" height="9.7" fill="#ececec" stroke="#2a2a2a" stroke-width="0.8"/>
<text x="321.9" y="454.6" font-size="4.4" textLength="7.6" lengthAdjust="spacingAndGlyphs" fill="#1a1a1a" font-weight="bold" stroke="#1a1a1a" stroke-width="0.1" transform="rotate(-90 325.6 453.0)">C2809</text>
<rect x="504.1" y="216.6" width="9.6" height="5.3" fill="#ececec" stroke="#2a2a2a" stroke-width="0.8"/>
<text x="505.2" y="220.8" font-size="4.4" textLength="7.5" lengthAdjust="spacingAndGlyphs" fill="#1a1a1a" font-weight="bold" stroke="#1a1a1a" stroke-width="0.1">R2305</text>
<rect x="518.2" y="216.2" width="5.2" height="9.7" fill="#ececec" stroke="#2a2a2a" stroke-width="0.8"/>
<text x="517.0" y="222.6" font-size="4.4" textLength="7.6" lengthAdjust="spacingAndGlyphs" fill="#1a1a1a" font-weight="bold" stroke="#1a1a1a" stroke-width="0.1" transform="rotate(-90 520.8 221.1)">C2318</text>
<rect x="494.1" y="219.1" width="5.6" height="9.6" fill="#ececec" stroke="#2a2a2a" stroke-width="0.8"/>
<text x="493.2" y="225.6" font-size="4.7" textLength="7.5" lengthAdjust="spacingAndGlyphs" fill="#1a1a1a" font-weight="bold" stroke="#1a1a1a" stroke-width="0.1" transform="rotate(-90 496.9 223.9)">R2412</text>
<rect x="499.7" y="223.5" width="5.6" height="9.6" fill="#fafafa" stroke="#333" stroke-width="0.75"/>
<text x="498.9" y="230.0" font-size="4.7" textLength="7.2" lengthAdjust="spacingAndGlyphs" fill="#555" font-weight="normal" transform="rotate(-90 502.5 228.3)">2XX</text>
<rect x="505.3" y="225.1" width="12.0" height="10.4" fill="#fafafa" stroke="#333" stroke-width="0.75"/>
<text x="506.4" y="233.6" font-size="9.3" textLength="9.8" lengthAdjust="spacingAndGlyphs" fill="#444" font-weight="normal" stroke="#fff" stroke-width="0.15">Q2400</text>
<rect x="517.8" y="225.9" width="5.6" height="9.6" fill="#ececec" stroke="#2a2a2a" stroke-width="0.8"/>
<text x="516.9" y="232.4" font-size="4.7" textLength="7.5" lengthAdjust="spacingAndGlyphs" fill="#1a1a1a" font-weight="bold" stroke="#1a1a1a" stroke-width="0.1" transform="rotate(-90 520.6 230.7)">C2507</text>
<rect x="523.8" y="221.5" width="8.0" height="10.8" fill="#fafafa" stroke="#333" stroke-width="0.75"/>
<text x="523.8" y="229.3" font-size="6.7" textLength="8.1" lengthAdjust="spacingAndGlyphs" fill="#555" font-weight="normal" transform="rotate(-90 527.8 226.9)">2XX</text>
<rect x="532.2" y="222.1" width="5.6" height="10.0" fill="#ececec" stroke="#2a2a2a" stroke-width="0.8"/>
<text x="531.1" y="228.8" font-size="4.7" textLength="7.8" lengthAdjust="spacingAndGlyphs" fill="#1a1a1a" font-weight="bold" stroke="#1a1a1a" stroke-width="0.1" transform="rotate(-90 535.0 227.1)">R2088</text>
<rect x="529.4" y="232.3" width="8.4" height="10.9" fill="#fafafa" stroke="#333" stroke-width="0.75"/>
<text x="529.5" y="240.3" font-size="7.0" textLength="8.2" lengthAdjust="spacingAndGlyphs" fill="#555" font-weight="normal" transform="rotate(-90 533.6 237.8)">2XX</text>
<rect x="538.2" y="219.9" width="25.7" height="18.4" fill="#fff" stroke="#444" stroke-width="0.7"/>
<text x="539.7" y="235.7" font-size="18.5" textLength="22.6" lengthAdjust="spacingAndGlyphs" fill="#222" font-weight="normal" stroke="#fff" stroke-width="0.30">C2425</text>
<rect x="565.3" y="217.9" width="14.3" height="9.2" fill="#fafafa" stroke="#333" stroke-width="0.75"/>
<text x="566.6" y="225.4" font-size="8.2" textLength="11.7" lengthAdjust="spacingAndGlyphs" fill="#444" font-weight="normal" stroke="#fff" stroke-width="0.13">L2408</text>
<rect x="565.9" y="227.5" width="8.1" height="10.8" fill="#fafafa" stroke="#333" stroke-width="0.75"/>
<text x="565.9" y="235.3" font-size="6.8" textLength="8.1" lengthAdjust="spacingAndGlyphs" fill="#555" font-weight="normal" transform="rotate(-90 570.0 232.9)">2XX</text>
<rect x="574.4" y="228.3" width="6.0" height="11.2" fill="#ececec" stroke="#2a2a2a" stroke-width="0.8"/>
<text x="573.0" y="235.7" font-size="5.0" textLength="8.7" lengthAdjust="spacingAndGlyphs" fill="#1a1a1a" font-weight="bold" stroke="#1a1a1a" stroke-width="0.1" transform="rotate(-90 577.4 233.9)">C2433</text>
<rect x="581.2" y="223.5" width="9.6" height="4.8" fill="#ececec" stroke="#2a2a2a" stroke-width="0.8"/>
<text x="582.3" y="227.3" font-size="4.0" textLength="7.5" lengthAdjust="spacingAndGlyphs" fill="#1a1a1a" font-weight="bold" stroke="#1a1a1a" stroke-width="0.1">R2516</text>
<rect x="591.2" y="223.5" width="9.7" height="4.8" fill="#ececec" stroke="#2a2a2a" stroke-width="0.8"/>
<text x="592.3" y="227.3" font-size="4.0" textLength="7.6" lengthAdjust="spacingAndGlyphs" fill="#1a1a1a" font-weight="bold" stroke="#1a1a1a" stroke-width="0.1">C2809</text>
<rect x="581.6" y="228.7" width="24.9" height="22.1" fill="#fff" stroke="#444" stroke-width="0.8"/>
<text x="586.3" y="245.3" font-size="15.4" textLength="15.4" lengthAdjust="spacingAndGlyphs" fill="#222" font-weight="normal" stroke="#fff" stroke-width="0.25">U2402</text>
<text x="582.8" y="231.9" font-size="3.0" text-anchor="start" font-weight="bold" fill="#222">14</text>
<text x="605.3" y="231.9" font-size="3.0" text-anchor="end" font-weight="bold" fill="#222">8</text>
<text x="582.8" y="249.6" font-size="3.0" text-anchor="start" font-weight="bold" fill="#222">1</text>
<text x="605.3" y="249.6" font-size="3.0" text-anchor="end" font-weight="bold" fill="#222">7</text>
<rect x="601.7" y="216.6" width="23.3" height="9.7" fill="#fff" stroke="#444" stroke-width="0.7"/>
<text x="603.1" y="224.9" font-size="9.8" textLength="20.5" lengthAdjust="spacingAndGlyphs" fill="#222" font-weight="normal" stroke="#fff" stroke-width="0.16">C2441</text>
<rect x="624.9" y="216.3" width="17.5" height="22.1" fill="#fff" stroke="#444" stroke-width="0.7"/>
<text x="623.9" y="233.7" font-size="17.6" textLength="19.4" lengthAdjust="spacingAndGlyphs" fill="#3a3a3a" font-weight="normal" stroke="#fff" stroke-width="0.28" transform="rotate(-90 633.6 227.4)">C2438</text>
<rect x="642.6" y="216.3" width="18.0" height="22.1" fill="#fff" stroke="#444" stroke-width="0.7"/>
<text x="641.9" y="233.8" font-size="18.1" textLength="19.4" lengthAdjust="spacingAndGlyphs" fill="#3a3a3a" font-weight="normal" stroke="#fff" stroke-width="0.29" transform="rotate(-90 651.6 227.4)">C2439</text>
<rect x="637.8" y="239.2" width="22.8" height="9.6" fill="#fff" stroke="#444" stroke-width="0.7"/>
<text x="639.2" y="247.5" font-size="9.7" textLength="20.1" lengthAdjust="spacingAndGlyphs" fill="#222" font-weight="normal" stroke="#fff" stroke-width="0.15">C2424</text>
<rect x="608.5" y="227.5" width="5.6" height="9.2" fill="#ececec" stroke="#2a2a2a" stroke-width="0.8"/>
<text x="607.7" y="233.8" font-size="4.7" textLength="7.2" lengthAdjust="spacingAndGlyphs" fill="#1a1a1a" font-weight="bold" stroke="#1a1a1a" stroke-width="0.1" transform="rotate(-90 611.3 232.1)">R2305</text>
<rect x="614.5" y="227.5" width="5.7" height="9.2" fill="#ececec" stroke="#2a2a2a" stroke-width="0.8"/>
<text x="613.8" y="233.8" font-size="4.8" textLength="7.2" lengthAdjust="spacingAndGlyphs" fill="#1a1a1a" font-weight="bold" stroke="#1a1a1a" stroke-width="0.1" transform="rotate(-90 617.4 232.1)">C2318</text>
<rect x="489.2" y="230.3" width="9.7" height="5.4" fill="#ececec" stroke="#2a2a2a" stroke-width="0.8"/>
<text x="490.3" y="234.6" font-size="4.5" textLength="7.6" lengthAdjust="spacingAndGlyphs" fill="#1a1a1a" font-weight="bold" stroke="#1a1a1a" stroke-width="0.1">R2412</text>
<rect x="489.2" y="235.7" width="9.7" height="5.4" fill="#ececec" stroke="#2a2a2a" stroke-width="0.8"/>
<text x="490.3" y="240.0" font-size="4.5" textLength="7.6" lengthAdjust="spacingAndGlyphs" fill="#1a1a1a" font-weight="bold" stroke="#1a1a1a" stroke-width="0.1">C2507</text>
<rect x="489.6" y="243.6" width="5.7" height="9.6" fill="#ececec" stroke="#2a2a2a" stroke-width="0.8"/>
<text x="488.7" y="250.1" font-size="4.8" textLength="7.5" lengthAdjust="spacingAndGlyphs" fill="#1a1a1a" font-weight="bold" stroke="#1a1a1a" stroke-width="0.1" transform="rotate(-90 492.5 248.4)">R2088</text>
<rect x="495.7" y="248.4" width="9.6" height="5.6" fill="#ececec" stroke="#2a2a2a" stroke-width="0.8"/>
<text x="496.8" y="252.9" font-size="4.7" textLength="7.5" lengthAdjust="spacingAndGlyphs" fill="#1a1a1a" font-weight="bold" stroke="#1a1a1a" stroke-width="0.1">C2433</text>
<rect x="489.6" y="255.2" width="12.5" height="6.4" fill="#fafafa" stroke="#333" stroke-width="0.75"/>
<text x="490.7" y="260.4" font-size="5.7" textLength="10.2" lengthAdjust="spacingAndGlyphs" fill="#444" font-weight="normal">C2407</text>
<rect x="502.5" y="254.0" width="9.6" height="5.2" fill="#ececec" stroke="#2a2a2a" stroke-width="0.8"/>
<text x="503.6" y="258.2" font-size="4.4" textLength="7.5" lengthAdjust="spacingAndGlyphs" fill="#1a1a1a" font-weight="bold" stroke="#1a1a1a" stroke-width="0.1">R2516</text>
<rect x="512.5" y="253.2" width="5.7" height="11.6" fill="#ececec" stroke="#2a2a2a" stroke-width="0.8"/>
<text x="510.8" y="260.7" font-size="4.8" textLength="9.0" lengthAdjust="spacingAndGlyphs" fill="#1a1a1a" font-weight="bold" stroke="#1a1a1a" stroke-width="0.1" transform="rotate(-90 515.4 259.0)">C2809</text>
<rect x="518.2" y="246.2" width="11.6" height="6.6" fill="#fafafa" stroke="#333" stroke-width="0.75"/>
<text x="519.2" y="251.6" font-size="5.9" textLength="9.5" lengthAdjust="spacingAndGlyphs" fill="#444" font-weight="normal">C2411</text>
<rect x="531.2" y="243.6" width="10.0" height="5.6" fill="#ececec" stroke="#2a2a2a" stroke-width="0.8"/>
<text x="532.3" y="248.1" font-size="4.7" textLength="7.8" lengthAdjust="spacingAndGlyphs" fill="#1a1a1a" font-weight="bold" stroke="#1a1a1a" stroke-width="0.1">R2305</text>
<rect x="533.2" y="249.6" width="9.5" height="5.2" fill="#ececec" stroke="#2a2a2a" stroke-width="0.8"/>
<text x="534.2" y="253.8" font-size="4.4" textLength="7.4" lengthAdjust="spacingAndGlyphs" fill="#1a1a1a" font-weight="bold" stroke="#1a1a1a" stroke-width="0.1">C2318</text>
<rect x="528.2" y="255.6" width="31.7" height="34.5" fill="#fff" stroke="#444" stroke-width="0.8"/>
<text x="531.6" y="279.5" font-size="18.6" textLength="24.8" lengthAdjust="spacingAndGlyphs" fill="#3a3a3a" font-weight="normal" stroke="#fff" stroke-width="0.30" transform="rotate(-90 544.0 272.9)">U2401</text>
<text x="529.4" y="258.8" font-size="3.0" text-anchor="start" font-weight="bold" fill="#222">11</text>
<text x="558.7" y="258.8" font-size="3.0" text-anchor="end" font-weight="bold" fill="#222">10</text>
<text x="529.4" y="288.9" font-size="3.0" text-anchor="start" font-weight="bold" fill="#222">20</text>
<text x="558.7" y="288.9" font-size="3.0" text-anchor="end" font-weight="bold" fill="#222">1</text>
<rect x="556.3" y="244.2" width="5.6" height="9.8" fill="#ececec" stroke="#2a2a2a" stroke-width="0.8"/>
<text x="555.3" y="250.8" font-size="4.7" textLength="7.6" lengthAdjust="spacingAndGlyphs" fill="#1a1a1a" font-weight="bold" stroke="#1a1a1a" stroke-width="0.1" transform="rotate(-90 559.1 249.1)">R2412</text>
<rect x="562.3" y="249.2" width="11.1" height="12.0" fill="#fafafa" stroke="#333" stroke-width="0.75"/>
<text x="562.9" y="258.8" font-size="9.9" textLength="9.8" lengthAdjust="spacingAndGlyphs" fill="#444" font-weight="normal" stroke="#fff" stroke-width="0.16" transform="rotate(-90 567.8 255.2)">2403</text>
<rect x="573.6" y="244.4" width="6.0" height="9.6" fill="#ececec" stroke="#2a2a2a" stroke-width="0.8"/>
<text x="572.9" y="251.0" font-size="5.0" textLength="7.5" lengthAdjust="spacingAndGlyphs" fill="#1a1a1a" font-weight="bold" stroke="#1a1a1a" stroke-width="0.1" transform="rotate(-90 576.6 249.2)">C2507</text>
<rect x="573.6" y="254.8" width="6.0" height="10.4" fill="#ececec" stroke="#2a2a2a" stroke-width="0.8"/>
<text x="572.5" y="261.8" font-size="5.0" textLength="8.1" lengthAdjust="spacingAndGlyphs" fill="#1a1a1a" font-weight="bold" stroke="#1a1a1a" stroke-width="0.1" transform="rotate(-90 576.6 260.0)">R2088</text>
<rect x="580.0" y="254.4" width="10.0" height="12.0" fill="#fafafa" stroke="#333" stroke-width="0.75"/>
<text x="580.1" y="263.6" font-size="8.9" textLength="9.8" lengthAdjust="spacingAndGlyphs" fill="#444" font-weight="normal" stroke="#fff" stroke-width="0.14" transform="rotate(-90 585.0 260.4)">2402</text>
<rect x="592.0" y="251.6" width="9.7" height="5.2" fill="#ececec" stroke="#2a2a2a" stroke-width="0.8"/>
<text x="593.1" y="255.8" font-size="4.4" textLength="7.6" lengthAdjust="spacingAndGlyphs" fill="#1a1a1a" font-weight="bold" stroke="#1a1a1a" stroke-width="0.1">C2433</text>
<rect x="592.0" y="263.2" width="9.7" height="5.3" fill="#ececec" stroke="#2a2a2a" stroke-width="0.8"/>
<text x="593.1" y="267.4" font-size="4.4" textLength="7.6" lengthAdjust="spacingAndGlyphs" fill="#1a1a1a" font-weight="bold" stroke="#1a1a1a" stroke-width="0.1">R2516</text>
<rect x="592.4" y="268.9" width="12.1" height="10.0" fill="#fafafa" stroke="#333" stroke-width="0.75"/>
<text x="593.5" y="277.1" font-size="8.9" textLength="9.9" lengthAdjust="spacingAndGlyphs" fill="#444" font-weight="normal" stroke="#fff" stroke-width="0.14">Q2406</text>
<rect x="607.7" y="240.1" width="10.0" height="12.1" fill="#fafafa" stroke="#333" stroke-width="0.75"/>
<text x="607.7" y="249.3" font-size="8.9" textLength="9.9" lengthAdjust="spacingAndGlyphs" fill="#444" font-weight="normal" stroke="#fff" stroke-width="0.14" transform="rotate(-90 612.7 246.1)">2404</text>
<rect x="608.5" y="252.2" width="5.0" height="10.0" fill="#ececec" stroke="#2a2a2a" stroke-width="0.8"/>
<text x="607.1" y="258.7" font-size="4.2" textLength="7.8" lengthAdjust="spacingAndGlyphs" fill="#1a1a1a" font-weight="bold" stroke="#1a1a1a" stroke-width="0.1" transform="rotate(-90 611.0 257.2)">C2809</text>
<rect x="613.5" y="252.2" width="5.0" height="10.0" fill="#ececec" stroke="#2a2a2a" stroke-width="0.8"/>
<text x="612.1" y="258.7" font-size="4.2" textLength="7.8" lengthAdjust="spacingAndGlyphs" fill="#1a1a1a" font-weight="bold" stroke="#1a1a1a" stroke-width="0.1" transform="rotate(-90 616.0 257.2)">R2305</text>
<rect x="607.7" y="262.2" width="10.0" height="11.1" fill="#fafafa" stroke="#333" stroke-width="0.75"/>
<text x="608.1" y="270.9" font-size="8.9" textLength="9.1" lengthAdjust="spacingAndGlyphs" fill="#444" font-weight="normal" stroke="#fff" stroke-width="0.14" transform="rotate(-90 612.7 267.8)">2405</text>
<rect x="608.5" y="273.3" width="5.2" height="9.6" fill="#ececec" stroke="#2a2a2a" stroke-width="0.8"/>
<text x="607.4" y="279.7" font-size="4.4" textLength="7.5" lengthAdjust="spacingAndGlyphs" fill="#1a1a1a" font-weight="bold" stroke="#1a1a1a" stroke-width="0.1" transform="rotate(-90 611.1 278.1)">C2318</text>
<rect x="624.1" y="239.6" width="9.2" height="5.2" fill="#ececec" stroke="#2a2a2a" stroke-width="0.8"/>
<text x="625.1" y="243.8" font-size="4.4" textLength="7.2" lengthAdjust="spacingAndGlyphs" fill="#1a1a1a" font-weight="bold" stroke="#1a1a1a" stroke-width="0.1">R2412</text>
<rect x="619.7" y="245.6" width="9.6" height="12.1" fill="#fafafa" stroke="#333" stroke-width="0.75"/>
<text x="619.5" y="254.7" font-size="8.6" textLength="9.9" lengthAdjust="spacingAndGlyphs" fill="#444" font-weight="normal" stroke="#fff" stroke-width="0.14" transform="rotate(-90 624.5 251.6)">2406</text>
<rect x="624.1" y="258.9" width="5.6" height="9.6" fill="#ececec" stroke="#2a2a2a" stroke-width="0.8"/>
<text x="623.2" y="265.4" font-size="4.7" textLength="7.5" lengthAdjust="spacingAndGlyphs" fill="#1a1a1a" font-weight="bold" stroke="#1a1a1a" stroke-width="0.1" transform="rotate(-90 626.9 263.7)">C2507</text>
<rect x="621.3" y="270.9" width="11.6" height="10.0" fill="#fafafa" stroke="#333" stroke-width="0.75"/>
<text x="622.3" y="279.1" font-size="8.9" textLength="9.5" lengthAdjust="spacingAndGlyphs" fill="#444" font-weight="normal" stroke="#fff" stroke-width="0.14">Q2403</text>
<rect x="627.3" y="281.7" width="5.6" height="9.3" fill="#ececec" stroke="#2a2a2a" stroke-width="0.8"/>
<text x="626.5" y="288.0" font-size="4.7" textLength="7.3" lengthAdjust="spacingAndGlyphs" fill="#1a1a1a" font-weight="bold" stroke="#1a1a1a" stroke-width="0.1" transform="rotate(-90 630.1 286.4)">R2088</text>
<rect x="634.1" y="249.6" width="25.3" height="20.9" fill="#fff" stroke="#444" stroke-width="0.8"/>
<text x="638.9" y="265.3" font-size="14.6" textLength="15.7" lengthAdjust="spacingAndGlyphs" fill="#222" font-weight="normal" stroke="#fff" stroke-width="0.23">U2403</text>
<text x="635.3" y="252.8" font-size="3.0" text-anchor="start" font-weight="bold" fill="#222">14</text>
<text x="658.2" y="252.8" font-size="3.0" text-anchor="end" font-weight="bold" fill="#222">8</text>
<text x="635.3" y="269.3" font-size="3.0" text-anchor="start" font-weight="bold" fill="#222">1</text>
<text x="658.2" y="269.3" font-size="3.0" text-anchor="end" font-weight="bold" fill="#222">7</text>
<rect x="635.3" y="271.7" width="11.7" height="5.6" fill="#fafafa" stroke="#333" stroke-width="0.75"/>
<text x="636.4" y="276.3" font-size="5.0" textLength="9.6" lengthAdjust="spacingAndGlyphs" fill="#444" font-weight="normal">C2423</text>
<rect x="647.8" y="271.3" width="5.2" height="9.2" fill="#ececec" stroke="#2a2a2a" stroke-width="0.8"/>
<text x="646.8" y="277.5" font-size="4.4" textLength="7.2" lengthAdjust="spacingAndGlyphs" fill="#1a1a1a" font-weight="bold" stroke="#1a1a1a" stroke-width="0.1" transform="rotate(-90 650.4 275.9)">C2433</text>
<rect x="653.4" y="271.3" width="5.2" height="9.2" fill="#ececec" stroke="#2a2a2a" stroke-width="0.8"/>
<text x="652.4" y="277.5" font-size="4.4" textLength="7.2" lengthAdjust="spacingAndGlyphs" fill="#1a1a1a" font-weight="bold" stroke="#1a1a1a" stroke-width="0.1" transform="rotate(-90 656.0 275.9)">R2516</text>
<rect x="635.3" y="281.7" width="11.3" height="8.1" fill="#fafafa" stroke="#333" stroke-width="0.75"/>
<text x="636.3" y="288.3" font-size="7.2" textLength="9.3" lengthAdjust="spacingAndGlyphs" fill="#444" font-weight="normal">L2406</text>
<rect x="508.1" y="265.2" width="12.1" height="11.1" fill="#fafafa" stroke="#333" stroke-width="0.75"/>
<text x="509.2" y="274.3" font-size="9.9" textLength="9.9" lengthAdjust="spacingAndGlyphs" fill="#444" font-weight="normal" stroke="#fff" stroke-width="0.16">Q2407</text>
<rect x="506.1" y="278.3" width="9.6" height="5.3" fill="#ececec" stroke="#2a2a2a" stroke-width="0.8"/>
<text x="507.2" y="282.5" font-size="4.4" textLength="7.5" lengthAdjust="spacingAndGlyphs" fill="#1a1a1a" font-weight="bold" stroke="#1a1a1a" stroke-width="0.1">C2809</text>
<rect x="506.1" y="283.6" width="9.6" height="5.3" fill="#ececec" stroke="#2a2a2a" stroke-width="0.8"/>
<text x="507.2" y="287.8" font-size="4.4" textLength="7.5" lengthAdjust="spacingAndGlyphs" fill="#1a1a1a" font-weight="bold" stroke="#1a1a1a" stroke-width="0.1">R2305</text>
<rect x="518.2" y="278.3" width="9.6" height="5.3" fill="#ececec" stroke="#2a2a2a" stroke-width="0.8"/>
<text x="519.3" y="282.5" font-size="4.4" textLength="7.5" lengthAdjust="spacingAndGlyphs" fill="#1a1a1a" font-weight="bold" stroke="#1a1a1a" stroke-width="0.1">C2318</text>
<rect x="518.2" y="283.6" width="9.6" height="5.3" fill="#ececec" stroke="#2a2a2a" stroke-width="0.8"/>
<text x="519.3" y="287.8" font-size="4.4" textLength="7.5" lengthAdjust="spacingAndGlyphs" fill="#1a1a1a" font-weight="bold" stroke="#1a1a1a" stroke-width="0.1">R2412</text>
<rect x="565.1" y="268.1" width="5.7" height="9.6" fill="#ececec" stroke="#2a2a2a" stroke-width="0.8"/>
<text x="564.2" y="274.6" font-size="4.8" textLength="7.5" lengthAdjust="spacingAndGlyphs" fill="#1a1a1a" font-weight="bold" stroke="#1a1a1a" stroke-width="0.1" transform="rotate(-90 568.0 272.9)">C2507</text>
<rect x="581.6" y="268.1" width="5.6" height="9.6" fill="#ececec" stroke="#2a2a2a" stroke-width="0.8"/>
<text x="580.7" y="274.6" font-size="4.7" textLength="7.5" lengthAdjust="spacingAndGlyphs" fill="#1a1a1a" font-weight="bold" stroke="#1a1a1a" stroke-width="0.1" transform="rotate(-90 584.4 272.9)">R2088</text>
<rect x="566.7" y="278.9" width="12.9" height="10.0" fill="#fafafa" stroke="#333" stroke-width="0.75"/>
<text x="567.9" y="287.1" font-size="8.9" textLength="10.6" lengthAdjust="spacingAndGlyphs" fill="#444" font-weight="normal" stroke="#fff" stroke-width="0.14">Q2405</text>
<rect x="580.0" y="282.9" width="12.0" height="10.0" fill="#fafafa" stroke="#333" stroke-width="0.75"/>
<text x="581.1" y="291.1" font-size="8.9" textLength="9.8" lengthAdjust="spacingAndGlyphs" fill="#444" font-weight="normal" stroke="#fff" stroke-width="0.14">Q2404</text>
<rect x="596.5" y="280.9" width="5.6" height="10.0" fill="#ececec" stroke="#2a2a2a" stroke-width="0.8"/>
<text x="595.4" y="287.6" font-size="4.7" textLength="7.8" lengthAdjust="spacingAndGlyphs" fill="#1a1a1a" font-weight="bold" stroke="#1a1a1a" stroke-width="0.1" transform="rotate(-90 599.3 285.9)">C2433</text>
<rect x="562.7" y="292.5" width="11.7" height="6.9" fill="#fafafa" stroke="#333" stroke-width="0.75"/>
<text x="563.8" y="298.2" font-size="6.2" textLength="9.6" lengthAdjust="spacingAndGlyphs" fill="#444" font-weight="normal">C2402</text>
<rect x="574.4" y="293.4" width="9.6" height="5.2" fill="#ececec" stroke="#2a2a2a" stroke-width="0.8"/>
<text x="575.5" y="297.6" font-size="4.4" textLength="7.5" lengthAdjust="spacingAndGlyphs" fill="#1a1a1a" font-weight="bold" stroke="#1a1a1a" stroke-width="0.1">R2516</text>
<rect x="564.3" y="301.1" width="27.1" height="18.4" fill="#fff" stroke="#444" stroke-width="0.7"/>
<text x="565.9" y="316.9" font-size="18.5" textLength="23.8" lengthAdjust="spacingAndGlyphs" fill="#222" font-weight="normal" stroke="#fff" stroke-width="0.30">C2417</text>
<rect x="505.3" y="293.6" width="9.6" height="5.7" fill="#ececec" stroke="#2a2a2a" stroke-width="0.8"/>
<text x="506.4" y="298.2" font-size="4.8" textLength="7.5" lengthAdjust="spacingAndGlyphs" fill="#1a1a1a" font-weight="bold" stroke="#1a1a1a" stroke-width="0.1">C2809</text>
<rect x="521.2" y="290.6" width="5.4" height="10.5" fill="#ececec" stroke="#2a2a2a" stroke-width="0.8"/>
<text x="519.8" y="297.5" font-size="4.5" textLength="8.2" lengthAdjust="spacingAndGlyphs" fill="#1a1a1a" font-weight="bold" stroke="#1a1a1a" stroke-width="0.1" transform="rotate(-90 523.9 295.9)">R2305</text>
<rect x="490.4" y="299.5" width="10.5" height="5.2" fill="#ececec" stroke="#2a2a2a" stroke-width="0.8"/>
<text x="491.6" y="303.7" font-size="4.4" textLength="8.2" lengthAdjust="spacingAndGlyphs" fill="#1a1a1a" font-weight="bold" stroke="#1a1a1a" stroke-width="0.1">C2318</text>
<rect x="489.6" y="305.5" width="12.5" height="6.4" fill="#fafafa" stroke="#333" stroke-width="0.75"/>
<text x="490.7" y="310.7" font-size="5.7" textLength="10.2" lengthAdjust="spacingAndGlyphs" fill="#444" font-weight="normal">C2404</text>
<rect x="506.9" y="299.9" width="9.2" height="11.6" fill="#fafafa" stroke="#333" stroke-width="0.75"/>
<text x="507.1" y="308.5" font-size="7.7" textLength="8.7" lengthAdjust="spacingAndGlyphs" fill="#555" font-weight="normal" transform="rotate(-90 511.5 305.7)">2XX</text>
<rect x="516.9" y="301.5" width="9.7" height="5.2" fill="#ececec" stroke="#2a2a2a" stroke-width="0.8"/>
<text x="518.0" y="305.7" font-size="4.4" textLength="7.6" lengthAdjust="spacingAndGlyphs" fill="#1a1a1a" font-weight="bold" stroke="#1a1a1a" stroke-width="0.1">R2412</text>
<rect x="516.9" y="306.7" width="12.1" height="6.4" fill="#fafafa" stroke="#333" stroke-width="0.75"/>
<text x="518.0" y="311.9" font-size="5.7" textLength="9.9" lengthAdjust="spacingAndGlyphs" fill="#444" font-weight="normal">C2414</text>
<rect x="503.3" y="311.9" width="5.2" height="10.0" fill="#ececec" stroke="#2a2a2a" stroke-width="0.8"/>
<text x="502.0" y="318.5" font-size="4.4" textLength="7.8" lengthAdjust="spacingAndGlyphs" fill="#1a1a1a" font-weight="bold" stroke="#1a1a1a" stroke-width="0.1" transform="rotate(-90 505.9 316.9)">C2507</text>
<rect x="509.7" y="313.5" width="9.7" height="5.2" fill="#ececec" stroke="#2a2a2a" stroke-width="0.8"/>
<text x="510.8" y="317.7" font-size="4.4" textLength="7.6" lengthAdjust="spacingAndGlyphs" fill="#1a1a1a" font-weight="bold" stroke="#1a1a1a" stroke-width="0.1">R2088</text>
<rect x="519.4" y="313.5" width="9.6" height="5.2" fill="#ececec" stroke="#2a2a2a" stroke-width="0.8"/>
<text x="520.5" y="317.7" font-size="4.4" textLength="7.5" lengthAdjust="spacingAndGlyphs" fill="#1a1a1a" font-weight="bold" stroke="#1a1a1a" stroke-width="0.1">C2433</text>
<rect x="530.6" y="302.7" width="10.6" height="11.6" fill="#fafafa" stroke="#333" stroke-width="0.75"/>
<text x="531.1" y="311.9" font-size="9.5" textLength="9.5" lengthAdjust="spacingAndGlyphs" fill="#444" font-weight="normal" stroke="#fff" stroke-width="0.15" transform="rotate(-90 535.9 308.5)">2401</text>
<rect x="530.2" y="314.7" width="9.6" height="5.6" fill="#ececec" stroke="#2a2a2a" stroke-width="0.8"/>
<text x="531.3" y="319.2" font-size="4.7" textLength="7.5" lengthAdjust="spacingAndGlyphs" fill="#1a1a1a" font-weight="bold" stroke="#1a1a1a" stroke-width="0.1">R2516</text>
<rect x="538.2" y="297.0" width="9.7" height="5.7" fill="#ececec" stroke="#2a2a2a" stroke-width="0.8"/>
<text x="539.3" y="301.6" font-size="4.8" textLength="7.6" lengthAdjust="spacingAndGlyphs" fill="#1a1a1a" font-weight="bold" stroke="#1a1a1a" stroke-width="0.1">C2809</text>
<rect x="541.4" y="305.9" width="9.7" height="5.2" fill="#ececec" stroke="#2a2a2a" stroke-width="0.8"/>
<text x="542.5" y="310.1" font-size="4.4" textLength="7.6" lengthAdjust="spacingAndGlyphs" fill="#1a1a1a" font-weight="bold" stroke="#1a1a1a" stroke-width="0.1">R2305</text>
<rect x="551.5" y="307.5" width="5.6" height="10.0" fill="#ececec" stroke="#2a2a2a" stroke-width="0.8"/>
<text x="550.4" y="314.2" font-size="4.7" textLength="7.8" lengthAdjust="spacingAndGlyphs" fill="#1a1a1a" font-weight="bold" stroke="#1a1a1a" stroke-width="0.1" transform="rotate(-90 554.3 312.5)">C2318</text>
<rect x="595.3" y="301.9" width="5.6" height="9.6" fill="#ececec" stroke="#2a2a2a" stroke-width="0.8"/>
<text x="594.4" y="308.4" font-size="4.7" textLength="7.5" lengthAdjust="spacingAndGlyphs" fill="#1a1a1a" font-weight="bold" stroke="#1a1a1a" stroke-width="0.1" transform="rotate(-90 598.1 306.7)">R2412</text>
<rect x="600.9" y="295.0" width="10.8" height="12.1" fill="#fafafa" stroke="#333" stroke-width="0.75"/>
<text x="601.3" y="304.5" font-size="9.7" textLength="9.9" lengthAdjust="spacingAndGlyphs" fill="#444" font-weight="normal" stroke="#fff" stroke-width="0.15" transform="rotate(-90 606.3 301.1)">2407</text>
<rect x="629.4" y="315.1" width="10.2" height="6.0" fill="#ececec" stroke="#2a2a2a" stroke-width="0.8"/>
<text x="630.5" y="319.9" font-size="5.0" textLength="8.0" lengthAdjust="spacingAndGlyphs" fill="#1a1a1a" font-weight="bold" stroke="#1a1a1a" stroke-width="0.1">C2507</text>
<rect x="645.4" y="315.6" width="9.3" height="5.5" fill="#ececec" stroke="#2a2a2a" stroke-width="0.8"/>
<text x="646.4" y="320.0" font-size="4.6" textLength="7.3" lengthAdjust="spacingAndGlyphs" fill="#1a1a1a" font-weight="bold" stroke="#1a1a1a" stroke-width="0.1">R2088</text>
<rect x="671.6" y="295.7" width="5.3" height="9.5" fill="#ececec" stroke="#2a2a2a" stroke-width="0.8"/>
<text x="670.5" y="302.0" font-size="4.4" textLength="7.4" lengthAdjust="spacingAndGlyphs" fill="#1a1a1a" font-weight="bold" stroke="#1a1a1a" stroke-width="0.1" transform="rotate(-90 674.2 300.4)">C2433</text>
<rect x="671.6" y="305.2" width="5.3" height="9.4" fill="#ececec" stroke="#2a2a2a" stroke-width="0.8"/>
<text x="670.6" y="311.5" font-size="4.4" textLength="7.3" lengthAdjust="spacingAndGlyphs" fill="#1a1a1a" font-weight="bold" stroke="#1a1a1a" stroke-width="0.1" transform="rotate(-90 674.2 309.9)">R2516</text>
<rect x="698.2" y="281.2" width="5.2" height="9.7" fill="#ececec" stroke="#2a2a2a" stroke-width="0.8"/>
<text x="697.0" y="287.6" font-size="4.4" textLength="7.6" lengthAdjust="spacingAndGlyphs" fill="#1a1a1a" font-weight="bold" stroke="#1a1a1a" stroke-width="0.1" transform="rotate(-90 700.8 286.0)">C2809</text>
<rect x="703.8" y="278.4" width="5.6" height="12.5" fill="#fafafa" stroke="#333" stroke-width="0.75"/>
<text x="701.9" y="286.3" font-size="4.7" textLength="9.4" lengthAdjust="spacingAndGlyphs" fill="#555" font-weight="normal" transform="rotate(-90 706.6 284.6)">2XX</text>
<rect x="709.8" y="277.2" width="9.6" height="5.2" fill="#ececec" stroke="#2a2a2a" stroke-width="0.8"/>
<text x="710.9" y="281.4" font-size="4.4" textLength="7.5" lengthAdjust="spacingAndGlyphs" fill="#1a1a1a" font-weight="bold" stroke="#1a1a1a" stroke-width="0.1">R2305</text>
<rect x="721.0" y="278.4" width="5.7" height="12.5" fill="#fafafa" stroke="#333" stroke-width="0.75"/>
<text x="719.2" y="286.4" font-size="4.8" textLength="9.4" lengthAdjust="spacingAndGlyphs" fill="#555" font-weight="normal" transform="rotate(-90 723.9 284.6)">2XX</text>
<rect x="727.1" y="278.4" width="6.0" height="12.5" fill="#fafafa" stroke="#333" stroke-width="0.75"/>
<text x="725.4" y="286.4" font-size="5.0" textLength="9.4" lengthAdjust="spacingAndGlyphs" fill="#555" font-weight="normal" transform="rotate(-90 730.1 284.6)">2XX</text>
<rect x="734.3" y="281.2" width="5.6" height="9.7" fill="#ececec" stroke="#2a2a2a" stroke-width="0.8"/>
<text x="733.3" y="287.7" font-size="4.7" textLength="7.6" lengthAdjust="spacingAndGlyphs" fill="#1a1a1a" font-weight="bold" stroke="#1a1a1a" stroke-width="0.1" transform="rotate(-90 737.1 286.0)">C2318</text>
<rect x="740.7" y="281.2" width="5.6" height="9.7" fill="#ececec" stroke="#2a2a2a" stroke-width="0.8"/>
<text x="739.7" y="287.7" font-size="4.7" textLength="7.6" lengthAdjust="spacingAndGlyphs" fill="#1a1a1a" font-weight="bold" stroke="#1a1a1a" stroke-width="0.1" transform="rotate(-90 743.5 286.0)">R2412</text>
<rect x="701.4" y="291.7" width="33.3" height="32.9" fill="#fff" stroke="#444" stroke-width="0.8"/>
<text x="706.5" y="315.1" font-size="19.5" textLength="23.0" lengthAdjust="spacingAndGlyphs" fill="#3a3a3a" font-weight="normal" stroke="#fff" stroke-width="0.30" transform="rotate(-90 718.0 308.1)">U2600</text>
<text x="702.6" y="294.9" font-size="3.0" text-anchor="start" font-weight="bold" fill="#222">3</text>
<text x="733.5" y="294.9" font-size="3.0" text-anchor="end" font-weight="bold" fill="#222">19</text>
<text x="702.6" y="323.4" font-size="3.0" text-anchor="start" font-weight="bold" fill="#222">9</text>
<text x="733.5" y="323.4" font-size="3.0" text-anchor="end" font-weight="bold" fill="#222">13</text>
<text x="714.5" y="295.2" font-size="3.0" text-anchor="middle" font-weight="bold" font-family='"Liberation Sans", sans-serif' font-style="normal" fill="#111" stroke="#111" stroke-width="0.18">1</text>
<text x="721.0" y="295.2" font-size="3.0" text-anchor="middle" font-weight="bold" font-family='"Liberation Sans", sans-serif' font-style="normal" fill="#111" stroke="#111" stroke-width="0.18">20</text>
<text x="703.6" y="300.8" font-size="3.0" text-anchor="middle" font-weight="bold" font-family='"Liberation Sans", sans-serif' font-style="normal" fill="#111" stroke="#111" stroke-width="0.18">4</text>
<text x="732.0" y="300.8" font-size="3.0" text-anchor="middle" font-weight="bold" font-family='"Liberation Sans", sans-serif' font-style="normal" fill="#111" stroke="#111" stroke-width="0.18">18</text>
<text x="703.8" y="319.0" font-size="3.0" text-anchor="middle" font-weight="bold" font-family='"Liberation Sans", sans-serif' font-style="normal" fill="#111" stroke="#111" stroke-width="0.18">8</text>
<text x="731.8" y="319.0" font-size="3.0" text-anchor="middle" font-weight="bold" font-family='"Liberation Sans", sans-serif' font-style="normal" fill="#111" stroke="#111" stroke-width="0.18">14</text>
<rect x="748.0" y="290.9" width="18.4" height="26.9" fill="#fff" stroke="#444" stroke-width="0.7"/>
<text x="745.4" y="311.0" font-size="18.5" textLength="23.7" lengthAdjust="spacingAndGlyphs" fill="#3a3a3a" font-weight="normal" stroke="#fff" stroke-width="0.30" transform="rotate(-90 757.2 304.4)">C2701</text>
<rect x="684.5" y="302.5" width="10.0" height="5.7" fill="#ececec" stroke="#2a2a2a" stroke-width="0.8"/>
<text x="685.6" y="307.1" font-size="4.8" textLength="7.8" lengthAdjust="spacingAndGlyphs" fill="#1a1a1a" font-weight="bold" stroke="#1a1a1a" stroke-width="0.1">C2507</text>
<rect x="684.5" y="308.6" width="12.0" height="6.0" fill="#fafafa" stroke="#333" stroke-width="0.75"/>
<text x="685.6" y="313.5" font-size="5.4" textLength="9.8" lengthAdjust="spacingAndGlyphs" fill="#444" font-weight="normal">C2601</text>
<rect x="684.5" y="315.0" width="9.6" height="5.2" fill="#ececec" stroke="#2a2a2a" stroke-width="0.8"/>
<text x="685.6" y="319.2" font-size="4.4" textLength="7.5" lengthAdjust="spacingAndGlyphs" fill="#1a1a1a" font-weight="bold" stroke="#1a1a1a" stroke-width="0.1">R2088</text>
<rect x="742.7" y="318.2" width="11.3" height="9.6" fill="#fafafa" stroke="#333" stroke-width="0.75"/>
<text x="743.7" y="326.1" font-size="8.6" textLength="9.3" lengthAdjust="spacingAndGlyphs" fill="#444" font-weight="normal" stroke="#fff" stroke-width="0.14">L2600</text>
<rect x="727.5" y="325.4" width="12.4" height="6.0" fill="#fafafa" stroke="#333" stroke-width="0.75"/>
<text x="728.6" y="330.3" font-size="5.4" textLength="10.2" lengthAdjust="spacingAndGlyphs" fill="#444" font-weight="normal">C2621</text>
<rect x="702.6" y="329.8" width="5.6" height="10.1" fill="#ececec" stroke="#2a2a2a" stroke-width="0.8"/>
<text x="701.5" y="336.5" font-size="4.7" textLength="7.9" lengthAdjust="spacingAndGlyphs" fill="#1a1a1a" font-weight="bold" stroke="#1a1a1a" stroke-width="0.1" transform="rotate(-90 705.4 334.9)">C2433</text>
<rect x="708.6" y="327.0" width="7.2" height="12.5" fill="#fafafa" stroke="#333" stroke-width="0.75"/>
<text x="707.5" y="335.4" font-size="6.0" textLength="9.4" lengthAdjust="spacingAndGlyphs" fill="#555" font-weight="normal" transform="rotate(-90 712.2 333.2)">2XX</text>
<rect x="716.6" y="331.4" width="9.7" height="5.3" fill="#ececec" stroke="#2a2a2a" stroke-width="0.8"/>
<text x="717.7" y="335.6" font-size="4.4" textLength="7.6" lengthAdjust="spacingAndGlyphs" fill="#1a1a1a" font-weight="bold" stroke="#1a1a1a" stroke-width="0.1">R2516</text>
<rect x="749.2" y="332.2" width="10.0" height="13.7" fill="#fafafa" stroke="#333" stroke-width="0.75"/>
<text x="748.6" y="342.2" font-size="8.9" textLength="11.2" lengthAdjust="spacingAndGlyphs" fill="#444" font-weight="normal" stroke="#fff" stroke-width="0.14" transform="rotate(-90 754.2 339.0)">2804</text>
<rect x="750.4" y="345.9" width="7.2" height="12.5" fill="#ececec" stroke="#2a2a2a" stroke-width="0.8"/>
<text x="749.1" y="354.3" font-size="6.0" textLength="9.8" lengthAdjust="spacingAndGlyphs" fill="#1a1a1a" font-weight="bold" stroke="#1a1a1a" stroke-width="0.1" transform="rotate(-90 754.0 352.1)">C2809</text>
<rect x="757.6" y="345.9" width="10.0" height="14.5" fill="#fafafa" stroke="#333" stroke-width="0.75"/>
<text x="756.7" y="356.3" font-size="8.9" textLength="11.9" lengthAdjust="spacingAndGlyphs" fill="#444" font-weight="normal" stroke="#fff" stroke-width="0.14" transform="rotate(-90 762.6 353.1)">2805</text>
<rect x="618.5" y="358.7" width="28.1" height="13.6" fill="#fff" stroke="#444" stroke-width="0.7"/>
<text x="620.2" y="370.4" font-size="13.7" textLength="24.7" lengthAdjust="spacingAndGlyphs" fill="#222" font-weight="normal" stroke="#fff" stroke-width="0.22">C2708</text>
<rect x="623.3" y="373.1" width="19.7" height="30.5" fill="#fff" stroke="#444" stroke-width="0.7"/>
<text x="619.7" y="395.4" font-size="19.8" textLength="26.8" lengthAdjust="spacingAndGlyphs" fill="#3a3a3a" font-weight="normal" stroke="#fff" stroke-width="0.30" transform="rotate(-90 633.1 388.4)">U2702</text>
<rect x="645.8" y="373.1" width="5.6" height="12.5" fill="#fafafa" stroke="#333" stroke-width="0.75"/>
<text x="643.9" y="381.0" font-size="4.7" textLength="9.4" lengthAdjust="spacingAndGlyphs" fill="#555" font-weight="normal" transform="rotate(-90 648.6 379.4)">2XX</text>
<rect x="645.8" y="385.6" width="5.6" height="12.6" fill="#fafafa" stroke="#333" stroke-width="0.75"/>
<text x="643.9" y="393.6" font-size="4.7" textLength="9.4" lengthAdjust="spacingAndGlyphs" fill="#555" font-weight="normal" transform="rotate(-90 648.6 391.9)">2XX</text>
<rect x="651.4" y="356.2" width="5.6" height="12.1" fill="#ececec" stroke="#2a2a2a" stroke-width="0.8"/>
<text x="649.5" y="363.9" font-size="4.7" textLength="9.4" lengthAdjust="spacingAndGlyphs" fill="#1a1a1a" font-weight="bold" stroke="#1a1a1a" stroke-width="0.1" transform="rotate(-90 654.2 362.2)">R2305</text>
<rect x="657.4" y="356.6" width="24.9" height="20.9" fill="#fff" stroke="#444" stroke-width="0.8"/>
<text x="662.1" y="372.3" font-size="14.6" textLength="15.4" lengthAdjust="spacingAndGlyphs" fill="#222" font-weight="normal" stroke="#fff" stroke-width="0.23">U2801</text>
<text x="658.6" y="359.8" font-size="3.0" text-anchor="start" font-weight="bold" fill="#222">14</text>
<text x="681.1" y="359.8" font-size="3.0" text-anchor="end" font-weight="bold" fill="#222">8</text>
<text x="658.6" y="376.3" font-size="3.0" text-anchor="start" font-weight="bold" fill="#222">1</text>
<text x="681.1" y="376.3" font-size="3.0" text-anchor="end" font-weight="bold" fill="#222">7</text>
<rect x="683.1" y="357.0" width="6.5" height="12.9" fill="#fafafa" stroke="#333" stroke-width="0.75"/>
<text x="681.5" y="365.4" font-size="5.4" textLength="9.7" lengthAdjust="spacingAndGlyphs" fill="#555" font-weight="normal" transform="rotate(-90 686.4 363.4)">2XX</text>
<rect x="693.2" y="357.0" width="5.6" height="5.0" fill="#ececec" stroke="#2a2a2a" stroke-width="0.8"/>
<text x="693.8" y="361.0" font-size="4.2" textLength="4.4" lengthAdjust="spacingAndGlyphs" fill="#1a1a1a" font-weight="bold" stroke="#1a1a1a" stroke-width="0.1">C2318</text>
<rect x="698.8" y="357.0" width="5.6" height="5.0" fill="#ececec" stroke="#2a2a2a" stroke-width="0.8"/>
<text x="699.4" y="361.0" font-size="4.2" textLength="4.4" lengthAdjust="spacingAndGlyphs" fill="#1a1a1a" font-weight="bold" stroke="#1a1a1a" stroke-width="0.1">R2412</text>
<rect x="693.2" y="362.0" width="5.6" height="5.1" fill="#ececec" stroke="#2a2a2a" stroke-width="0.8"/>
<text x="693.8" y="366.1" font-size="4.3" textLength="4.4" lengthAdjust="spacingAndGlyphs" fill="#1a1a1a" font-weight="bold" stroke="#1a1a1a" stroke-width="0.1">C2507</text>
<rect x="698.8" y="362.0" width="5.6" height="5.1" fill="#ececec" stroke="#2a2a2a" stroke-width="0.8"/>
<text x="699.4" y="366.1" font-size="4.3" textLength="4.4" lengthAdjust="spacingAndGlyphs" fill="#1a1a1a" font-weight="bold" stroke="#1a1a1a" stroke-width="0.1">R2088</text>
<rect x="720.1" y="350.6" width="9.6" height="5.2" fill="#ececec" stroke="#2a2a2a" stroke-width="0.8"/>
<text x="721.2" y="354.8" font-size="4.4" textLength="7.5" lengthAdjust="spacingAndGlyphs" fill="#1a1a1a" font-weight="bold" stroke="#1a1a1a" stroke-width="0.1">C2433</text>
<rect x="710.8" y="356.6" width="9.7" height="5.3" fill="#ececec" stroke="#2a2a2a" stroke-width="0.8"/>
<text x="711.9" y="360.8" font-size="4.4" textLength="7.6" lengthAdjust="spacingAndGlyphs" fill="#1a1a1a" font-weight="bold" stroke="#1a1a1a" stroke-width="0.1">R2516</text>
<rect x="708.0" y="362.3" width="9.7" height="5.2" fill="#ececec" stroke="#2a2a2a" stroke-width="0.8"/>
<text x="709.1" y="366.5" font-size="4.4" textLength="7.6" lengthAdjust="spacingAndGlyphs" fill="#1a1a1a" font-weight="bold" stroke="#1a1a1a" stroke-width="0.1">C2809</text>
<rect x="724.1" y="362.3" width="5.6" height="9.6" fill="#ececec" stroke="#2a2a2a" stroke-width="0.8"/>
<text x="723.2" y="368.8" font-size="4.7" textLength="7.5" lengthAdjust="spacingAndGlyphs" fill="#1a1a1a" font-weight="bold" stroke="#1a1a1a" stroke-width="0.1" transform="rotate(-90 726.9 367.1)">R2305</text>
<rect x="687.6" y="371.5" width="35.3" height="30.9" fill="#fff" stroke="#444" stroke-width="0.8"/>
<text x="693.2" y="394.7" font-size="21.6" textLength="24.0" lengthAdjust="spacingAndGlyphs" fill="#222" font-weight="normal" stroke="#fff" stroke-width="0.30">U2800</text>
<text x="688.8" y="374.7" font-size="3.0" text-anchor="start" font-weight="bold" fill="#222">20</text>
<text x="721.7" y="374.7" font-size="3.0" text-anchor="end" font-weight="bold" fill="#222">11</text>
<text x="688.8" y="401.2" font-size="3.0" text-anchor="start" font-weight="bold" fill="#222">1</text>
<text x="721.7" y="401.2" font-size="3.0" text-anchor="end" font-weight="bold" fill="#222">10</text>
<rect x="722.9" y="377.1" width="9.6" height="5.7" fill="#ececec" stroke="#2a2a2a" stroke-width="0.8"/>
<text x="724.0" y="381.7" font-size="4.8" textLength="7.5" lengthAdjust="spacingAndGlyphs" fill="#1a1a1a" font-weight="bold" stroke="#1a1a1a" stroke-width="0.1">C2318</text>
<rect x="722.9" y="382.8" width="5.6" height="9.6" fill="#ececec" stroke="#2a2a2a" stroke-width="0.8"/>
<text x="722.0" y="389.3" font-size="4.7" textLength="7.5" lengthAdjust="spacingAndGlyphs" fill="#1a1a1a" font-weight="bold" stroke="#1a1a1a" stroke-width="0.1" transform="rotate(-90 725.7 387.6)">R2412</text>
<rect x="725.7" y="393.2" width="14.1" height="10.0" fill="#fafafa" stroke="#333" stroke-width="0.75"/>
<text x="727.0" y="401.4" font-size="8.9" textLength="11.6" lengthAdjust="spacingAndGlyphs" fill="#444" font-weight="normal" stroke="#fff" stroke-width="0.14">L2803</text>
<rect x="740.2" y="395.2" width="6.0" height="12.0" fill="#ececec" stroke="#2a2a2a" stroke-width="0.8"/>
<text x="738.5" y="403.0" font-size="5.0" textLength="9.4" lengthAdjust="spacingAndGlyphs" fill="#1a1a1a" font-weight="bold" stroke="#1a1a1a" stroke-width="0.1" transform="rotate(-90 743.2 401.2)">C2507</text>
<rect x="746.6" y="395.2" width="10.0" height="14.5" fill="#fafafa" stroke="#333" stroke-width="0.75"/>
<text x="745.7" y="405.6" font-size="8.9" textLength="11.9" lengthAdjust="spacingAndGlyphs" fill="#444" font-weight="normal" stroke="#fff" stroke-width="0.14" transform="rotate(-90 751.6 402.4)">2807</text>
<rect x="651.8" y="384.4" width="28.1" height="21.2" fill="#fff" stroke="#444" stroke-width="0.8"/>
<text x="656.3" y="400.5" font-size="15.4" textLength="19.1" lengthAdjust="spacingAndGlyphs" fill="#222" font-weight="normal" stroke="#fff" stroke-width="0.25">U2804</text>
<text x="653.0" y="387.6" font-size="3.0" text-anchor="start" font-weight="bold" fill="#222">15</text>
<text x="678.7" y="387.6" font-size="3.0" text-anchor="end" font-weight="bold" fill="#222">8</text>
<text x="653.0" y="404.4" font-size="3.0" text-anchor="start" font-weight="bold" fill="#222">1</text>
<text x="678.7" y="404.4" font-size="3.0" text-anchor="end" font-weight="bold" fill="#222">7</text>
<rect x="651.0" y="411.3" width="21.7" height="25.3" fill="#fff" stroke="#444" stroke-width="0.8"/>
<text x="654.0" y="428.8" font-size="13.6" textLength="15.7" lengthAdjust="spacingAndGlyphs" fill="#3a3a3a" font-weight="normal" stroke="#fff" stroke-width="0.22" transform="rotate(-90 661.9 424.0)">U2803</text>
<text x="652.2" y="414.5" font-size="3.0" text-anchor="start" font-weight="bold" fill="#222">8</text>
<text x="671.5" y="414.5" font-size="3.0" text-anchor="end" font-weight="bold" fill="#222">7</text>
<text x="652.2" y="435.4" font-size="3.0" text-anchor="start" font-weight="bold" fill="#222">14</text>
<text x="671.5" y="435.4" font-size="3.0" text-anchor="end" font-weight="bold" fill="#222">1</text>
<rect x="627.7" y="410.9" width="5.6" height="10.0" fill="#ececec" stroke="#2a2a2a" stroke-width="0.8"/>
<text x="626.6" y="417.6" font-size="4.7" textLength="7.8" lengthAdjust="spacingAndGlyphs" fill="#1a1a1a" font-weight="bold" stroke="#1a1a1a" stroke-width="0.1" transform="rotate(-90 630.5 415.9)">R2088</text>
<rect x="626.5" y="420.9" width="8.4" height="11.7" fill="#fafafa" stroke="#333" stroke-width="0.75"/>
<text x="625.9" y="429.4" font-size="7.5" textLength="9.6" lengthAdjust="spacingAndGlyphs" fill="#444" font-weight="normal" transform="rotate(-90 630.7 426.8)">2801</text>
<rect x="638.2" y="430.5" width="12.0" height="6.5" fill="#fafafa" stroke="#333" stroke-width="0.75"/>
<text x="639.3" y="435.8" font-size="5.8" textLength="9.8" lengthAdjust="spacingAndGlyphs" fill="#444" font-weight="normal">C2813</text>
<rect x="697.2" y="406.0" width="5.6" height="10.5" fill="#ececec" stroke="#2a2a2a" stroke-width="0.8"/>
<text x="695.9" y="412.9" font-size="4.7" textLength="8.2" lengthAdjust="spacingAndGlyphs" fill="#1a1a1a" font-weight="bold" stroke="#1a1a1a" stroke-width="0.1" transform="rotate(-90 700.0 411.2)">C2433</text>
<rect x="703.6" y="406.0" width="6.0" height="10.5" fill="#ececec" stroke="#2a2a2a" stroke-width="0.8"/>
<text x="702.5" y="413.1" font-size="5.0" textLength="8.2" lengthAdjust="spacingAndGlyphs" fill="#1a1a1a" font-weight="bold" stroke="#1a1a1a" stroke-width="0.1" transform="rotate(-90 706.6 411.2)">R2516</text>
<rect x="734.5" y="411.3" width="9.7" height="5.6" fill="#ececec" stroke="#2a2a2a" stroke-width="0.8"/>
<text x="735.6" y="415.8" font-size="4.7" textLength="7.6" lengthAdjust="spacingAndGlyphs" fill="#1a1a1a" font-weight="bold" stroke="#1a1a1a" stroke-width="0.1">C2809</text>
<rect x="745.0" y="414.5" width="9.6" height="5.2" fill="#ececec" stroke="#2a2a2a" stroke-width="0.8"/>
<text x="746.1" y="418.7" font-size="4.4" textLength="7.5" lengthAdjust="spacingAndGlyphs" fill="#1a1a1a" font-weight="bold" stroke="#1a1a1a" stroke-width="0.1">R2305</text>
<rect x="734.9" y="418.5" width="9.7" height="5.6" fill="#ececec" stroke="#2a2a2a" stroke-width="0.8"/>
<text x="736.0" y="423.0" font-size="4.7" textLength="7.6" lengthAdjust="spacingAndGlyphs" fill="#1a1a1a" font-weight="bold" stroke="#1a1a1a" stroke-width="0.1">C2318</text>
<rect x="690.0" y="420.1" width="6.8" height="12.5" fill="#ececec" stroke="#2a2a2a" stroke-width="0.8"/>
<text x="688.5" y="428.4" font-size="5.7" textLength="9.8" lengthAdjust="spacingAndGlyphs" fill="#1a1a1a" font-weight="bold" stroke="#1a1a1a" stroke-width="0.1" transform="rotate(-90 693.4 426.4)">R2412</text>
<rect x="697.3" y="427.7" width="25.1" height="21.6" fill="#fff" stroke="#444" stroke-width="0.8"/>
<text x="702.1" y="443.9" font-size="15.1" textLength="15.6" lengthAdjust="spacingAndGlyphs" fill="#222" font-weight="normal" stroke="#fff" stroke-width="0.24">U2802</text>
<text x="698.5" y="430.9" font-size="3.0" text-anchor="start" font-weight="bold" fill="#222">14</text>
<text x="721.2" y="430.9" font-size="3.0" text-anchor="end" font-weight="bold" fill="#222">8</text>
<text x="698.5" y="448.1" font-size="3.0" text-anchor="start" font-weight="bold" fill="#222">1</text>
<text x="721.2" y="448.1" font-size="3.0" text-anchor="end" font-weight="bold" fill="#222">7</text>
<rect x="722.5" y="427.3" width="9.6" height="5.3" fill="#ececec" stroke="#2a2a2a" stroke-width="0.8"/>
<text x="723.6" y="431.5" font-size="4.4" textLength="7.5" lengthAdjust="spacingAndGlyphs" fill="#1a1a1a" font-weight="bold" stroke="#1a1a1a" stroke-width="0.1">C2507</text>
<rect x="741.4" y="426.9" width="9.6" height="5.7" fill="#ececec" stroke="#2a2a2a" stroke-width="0.8"/>
<text x="742.5" y="431.5" font-size="4.8" textLength="7.5" lengthAdjust="spacingAndGlyphs" fill="#1a1a1a" font-weight="bold" stroke="#1a1a1a" stroke-width="0.1">R2088</text>
<rect x="683.9" y="436.2" width="9.7" height="5.4" fill="#ececec" stroke="#2a2a2a" stroke-width="0.8"/>
<text x="685.0" y="440.5" font-size="4.5" textLength="7.6" lengthAdjust="spacingAndGlyphs" fill="#1a1a1a" font-weight="bold" stroke="#1a1a1a" stroke-width="0.1">C2433</text>
<rect x="685.9" y="442.6" width="9.7" height="5.2" fill="#ececec" stroke="#2a2a2a" stroke-width="0.8"/>
<text x="687.0" y="446.8" font-size="4.4" textLength="7.6" lengthAdjust="spacingAndGlyphs" fill="#1a1a1a" font-weight="bold" stroke="#1a1a1a" stroke-width="0.1">R2516</text>
<rect x="674.9" y="444.9" width="6.5" height="12.1" fill="#ececec" stroke="#2a2a2a" stroke-width="0.8"/>
<text x="673.4" y="452.9" font-size="5.4" textLength="9.4" lengthAdjust="spacingAndGlyphs" fill="#1a1a1a" font-weight="bold" stroke="#1a1a1a" stroke-width="0.1" transform="rotate(-90 678.1 450.9)">C2809</text>
<rect x="726.2" y="438.4" width="10.1" height="5.6" fill="#ececec" stroke="#2a2a2a" stroke-width="0.8"/>
<text x="727.3" y="442.9" font-size="4.7" textLength="7.9" lengthAdjust="spacingAndGlyphs" fill="#1a1a1a" font-weight="bold" stroke="#1a1a1a" stroke-width="0.1">R2305</text>
<rect x="743.5" y="437.8" width="10.1" height="5.6" fill="#ececec" stroke="#2a2a2a" stroke-width="0.8"/>
<text x="744.6" y="442.3" font-size="4.7" textLength="7.9" lengthAdjust="spacingAndGlyphs" fill="#1a1a1a" font-weight="bold" stroke="#1a1a1a" stroke-width="0.1">C2318</text>
<rect x="756.5" y="431.3" width="6.0" height="10.0" fill="#ececec" stroke="#2a2a2a" stroke-width="0.8"/>
<text x="755.6" y="438.1" font-size="5.0" textLength="7.8" lengthAdjust="spacingAndGlyphs" fill="#1a1a1a" font-weight="bold" stroke="#1a1a1a" stroke-width="0.1" transform="rotate(-90 759.5 436.3)">R2412</text>
<rect x="750.4" y="445.7" width="10.1" height="5.6" fill="#ececec" stroke="#2a2a2a" stroke-width="0.8"/>
<text x="751.5" y="450.2" font-size="4.7" textLength="7.9" lengthAdjust="spacingAndGlyphs" fill="#1a1a1a" font-weight="bold" stroke="#1a1a1a" stroke-width="0.1">C2507</text>
<rect x="676.5" y="457.4" width="24.3" height="22.1" fill="#fff" stroke="#444" stroke-width="0.8"/>
<text x="681.1" y="474.0" font-size="15.4" textLength="15.1" lengthAdjust="spacingAndGlyphs" fill="#222" font-weight="normal" stroke="#fff" stroke-width="0.25">U2503</text>
<text x="677.7" y="460.6" font-size="3.0" text-anchor="start" font-weight="bold" fill="#222">14</text>
<text x="699.6" y="460.6" font-size="3.0" text-anchor="end" font-weight="bold" fill="#222">8</text>
<text x="677.7" y="478.3" font-size="3.0" text-anchor="start" font-weight="bold" fill="#222">1</text>
<text x="699.6" y="478.3" font-size="3.0" text-anchor="end" font-weight="bold" fill="#222">7</text>
<rect x="661.7" y="467.4" width="10.0" height="5.6" fill="#ececec" stroke="#2a2a2a" stroke-width="0.8"/>
<text x="662.8" y="471.9" font-size="4.7" textLength="7.8" lengthAdjust="spacingAndGlyphs" fill="#1a1a1a" font-weight="bold" stroke="#1a1a1a" stroke-width="0.1">R2088</text>
<rect x="706.3" y="467.0" width="5.6" height="9.7" fill="#ececec" stroke="#2a2a2a" stroke-width="0.8"/>
<text x="705.3" y="473.5" font-size="4.7" textLength="7.6" lengthAdjust="spacingAndGlyphs" fill="#1a1a1a" font-weight="bold" stroke="#1a1a1a" stroke-width="0.1" transform="rotate(-90 709.1 471.9)">C2433</text>
<rect x="711.9" y="467.0" width="5.6" height="9.7" fill="#ececec" stroke="#2a2a2a" stroke-width="0.8"/>
<text x="710.9" y="473.5" font-size="4.7" textLength="7.6" lengthAdjust="spacingAndGlyphs" fill="#1a1a1a" font-weight="bold" stroke="#1a1a1a" stroke-width="0.1" transform="rotate(-90 714.7 471.9)">R2516</text>
<rect x="717.9" y="470.2" width="5.6" height="9.7" fill="#ececec" stroke="#2a2a2a" stroke-width="0.8"/>
<text x="716.9" y="476.7" font-size="4.7" textLength="7.6" lengthAdjust="spacingAndGlyphs" fill="#1a1a1a" font-weight="bold" stroke="#1a1a1a" stroke-width="0.1" transform="rotate(-90 720.7 475.0)">C2809</text>
<rect x="731.2" y="462.2" width="9.6" height="5.6" fill="#ececec" stroke="#2a2a2a" stroke-width="0.8"/>
<text x="732.3" y="466.7" font-size="4.7" textLength="7.5" lengthAdjust="spacingAndGlyphs" fill="#1a1a1a" font-weight="bold" stroke="#1a1a1a" stroke-width="0.1">R2305</text>
<rect x="749.2" y="455.8" width="9.7" height="5.6" fill="#ececec" stroke="#2a2a2a" stroke-width="0.8"/>
<text x="750.3" y="460.3" font-size="4.7" textLength="7.6" lengthAdjust="spacingAndGlyphs" fill="#1a1a1a" font-weight="bold" stroke="#1a1a1a" stroke-width="0.1">C2318</text>
<rect x="749.2" y="462.2" width="9.7" height="5.6" fill="#ececec" stroke="#2a2a2a" stroke-width="0.8"/>
<text x="750.3" y="466.7" font-size="4.7" textLength="7.6" lengthAdjust="spacingAndGlyphs" fill="#1a1a1a" font-weight="bold" stroke="#1a1a1a" stroke-width="0.1">R2412</text>
<rect x="734.4" y="474.6" width="9.6" height="5.7" fill="#ececec" stroke="#2a2a2a" stroke-width="0.8"/>
<text x="735.5" y="479.2" font-size="4.8" textLength="7.5" lengthAdjust="spacingAndGlyphs" fill="#1a1a1a" font-weight="bold" stroke="#1a1a1a" stroke-width="0.1">C2507</text>
<rect x="749.2" y="474.6" width="9.7" height="5.7" fill="#ececec" stroke="#2a2a2a" stroke-width="0.8"/>
<text x="750.3" y="479.2" font-size="4.8" textLength="7.6" lengthAdjust="spacingAndGlyphs" fill="#1a1a1a" font-weight="bold" stroke="#1a1a1a" stroke-width="0.1">R2088</text>
<rect x="436.4" y="360.2" width="5.2" height="9.7" fill="#ececec" stroke="#2a2a2a" stroke-width="0.8"/>
<text x="435.2" y="366.6" font-size="4.4" textLength="7.6" lengthAdjust="spacingAndGlyphs" fill="#1a1a1a" font-weight="bold" stroke="#1a1a1a" stroke-width="0.1" transform="rotate(-90 439.0 365.0)">C2433</text>
<rect x="442.0" y="359.4" width="11.7" height="10.1" fill="#fafafa" stroke="#333" stroke-width="0.75"/>
<text x="443.1" y="367.7" font-size="9.0" textLength="9.6" lengthAdjust="spacingAndGlyphs" fill="#444" font-weight="normal" stroke="#fff" stroke-width="0.14">Q2501</text>
<rect x="459.7" y="363.5" width="9.6" height="5.2" fill="#ececec" stroke="#2a2a2a" stroke-width="0.8"/>
<text x="460.8" y="367.7" font-size="4.4" textLength="7.5" lengthAdjust="spacingAndGlyphs" fill="#1a1a1a" font-weight="bold" stroke="#1a1a1a" stroke-width="0.1">R2516</text>
<rect x="436.4" y="370.3" width="5.2" height="9.6" fill="#ececec" stroke="#2a2a2a" stroke-width="0.8"/>
<text x="435.3" y="376.7" font-size="4.4" textLength="7.5" lengthAdjust="spacingAndGlyphs" fill="#1a1a1a" font-weight="bold" stroke="#1a1a1a" stroke-width="0.1" transform="rotate(-90 439.0 375.1)">C2809</text>
<rect x="442.0" y="370.3" width="9.5" height="5.0" fill="#ececec" stroke="#2a2a2a" stroke-width="0.8"/>
<text x="443.0" y="374.3" font-size="4.2" textLength="7.4" lengthAdjust="spacingAndGlyphs" fill="#1a1a1a" font-weight="bold" stroke="#1a1a1a" stroke-width="0.1">R2305</text>
<rect x="442.0" y="375.3" width="9.5" height="5.0" fill="#ececec" stroke="#2a2a2a" stroke-width="0.8"/>
<text x="443.0" y="379.3" font-size="4.2" textLength="7.4" lengthAdjust="spacingAndGlyphs" fill="#1a1a1a" font-weight="bold" stroke="#1a1a1a" stroke-width="0.1">C2318</text>
<rect x="451.5" y="370.3" width="5.0" height="10.0" fill="#ececec" stroke="#2a2a2a" stroke-width="0.8"/>
<text x="450.1" y="376.8" font-size="4.2" textLength="7.8" lengthAdjust="spacingAndGlyphs" fill="#1a1a1a" font-weight="bold" stroke="#1a1a1a" stroke-width="0.1" transform="rotate(-90 454.0 375.3)">R2412</text>
<rect x="479.6" y="370.3" width="10.0" height="5.6" fill="#ececec" stroke="#2a2a2a" stroke-width="0.8"/>
<text x="480.7" y="374.8" font-size="4.7" textLength="7.8" lengthAdjust="spacingAndGlyphs" fill="#1a1a1a" font-weight="bold" stroke="#1a1a1a" stroke-width="0.1">C2507</text>
<rect x="490.2" y="369.3" width="9.8" height="5.4" fill="#ececec" stroke="#2a2a2a" stroke-width="0.8"/>
<text x="491.3" y="373.6" font-size="4.5" textLength="7.6" lengthAdjust="spacingAndGlyphs" fill="#1a1a1a" font-weight="bold" stroke="#1a1a1a" stroke-width="0.1">R2088</text>
<rect x="500.5" y="364.1" width="8.8" height="10.1" fill="#fafafa" stroke="#333" stroke-width="0.75"/>
<text x="501.1" y="371.8" font-size="7.4" textLength="7.6" lengthAdjust="spacingAndGlyphs" fill="#555" font-weight="normal" transform="rotate(-90 504.9 369.1)">2XX</text>
<rect x="509.7" y="364.1" width="5.6" height="9.3" fill="#ececec" stroke="#2a2a2a" stroke-width="0.8"/>
<text x="508.9" y="370.4" font-size="4.7" textLength="7.3" lengthAdjust="spacingAndGlyphs" fill="#1a1a1a" font-weight="bold" stroke="#1a1a1a" stroke-width="0.1" transform="rotate(-90 512.5 368.8)">C2433</text>
<rect x="515.7" y="364.1" width="5.7" height="9.3" fill="#ececec" stroke="#2a2a2a" stroke-width="0.8"/>
<text x="514.9" y="370.5" font-size="4.8" textLength="7.3" lengthAdjust="spacingAndGlyphs" fill="#1a1a1a" font-weight="bold" stroke="#1a1a1a" stroke-width="0.1" transform="rotate(-90 518.5 368.8)">R2516</text>
<rect x="521.8" y="364.1" width="5.4" height="9.3" fill="#ececec" stroke="#2a2a2a" stroke-width="0.8"/>
<text x="520.9" y="370.4" font-size="4.5" textLength="7.3" lengthAdjust="spacingAndGlyphs" fill="#1a1a1a" font-weight="bold" stroke="#1a1a1a" stroke-width="0.1" transform="rotate(-90 524.5 368.8)">C2809</text>
<rect x="527.2" y="364.1" width="5.4" height="9.3" fill="#ececec" stroke="#2a2a2a" stroke-width="0.8"/>
<text x="526.3" y="370.4" font-size="4.5" textLength="7.3" lengthAdjust="spacingAndGlyphs" fill="#1a1a1a" font-weight="bold" stroke="#1a1a1a" stroke-width="0.1" transform="rotate(-90 529.9 368.8)">R2305</text>
<rect x="531.4" y="374.6" width="12.1" height="5.6" fill="#ececec" stroke="#2a2a2a" stroke-width="0.8"/>
<text x="532.7" y="379.1" font-size="4.7" textLength="9.4" lengthAdjust="spacingAndGlyphs" fill="#1a1a1a" font-weight="bold" stroke="#1a1a1a" stroke-width="0.1">C2318</text>
<rect x="543.9" y="374.6" width="12.0" height="5.6" fill="#ececec" stroke="#2a2a2a" stroke-width="0.8"/>
<text x="545.2" y="379.1" font-size="4.7" textLength="9.4" lengthAdjust="spacingAndGlyphs" fill="#1a1a1a" font-weight="bold" stroke="#1a1a1a" stroke-width="0.1">R2412</text>
<rect x="555.9" y="358.3" width="26.9" height="18.7" fill="#fff" stroke="#444" stroke-width="0.7"/>
<text x="557.5" y="374.4" font-size="18.8" textLength="23.7" lengthAdjust="spacingAndGlyphs" fill="#222" font-weight="normal" stroke="#fff" stroke-width="0.30">C2522</text>
<rect x="588.4" y="364.9" width="13.3" height="6.4" fill="#fafafa" stroke="#333" stroke-width="0.75" rx="1.5"/>
<text x="589.6" y="370.1" font-size="5.7" textLength="10.9" lengthAdjust="spacingAndGlyphs" fill="#444" font-weight="normal">C2516</text>
<rect x="584.3" y="373.4" width="21.6" height="24.1" fill="#fff" stroke="#444" stroke-width="0.8"/>
<text x="587.6" y="390.3" font-size="13.6" textLength="14.9" lengthAdjust="spacingAndGlyphs" fill="#3a3a3a" font-weight="normal" stroke="#fff" stroke-width="0.22" transform="rotate(-90 595.1 385.4)">U2505</text>
<text x="585.5" y="376.6" font-size="3.0" text-anchor="start" font-weight="bold" fill="#222">1</text>
<text x="604.7" y="376.6" font-size="3.0" text-anchor="end" font-weight="bold" fill="#222">14</text>
<text x="585.5" y="396.3" font-size="3.0" text-anchor="start" font-weight="bold" fill="#222">7</text>
<text x="604.7" y="396.3" font-size="3.0" text-anchor="end" font-weight="bold" fill="#222">8</text>
<rect x="445.1" y="385.0" width="10.4" height="5.7" fill="#ececec" stroke="#2a2a2a" stroke-width="0.8"/>
<text x="446.2" y="389.6" font-size="4.8" textLength="8.1" lengthAdjust="spacingAndGlyphs" fill="#1a1a1a" font-weight="bold" stroke="#1a1a1a" stroke-width="0.1">C2507</text>
<rect x="463.6" y="383.8" width="6.0" height="8.0" fill="#ececec" stroke="#2a2a2a" stroke-width="0.8"/>
<text x="463.5" y="389.6" font-size="5.0" textLength="6.2" lengthAdjust="spacingAndGlyphs" fill="#1a1a1a" font-weight="bold" stroke="#1a1a1a" stroke-width="0.1" transform="rotate(-90 466.6 387.8)">R2088</text>
<rect x="463.6" y="391.8" width="6.0" height="8.1" fill="#ececec" stroke="#2a2a2a" stroke-width="0.8"/>
<text x="463.4" y="397.7" font-size="5.0" textLength="6.3" lengthAdjust="spacingAndGlyphs" fill="#1a1a1a" font-weight="bold" stroke="#1a1a1a" stroke-width="0.1" transform="rotate(-90 466.6 395.9)">C2433</text>
<rect x="446.7" y="394.3" width="10.0" height="5.6" fill="#ececec" stroke="#2a2a2a" stroke-width="0.8"/>
<text x="447.8" y="398.8" font-size="4.7" textLength="7.8" lengthAdjust="spacingAndGlyphs" fill="#1a1a1a" font-weight="bold" stroke="#1a1a1a" stroke-width="0.1">R2516</text>
<rect x="442.3" y="400.7" width="18.4" height="25.7" fill="#fff" stroke="#444" stroke-width="0.7"/>
<text x="440.2" y="420.2" font-size="18.5" textLength="22.6" lengthAdjust="spacingAndGlyphs" fill="#3a3a3a" font-weight="normal" stroke="#fff" stroke-width="0.30" transform="rotate(-90 451.5 413.5)">C2520</text>
<rect x="460.7" y="401.1" width="9.7" height="5.6" fill="#ececec" stroke="#2a2a2a" stroke-width="0.8"/>
<text x="461.8" y="405.6" font-size="4.7" textLength="7.6" lengthAdjust="spacingAndGlyphs" fill="#1a1a1a" font-weight="bold" stroke="#1a1a1a" stroke-width="0.1">C2809</text>
<rect x="460.7" y="407.1" width="4.5" height="10.5" fill="#fff" stroke="#444" stroke-width="0.6"/>
<rect x="465.2" y="407.1" width="5.2" height="10.5" fill="#ececec" stroke="#2a2a2a" stroke-width="0.8"/>
<text x="463.7" y="413.9" font-size="4.4" textLength="8.2" lengthAdjust="spacingAndGlyphs" fill="#1a1a1a" font-weight="bold" stroke="#1a1a1a" stroke-width="0.1" transform="rotate(-90 467.8 412.4)">R2305</text>
<rect x="461.1" y="418.0" width="9.3" height="5.2" fill="#ececec" stroke="#2a2a2a" stroke-width="0.8"/>
<text x="462.1" y="422.2" font-size="4.4" textLength="7.3" lengthAdjust="spacingAndGlyphs" fill="#1a1a1a" font-weight="bold" stroke="#1a1a1a" stroke-width="0.1">C2318</text>
<rect x="452.3" y="427.6" width="5.6" height="9.2" fill="#ececec" stroke="#2a2a2a" stroke-width="0.8"/>
<text x="451.5" y="433.9" font-size="4.7" textLength="7.2" lengthAdjust="spacingAndGlyphs" fill="#1a1a1a" font-weight="bold" stroke="#1a1a1a" stroke-width="0.1" transform="rotate(-90 455.1 432.2)">R2412</text>
<rect x="458.3" y="427.6" width="5.3" height="9.2" fill="#ececec" stroke="#2a2a2a" stroke-width="0.8"/>
<text x="457.4" y="433.8" font-size="4.4" textLength="7.2" lengthAdjust="spacingAndGlyphs" fill="#1a1a1a" font-weight="bold" stroke="#1a1a1a" stroke-width="0.1" transform="rotate(-90 461.0 432.2)">C2507</text>
<rect x="464.0" y="427.6" width="5.2" height="9.2" fill="#ececec" stroke="#2a2a2a" stroke-width="0.8"/>
<text x="463.0" y="433.8" font-size="4.4" textLength="7.2" lengthAdjust="spacingAndGlyphs" fill="#1a1a1a" font-weight="bold" stroke="#1a1a1a" stroke-width="0.1" transform="rotate(-90 466.6 432.2)">R2088</text>
<rect x="441.1" y="440.1" width="9.6" height="5.2" fill="#ececec" stroke="#2a2a2a" stroke-width="0.8"/>
<text x="442.2" y="444.3" font-size="4.4" textLength="7.5" lengthAdjust="spacingAndGlyphs" fill="#1a1a1a" font-weight="bold" stroke="#1a1a1a" stroke-width="0.1">C2433</text>
<rect x="456.3" y="441.7" width="11.7" height="8.4" fill="#fafafa" stroke="#333" stroke-width="0.75" rx="1.5"/>
<text x="457.4" y="448.6" font-size="7.5" textLength="9.6" lengthAdjust="spacingAndGlyphs" fill="#444" font-weight="normal">L2501</text>
<path d="M482.4,387.4H518.6L520.6,389.4V425.6L518.6,427.6H482.4L480.4,425.6V389.4Z" fill="#fff" stroke="#444" stroke-width="0.8"/>
<text x="485.6" y="415.5" font-size="22.5" textLength="29.7" lengthAdjust="spacingAndGlyphs" fill="#3a3a3a" font-weight="normal" stroke="#fff" stroke-width="0.30" transform="rotate(-90 500.5 407.5)">U2500</text>
<text x="486.5" y="392.6" font-size="3.0" text-anchor="middle" font-weight="bold" font-family='"Liberation Sans", sans-serif' font-style="normal" fill="#111" stroke="#111" stroke-width="0.18">13</text>
<text x="516.3" y="392.6" font-size="3.0" text-anchor="middle" font-weight="bold" font-family='"Liberation Sans", sans-serif' font-style="normal" fill="#111" stroke="#111" stroke-width="0.18">1</text>
<text x="483.6" y="398.6" font-size="3.0" text-anchor="middle" font-weight="bold" font-family='"Liberation Sans", sans-serif' font-style="normal" fill="#111" stroke="#111" stroke-width="0.18">14</text>
<text x="517.8" y="399.4" font-size="3.0" text-anchor="middle" font-weight="bold" font-family='"Liberation Sans", sans-serif' font-style="normal" fill="#111" stroke="#111" stroke-width="0.18">52</text>
<text x="483.6" y="422.0" font-size="3.0" text-anchor="middle" font-weight="bold" font-family='"Liberation Sans", sans-serif' font-style="normal" fill="#111" stroke="#111" stroke-width="0.18">26</text>
<text x="517.6" y="421.0" font-size="3.0" text-anchor="middle" font-weight="bold" font-family='"Liberation Sans", sans-serif' font-style="normal" fill="#111" stroke="#111" stroke-width="0.18">40</text>
<text x="487.6" y="426.3" font-size="3.0" text-anchor="middle" font-weight="bold" font-family='"Liberation Sans", sans-serif' font-style="normal" fill="#111" stroke="#111" stroke-width="0.18">27</text>
<text x="514.4" y="426.3" font-size="3.0" text-anchor="middle" font-weight="bold" font-family='"Liberation Sans", sans-serif' font-style="normal" fill="#111" stroke="#111" stroke-width="0.18">39</text>
<rect x="473.2" y="438.5" width="5.6" height="9.2" fill="#ececec" stroke="#2a2a2a" stroke-width="0.8"/>
<text x="472.4" y="444.8" font-size="4.7" textLength="7.2" lengthAdjust="spacingAndGlyphs" fill="#1a1a1a" font-weight="bold" stroke="#1a1a1a" stroke-width="0.1" transform="rotate(-90 476.0 443.1)">R2516</text>
<rect x="479.2" y="442.1" width="12.1" height="5.6" fill="#fafafa" stroke="#333" stroke-width="0.75"/>
<text x="480.3" y="446.7" font-size="5.0" textLength="9.9" lengthAdjust="spacingAndGlyphs" fill="#444" font-weight="normal">C2503</text>
<rect x="493.3" y="441.7" width="9.6" height="5.6" fill="#ececec" stroke="#2a2a2a" stroke-width="0.8"/>
<text x="494.4" y="446.2" font-size="4.7" textLength="7.5" lengthAdjust="spacingAndGlyphs" fill="#1a1a1a" font-weight="bold" stroke="#1a1a1a" stroke-width="0.1">C2809</text>
<rect x="472.4" y="448.5" width="26.1" height="14.5" fill="#fff" stroke="#444" stroke-width="0.7"/>
<text x="474.0" y="461.0" font-size="14.6" textLength="23.0" lengthAdjust="spacingAndGlyphs" fill="#222" font-weight="normal" stroke="#fff" stroke-width="0.23">M2501</text>
<rect x="503.3" y="448.5" width="26.1" height="14.5" fill="#fff" stroke="#444" stroke-width="0.7"/>
<text x="504.9" y="461.0" font-size="14.6" textLength="23.0" lengthAdjust="spacingAndGlyphs" fill="#222" font-weight="normal" stroke="#fff" stroke-width="0.23">M2502</text>
<rect x="507.7" y="438.5" width="5.7" height="9.6" fill="#ececec" stroke="#2a2a2a" stroke-width="0.8"/>
<text x="506.8" y="445.0" font-size="4.8" textLength="7.5" lengthAdjust="spacingAndGlyphs" fill="#1a1a1a" font-weight="bold" stroke="#1a1a1a" stroke-width="0.1" transform="rotate(-90 510.5 443.3)">R2305</text>
<rect x="517.4" y="438.5" width="5.6" height="9.6" fill="#ececec" stroke="#2a2a2a" stroke-width="0.8"/>
<text x="516.5" y="445.0" font-size="4.7" textLength="7.5" lengthAdjust="spacingAndGlyphs" fill="#1a1a1a" font-weight="bold" stroke="#1a1a1a" stroke-width="0.1" transform="rotate(-90 520.2 443.3)">C2318</text>
<rect x="547.1" y="394.7" width="25.7" height="10.8" fill="#fff" stroke="#444" stroke-width="0.7"/>
<text x="548.6" y="404.0" font-size="10.9" textLength="22.6" lengthAdjust="spacingAndGlyphs" fill="#222" font-weight="normal" stroke="#fff" stroke-width="0.17">C2515</text>
<rect x="557.5" y="389.1" width="9.7" height="5.2" fill="#ececec" stroke="#2a2a2a" stroke-width="0.8"/>
<text x="558.6" y="393.3" font-size="4.4" textLength="7.6" lengthAdjust="spacingAndGlyphs" fill="#1a1a1a" font-weight="bold" stroke="#1a1a1a" stroke-width="0.1">R2412</text>
<rect x="537.9" y="394.3" width="9.2" height="5.2" fill="#ececec" stroke="#2a2a2a" stroke-width="0.8"/>
<text x="538.9" y="398.5" font-size="4.4" textLength="7.2" lengthAdjust="spacingAndGlyphs" fill="#1a1a1a" font-weight="bold" stroke="#1a1a1a" stroke-width="0.1">C2507</text>
<rect x="530.6" y="399.9" width="12.1" height="6.0" fill="#ececec" stroke="#2a2a2a" stroke-width="0.8"/>
<text x="531.9" y="404.7" font-size="5.0" textLength="9.4" lengthAdjust="spacingAndGlyphs" fill="#1a1a1a" font-weight="bold" stroke="#1a1a1a" stroke-width="0.1">R2088</text>
<rect x="530.6" y="411.1" width="11.3" height="6.1" fill="#ececec" stroke="#2a2a2a" stroke-width="0.8"/>
<text x="531.8" y="416.0" font-size="5.1" textLength="8.8" lengthAdjust="spacingAndGlyphs" fill="#1a1a1a" font-weight="bold" stroke="#1a1a1a" stroke-width="0.1">C2433</text>
<rect x="542.3" y="406.7" width="5.2" height="10.1" fill="#ececec" stroke="#2a2a2a" stroke-width="0.8"/>
<text x="541.0" y="413.3" font-size="4.4" textLength="7.9" lengthAdjust="spacingAndGlyphs" fill="#1a1a1a" font-weight="bold" stroke="#1a1a1a" stroke-width="0.1" transform="rotate(-90 544.9 411.8)">R2516</text>
<rect x="547.9" y="406.7" width="5.2" height="10.1" fill="#ececec" stroke="#2a2a2a" stroke-width="0.8"/>
<text x="546.6" y="413.3" font-size="4.4" textLength="7.9" lengthAdjust="spacingAndGlyphs" fill="#1a1a1a" font-weight="bold" stroke="#1a1a1a" stroke-width="0.1" transform="rotate(-90 550.5 411.8)">C2809</text>
<rect x="553.5" y="406.3" width="9.3" height="11.3" fill="#fafafa" stroke="#333" stroke-width="0.75"/>
<text x="553.5" y="414.9" font-size="8.3" textLength="9.3" lengthAdjust="spacingAndGlyphs" fill="#444" font-weight="normal" stroke="#fff" stroke-width="0.13" transform="rotate(-90 558.1 412.0)">2511</text>
<rect x="563.6" y="406.3" width="7.2" height="10.5" fill="#fafafa" stroke="#333" stroke-width="0.75"/>
<text x="562.9" y="413.9" font-size="6.4" textLength="8.6" lengthAdjust="spacingAndGlyphs" fill="#444" font-weight="normal" transform="rotate(-90 567.2 411.6)">2512</text>
<rect x="572.6" y="408.7" width="5.6" height="9.3" fill="#ececec" stroke="#2a2a2a" stroke-width="0.8"/>
<text x="571.8" y="415.0" font-size="4.7" textLength="7.3" lengthAdjust="spacingAndGlyphs" fill="#1a1a1a" font-weight="bold" stroke="#1a1a1a" stroke-width="0.1" transform="rotate(-90 575.4 413.4)">R2305</text>
<rect x="577.4" y="403.9" width="27.7" height="13.3" fill="#fff" stroke="#444" stroke-width="0.7"/>
<text x="579.1" y="415.3" font-size="13.4" textLength="24.4" lengthAdjust="spacingAndGlyphs" fill="#222" font-weight="normal" stroke="#fff" stroke-width="0.21">C2518</text>
<rect x="545.5" y="417.2" width="6.4" height="11.6" fill="#fafafa" stroke="#333" stroke-width="0.75"/>
<text x="544.4" y="424.9" font-size="5.4" textLength="8.7" lengthAdjust="spacingAndGlyphs" fill="#555" font-weight="normal" transform="rotate(-90 548.7 423.0)">2XX</text>
<rect x="553.5" y="418.8" width="9.3" height="10.4" fill="#fafafa" stroke="#333" stroke-width="0.75"/>
<text x="553.9" y="427.0" font-size="8.3" textLength="8.5" lengthAdjust="spacingAndGlyphs" fill="#444" font-weight="normal" stroke="#fff" stroke-width="0.13" transform="rotate(-90 558.1 424.0)">2513</text>
<rect x="563.6" y="418.0" width="7.2" height="5.2" fill="#ececec" stroke="#2a2a2a" stroke-width="0.8"/>
<text x="564.4" y="422.2" font-size="4.4" textLength="5.6" lengthAdjust="spacingAndGlyphs" fill="#1a1a1a" font-weight="bold" stroke="#1a1a1a" stroke-width="0.1">C2318</text>
<rect x="563.6" y="423.2" width="8.0" height="12.0" fill="#fafafa" stroke="#333" stroke-width="0.75"/>
<text x="562.7" y="431.8" font-size="7.2" textLength="9.8" lengthAdjust="spacingAndGlyphs" fill="#444" font-weight="normal" transform="rotate(-90 567.6 429.2)">2514</text>
<rect x="572.6" y="418.4" width="5.6" height="9.6" fill="#ececec" stroke="#2a2a2a" stroke-width="0.8"/>
<text x="571.7" y="424.9" font-size="4.7" textLength="7.5" lengthAdjust="spacingAndGlyphs" fill="#1a1a1a" font-weight="bold" stroke="#1a1a1a" stroke-width="0.1" transform="rotate(-90 575.4 423.2)">R2412</text>
<rect x="581.4" y="418.0" width="5.7" height="9.6" fill="#ececec" stroke="#2a2a2a" stroke-width="0.8"/>
<text x="580.5" y="424.5" font-size="4.8" textLength="7.5" lengthAdjust="spacingAndGlyphs" fill="#1a1a1a" font-weight="bold" stroke="#1a1a1a" stroke-width="0.1" transform="rotate(-90 584.2 422.8)">C2507</text>
<rect x="591.9" y="419.2" width="10.0" height="5.6" fill="#ececec" stroke="#2a2a2a" stroke-width="0.8"/>
<text x="593.0" y="423.7" font-size="4.7" textLength="7.8" lengthAdjust="spacingAndGlyphs" fill="#1a1a1a" font-weight="bold" stroke="#1a1a1a" stroke-width="0.1">R2088</text>
<rect x="530.6" y="424.4" width="5.2" height="10.0" fill="#ececec" stroke="#2a2a2a" stroke-width="0.8"/>
<text x="529.3" y="431.0" font-size="4.4" textLength="7.8" lengthAdjust="spacingAndGlyphs" fill="#1a1a1a" font-weight="bold" stroke="#1a1a1a" stroke-width="0.1" transform="rotate(-90 533.2 429.4)">C2433</text>
<rect x="536.6" y="421.6" width="5.7" height="10.0" fill="#ececec" stroke="#2a2a2a" stroke-width="0.8"/>
<text x="535.6" y="428.3" font-size="4.8" textLength="7.8" lengthAdjust="spacingAndGlyphs" fill="#1a1a1a" font-weight="bold" stroke="#1a1a1a" stroke-width="0.1" transform="rotate(-90 539.5 426.6)">R2516</text>
<rect x="545.5" y="428.8" width="6.4" height="7.2" fill="#ececec" stroke="#2a2a2a" stroke-width="0.8"/>
<text x="545.9" y="434.3" font-size="5.4" textLength="5.6" lengthAdjust="spacingAndGlyphs" fill="#1a1a1a" font-weight="bold" stroke="#1a1a1a" stroke-width="0.1" transform="rotate(-90 548.7 432.4)">C2809</text>
<rect x="553.5" y="430.0" width="9.3" height="6.8" fill="#fafafa" stroke="#333" stroke-width="0.75"/>
<text x="554.3" y="435.6" font-size="6.1" textLength="7.6" lengthAdjust="spacingAndGlyphs" fill="#444" font-weight="normal">2515</text>
<rect x="530.6" y="434.8" width="5.2" height="9.7" fill="#ececec" stroke="#2a2a2a" stroke-width="0.8"/>
<text x="529.4" y="441.2" font-size="4.4" textLength="7.6" lengthAdjust="spacingAndGlyphs" fill="#1a1a1a" font-weight="bold" stroke="#1a1a1a" stroke-width="0.1" transform="rotate(-90 533.2 439.6)">R2305</text>
<rect x="536.6" y="432.0" width="6.5" height="11.3" fill="#ececec" stroke="#2a2a2a" stroke-width="0.8"/>
<text x="535.4" y="439.6" font-size="5.4" textLength="8.8" lengthAdjust="spacingAndGlyphs" fill="#1a1a1a" font-weight="bold" stroke="#1a1a1a" stroke-width="0.1" transform="rotate(-90 539.9 437.6)">C2318</text>
<rect x="544.7" y="436.4" width="8.4" height="10.5" fill="#fafafa" stroke="#333" stroke-width="0.75"/>
<text x="544.6" y="444.3" font-size="7.5" textLength="8.6" lengthAdjust="spacingAndGlyphs" fill="#444" font-weight="normal" transform="rotate(-90 548.9 441.6)">2516</text>
<rect x="553.5" y="438.1" width="11.3" height="10.0" fill="#fafafa" stroke="#333" stroke-width="0.75"/>
<text x="554.5" y="446.3" font-size="8.9" textLength="9.3" lengthAdjust="spacingAndGlyphs" fill="#444" font-weight="normal" stroke="#fff" stroke-width="0.14">Q2502</text>
<rect x="567.8" y="436.4" width="9.6" height="5.3" fill="#ececec" stroke="#2a2a2a" stroke-width="0.8"/>
<text x="568.9" y="440.6" font-size="4.4" textLength="7.5" lengthAdjust="spacingAndGlyphs" fill="#1a1a1a" font-weight="bold" stroke="#1a1a1a" stroke-width="0.1">R2412</text>
<rect x="578.2" y="435.2" width="5.7" height="9.7" fill="#fafafa" stroke="#333" stroke-width="0.75"/>
<text x="577.4" y="441.8" font-size="4.8" textLength="7.3" lengthAdjust="spacingAndGlyphs" fill="#555" font-weight="normal" transform="rotate(-90 581.0 440.0)">2XX</text>
<rect x="583.5" y="429.6" width="10.0" height="12.1" fill="#fafafa" stroke="#333" stroke-width="0.75"/>
<text x="583.5" y="438.8" font-size="8.9" textLength="9.9" lengthAdjust="spacingAndGlyphs" fill="#444" font-weight="normal" stroke="#fff" stroke-width="0.14" transform="rotate(-90 588.5 435.6)">2517</text>
<rect x="593.9" y="429.6" width="10.4" height="12.1" fill="#fafafa" stroke="#333" stroke-width="0.75"/>
<text x="594.1" y="439.0" font-size="9.3" textLength="9.9" lengthAdjust="spacingAndGlyphs" fill="#444" font-weight="normal" stroke="#fff" stroke-width="0.15" transform="rotate(-90 599.1 435.6)">2518</text>
<rect x="580.2" y="444.9" width="10.1" height="5.6" fill="#ececec" stroke="#2a2a2a" stroke-width="0.8"/>
<text x="581.3" y="449.4" font-size="4.7" textLength="7.9" lengthAdjust="spacingAndGlyphs" fill="#1a1a1a" font-weight="bold" stroke="#1a1a1a" stroke-width="0.1">C2507</text>
<rect x="591.5" y="442.5" width="12.0" height="10.0" fill="#fafafa" stroke="#333" stroke-width="0.75" rx="1.5"/>
<text x="592.6" y="450.7" font-size="8.9" textLength="9.8" lengthAdjust="spacingAndGlyphs" fill="#444" font-weight="normal" stroke="#fff" stroke-width="0.14">Q2503</text>
<rect x="585.1" y="452.9" width="12.4" height="10.5" fill="#fafafa" stroke="#333" stroke-width="0.75" rx="1.5"/>
<text x="586.2" y="461.5" font-size="9.4" textLength="10.2" lengthAdjust="spacingAndGlyphs" fill="#444" font-weight="normal" stroke="#fff" stroke-width="0.15">C2505</text>
<rect x="535.0" y="442.9" width="6.5" height="4.8" fill="#ececec" stroke="#2a2a2a" stroke-width="0.8"/>
<text x="535.7" y="446.7" font-size="4.0" textLength="5.1" lengthAdjust="spacingAndGlyphs" fill="#1a1a1a" font-weight="bold" stroke="#1a1a1a" stroke-width="0.1">R2088</text>
<rect x="531.0" y="447.7" width="12.1" height="6.4" fill="#fafafa" stroke="#333" stroke-width="0.75"/>
<text x="532.1" y="452.9" font-size="5.7" textLength="9.9" lengthAdjust="spacingAndGlyphs" fill="#444" font-weight="normal">C2504</text>
<rect x="543.5" y="447.7" width="9.2" height="6.0" fill="#ececec" stroke="#2a2a2a" stroke-width="0.8"/>
<text x="544.5" y="452.5" font-size="5.0" textLength="7.2" lengthAdjust="spacingAndGlyphs" fill="#1a1a1a" font-weight="bold" stroke="#1a1a1a" stroke-width="0.1">C2433</text>
<rect x="553.1" y="447.7" width="9.7" height="6.0" fill="#ececec" stroke="#2a2a2a" stroke-width="0.8"/>
<text x="554.2" y="452.5" font-size="5.0" textLength="7.6" lengthAdjust="spacingAndGlyphs" fill="#1a1a1a" font-weight="bold" stroke="#1a1a1a" stroke-width="0.1">R2516</text>
<rect x="535.0" y="454.5" width="9.3" height="5.2" fill="#ececec" stroke="#2a2a2a" stroke-width="0.8"/>
<text x="536.0" y="458.7" font-size="4.4" textLength="7.3" lengthAdjust="spacingAndGlyphs" fill="#1a1a1a" font-weight="bold" stroke="#1a1a1a" stroke-width="0.1">C2809</text>
<rect x="544.3" y="454.5" width="9.2" height="5.2" fill="#ececec" stroke="#2a2a2a" stroke-width="0.8"/>
<text x="545.3" y="458.7" font-size="4.4" textLength="7.2" lengthAdjust="spacingAndGlyphs" fill="#1a1a1a" font-weight="bold" stroke="#1a1a1a" stroke-width="0.1">R2305</text>
<rect x="553.5" y="454.5" width="9.3" height="5.2" fill="#ececec" stroke="#2a2a2a" stroke-width="0.8"/>
<text x="554.5" y="458.7" font-size="4.4" textLength="7.3" lengthAdjust="spacingAndGlyphs" fill="#1a1a1a" font-weight="bold" stroke="#1a1a1a" stroke-width="0.1">C2318</text>
<rect x="569.1" y="452.5" width="10.2" height="5.5" fill="#ececec" stroke="#2a2a2a" stroke-width="0.8"/>
<text x="570.2" y="456.9" font-size="4.6" textLength="8.0" lengthAdjust="spacingAndGlyphs" fill="#1a1a1a" font-weight="bold" stroke="#1a1a1a" stroke-width="0.1">R2412</text>
<rect x="569.1" y="458.0" width="10.2" height="5.4" fill="#ececec" stroke="#2a2a2a" stroke-width="0.8"/>
<text x="570.2" y="462.3" font-size="4.5" textLength="8.0" lengthAdjust="spacingAndGlyphs" fill="#1a1a1a" font-weight="bold" stroke="#1a1a1a" stroke-width="0.1">C2507</text>
</g>
</svg>
</body></html>
